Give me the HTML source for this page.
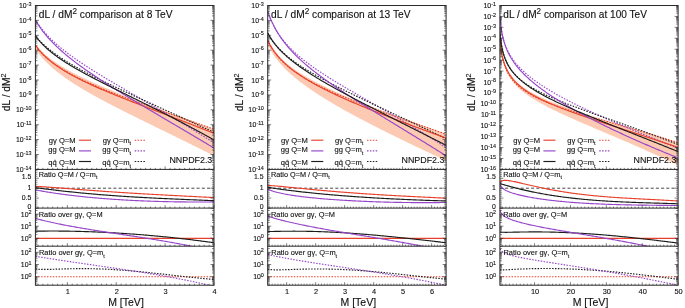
<!DOCTYPE html>
<html><head><meta charset="utf-8"><style>
html,body{margin:0;padding:0;background:#fff;}
svg{display:block;filter:blur(0.3px);}
text{font-family:"Liberation Sans", sans-serif;fill:#111;stroke:#111;stroke-width:0.12px;}
</style></head><body>
<svg width="685" height="308" viewBox="0 0 685 308">
<defs><clipPath id="c00"><rect x="35.4" y="5.5" width="178.6" height="163.9"/></clipPath><clipPath id="c01"><rect x="35.4" y="169.4" width="178.6" height="38.7"/></clipPath><clipPath id="c02"><rect x="35.4" y="208.1" width="178.6" height="38.1"/></clipPath><clipPath id="c03"><rect x="35.4" y="246.2" width="178.6" height="39"/></clipPath><clipPath id="c10"><rect x="267.7" y="5.5" width="178.4" height="163.9"/></clipPath><clipPath id="c11"><rect x="267.7" y="169.4" width="178.4" height="38.7"/></clipPath><clipPath id="c12"><rect x="267.7" y="208.1" width="178.4" height="38.1"/></clipPath><clipPath id="c13"><rect x="267.7" y="246.2" width="178.4" height="39"/></clipPath><clipPath id="c20"><rect x="499.9" y="5.5" width="178.2" height="163.9"/></clipPath><clipPath id="c21"><rect x="499.9" y="169.4" width="178.2" height="38.7"/></clipPath><clipPath id="c22"><rect x="499.9" y="208.1" width="178.2" height="38.1"/></clipPath><clipPath id="c23"><rect x="499.9" y="246.2" width="178.2" height="39"/></clipPath></defs>
<rect width="685" height="308" fill="#fff"/>
<g clip-path="url(#c00)" fill="none" stroke-width="1.15">
<path d="M35.4 43.63 L36.52 45.14 L37.65 46.55 L38.77 47.89 L39.89 49.16 L41.02 50.37 L42.14 51.52 L43.26 52.62 L44.39 53.68 L45.51 54.69 L46.63 55.67 L47.76 56.61 L48.88 57.52 L50 58.4 L51.13 59.25 L52.25 60.07 L53.37 60.88 L54.5 61.66 L55.62 62.41 L56.74 63.15 L57.87 63.87 L58.99 64.58 L60.11 65.27 L61.24 65.98 L62.36 66.69 L63.48 67.37 L64.61 68.05 L65.73 68.71 L66.85 69.36 L67.97 70 L69.1 70.63 L70.22 71.25 L71.34 71.86 L72.47 72.46 L73.59 73.06 L74.71 73.64 L75.84 74.22 L76.96 74.79 L78.08 75.35 L79.21 75.91 L80.33 76.46 L81.45 77 L82.58 77.54 L83.7 78.07 L84.82 78.6 L85.95 79.12 L87.07 79.64 L88.19 80.15 L89.32 80.66 L90.44 81.17 L91.56 81.69 L92.69 82.21 L93.81 82.72 L94.93 83.23 L96.06 83.73 L97.18 84.23 L98.3 84.73 L99.43 85.22 L100.55 85.72 L101.67 86.21 L102.8 86.69 L103.92 87.18 L105.04 87.66 L106.17 88.14 L107.29 88.61 L108.41 89.09 L109.54 89.56 L110.66 90.03 L111.78 90.5 L112.91 90.96 L114.03 91.43 L115.15 91.89 L116.28 92.35 L117.4 92.81 L118.52 93.27 L119.65 93.72 L120.77 94.18 L121.89 94.63 L123.02 95.08 L124.14 95.53 L125.26 95.98 L126.38 96.43 L127.51 96.88 L128.63 97.33 L129.75 97.77 L130.88 98.2 L132 98.63 L133.12 99.05 L134.25 99.47 L135.37 99.9 L136.49 100.32 L137.62 100.74 L138.74 101.16 L139.86 101.58 L140.99 102 L142.11 102.42 L143.23 102.84 L144.36 103.25 L145.48 103.67 L146.6 104.09 L147.73 104.51 L148.85 104.92 L149.97 105.34 L151.1 105.76 L152.22 106.17 L153.34 106.59 L154.47 107 L155.59 107.42 L156.71 107.83 L157.84 108.25 L158.96 108.66 L160.08 109.08 L161.21 109.49 L162.33 109.91 L163.45 110.32 L164.58 110.74 L165.7 111.15 L166.82 111.57 L167.95 111.98 L169.07 112.4 L170.19 112.82 L171.32 113.23 L172.44 113.65 L173.56 114.06 L174.69 114.48 L175.81 114.9 L176.93 115.31 L178.06 115.73 L179.18 116.15 L180.3 116.57 L181.43 116.98 L182.55 117.4 L183.67 117.82 L184.79 118.24 L185.92 118.66 L187.04 119.08 L188.16 119.5 L189.29 119.92 L190.41 120.34 L191.53 120.76 L192.66 121.18 L193.78 121.61 L194.9 122.03 L196.03 122.45 L197.15 122.88 L198.27 123.3 L199.4 123.73 L200.52 124.15 L201.64 124.58 L202.77 125 L203.89 125.43 L205.01 125.86 L206.14 126.29 L207.26 126.72 L208.38 127.15 L209.51 127.58 L210.63 128.01 L211.75 128.44 L212.88 128.87 L214 129.3 L214 155.8 L212.88 155.24 L211.75 154.67 L210.63 154.1 L209.51 153.54 L208.38 152.97 L207.26 152.41 L206.14 151.85 L205.01 151.29 L203.89 150.72 L202.77 150.16 L201.64 149.6 L200.52 149.04 L199.4 148.48 L198.27 147.92 L197.15 147.36 L196.03 146.8 L194.9 146.25 L193.78 145.69 L192.66 145.13 L191.53 144.58 L190.41 144.02 L189.29 143.46 L188.16 142.91 L187.04 142.35 L185.92 141.8 L184.79 141.25 L183.67 140.69 L182.55 140.14 L181.43 139.59 L180.3 139.03 L179.18 138.48 L178.06 137.93 L176.93 137.38 L175.81 136.83 L174.69 136.28 L173.56 135.72 L172.44 135.17 L171.32 134.62 L170.19 134.07 L169.07 133.52 L167.95 132.97 L166.82 132.42 L165.7 131.87 L164.58 131.32 L163.45 130.77 L162.33 130.22 L161.21 129.67 L160.08 129.13 L158.96 128.58 L157.84 128.03 L156.71 127.48 L155.59 126.93 L154.47 126.38 L153.34 125.83 L152.22 125.28 L151.1 124.73 L149.97 124.18 L148.85 123.62 L147.73 123.07 L146.6 122.52 L145.48 121.97 L144.36 121.42 L143.23 120.87 L142.11 120.31 L140.99 119.76 L139.86 119.21 L138.74 118.65 L137.62 118.1 L136.49 117.54 L135.37 116.98 L134.25 116.43 L133.12 115.87 L132 115.31 L130.88 114.75 L129.75 114.19 L128.63 113.63 L127.51 113.07 L126.38 112.51 L125.26 111.94 L124.14 111.38 L123.02 110.81 L121.89 110.24 L120.77 109.68 L119.65 109.11 L118.52 108.53 L117.4 107.96 L116.28 107.39 L115.15 106.81 L114.03 106.23 L112.91 105.65 L111.78 105.07 L110.66 104.49 L109.54 103.91 L108.41 103.32 L107.29 102.73 L106.17 102.14 L105.04 101.55 L103.92 100.95 L102.8 100.35 L101.67 99.75 L100.55 99.15 L99.43 98.54 L98.3 97.93 L97.18 97.32 L96.06 96.7 L94.93 96.09 L93.81 95.46 L92.69 94.84 L91.56 94.21 L90.44 93.57 L89.32 92.94 L88.19 92.29 L87.07 91.65 L85.95 91 L84.82 90.34 L83.7 89.68 L82.58 89.01 L81.45 88.34 L80.33 87.66 L79.21 86.98 L78.08 86.29 L76.96 85.59 L75.84 84.89 L74.71 84.18 L73.59 83.46 L72.47 82.74 L71.34 82 L70.22 81.26 L69.1 80.51 L67.97 79.75 L66.85 78.97 L65.73 78.19 L64.61 77.4 L63.48 76.59 L62.36 75.77 L61.24 74.94 L60.11 74.09 L58.99 73.23 L57.87 72.35 L56.74 71.46 L55.62 70.55 L54.5 69.62 L53.37 68.67 L52.25 67.69 L51.13 66.7 L50 65.67 L48.88 64.62 L47.76 63.55 L46.63 62.44 L45.51 61.29 L44.39 60.11 L43.26 58.88 L42.14 57.62 L41.02 56.3 L39.89 54.93 L38.77 53.49 L37.65 51.99 L36.52 50.42 L35.4 48.76Z" fill="#fcc9b2" stroke="none"/>
<path d="M35.4 45.86 L36.52 47.33 L37.65 48.72 L38.77 50.04 L39.89 51.3 L41.02 52.5 L42.14 53.65 L43.26 54.75 L44.39 55.82 L45.51 56.84 L46.63 57.83 L47.76 58.79 L48.88 59.71 L50 60.61 L51.13 61.49 L52.25 62.34 L53.37 63.17 L54.5 63.97 L55.62 64.76 L56.74 65.53 L57.87 66.29 L58.99 67.02 L60.11 67.75 L61.24 68.46 L62.36 69.15 L63.48 69.83 L64.61 70.5 L65.73 71.16 L66.85 71.81 L67.97 72.45 L69.1 73.07 L70.22 73.69 L71.34 74.3 L72.47 74.9 L73.59 75.5 L74.71 76.08 L75.84 76.66 L76.96 77.23 L78.08 77.79 L79.21 78.35 L80.33 78.9 L81.45 79.45 L82.58 79.99 L83.7 80.52 L84.82 81.05 L85.95 81.57 L87.07 82.09 L88.19 82.6 L89.32 83.11 L90.44 83.62 L91.56 84.12 L92.69 84.61 L93.81 85.11 L94.93 85.6 L96.06 86.08 L97.18 86.56 L98.3 87.04 L99.43 87.52 L100.55 87.99 L101.67 88.46 L102.8 88.93 L103.92 89.39 L105.04 89.85 L106.17 90.31 L107.29 90.76 L108.41 91.22 L109.54 91.67 L110.66 92.11 L111.78 92.56 L112.91 93 L114.03 93.45 L115.15 93.89 L116.28 94.32 L117.4 94.76 L118.52 95.19 L119.65 95.63 L120.77 96.06 L121.89 96.49 L123.02 96.91 L124.14 97.34 L125.26 97.76 L126.38 98.19 L127.51 98.61 L128.63 99.03 L129.75 99.45 L130.88 99.87 L132 100.28 L133.12 100.7 L134.25 101.11 L135.37 101.52 L136.49 101.94 L137.62 102.35 L138.74 102.76 L139.86 103.17 L140.99 103.57 L142.11 103.98 L143.23 104.39 L144.36 104.79 L145.48 105.2 L146.6 105.6 L147.73 106 L148.85 106.41 L149.97 106.81 L151.1 107.21 L152.22 107.61 L153.34 108.01 L154.47 108.41 L155.59 108.81 L156.71 109.2 L157.84 109.6 L158.96 110 L160.08 110.4 L161.21 110.79 L162.33 111.19 L163.45 111.58 L164.58 111.98 L165.7 112.37 L166.82 112.77 L167.95 113.16 L169.07 113.55 L170.19 113.95 L171.32 114.34 L172.44 114.73 L173.56 115.12 L174.69 115.52 L175.81 115.91 L176.93 116.3 L178.06 116.69 L179.18 117.08 L180.3 117.47 L181.43 117.86 L182.55 118.25 L183.67 118.65 L184.79 119.04 L185.92 119.43 L187.04 119.82 L188.16 120.21 L189.29 120.6 L190.41 120.99 L191.53 121.38 L192.66 121.77 L193.78 122.16 L194.9 122.55 L196.03 122.94 L197.15 123.33 L198.27 123.72 L199.4 124.11 L200.52 124.5 L201.64 124.89 L202.77 125.28 L203.89 125.67 L205.01 126.06 L206.14 126.45 L207.26 126.84 L208.38 127.23 L209.51 127.62 L210.63 128.01 L211.75 128.41 L212.88 128.8 L214 129.19" stroke="#e8402a" stroke-dasharray="1.5 1.4"/>
<path d="M35.4 19.74 L36.52 21.56 L37.65 23.27 L38.77 24.91 L39.89 26.46 L41.02 27.96 L42.14 29.39 L43.26 30.77 L44.39 32.1 L45.51 33.39 L46.63 34.63 L47.76 35.84 L48.88 37.02 L50 38.16 L51.13 39.27 L52.25 40.36 L53.37 41.42 L54.5 42.45 L55.62 43.47 L56.74 44.46 L57.87 45.44 L58.99 46.4 L60.11 47.34 L61.24 48.26 L62.36 49.17 L63.48 50.07 L64.61 50.95 L65.73 51.82 L66.85 52.68 L67.97 53.52 L69.1 54.36 L70.22 55.19 L71.34 56.01 L72.47 56.81 L73.59 57.61 L74.71 58.4 L75.84 59.19 L76.96 59.97 L78.08 60.73 L79.21 61.5 L80.33 62.26 L81.45 63.01 L82.58 63.75 L83.7 64.49 L84.82 65.23 L85.95 65.96 L87.07 66.68 L88.19 67.4 L89.32 68.12 L90.44 68.83 L91.56 69.54 L92.69 70.25 L93.81 70.95 L94.93 71.65 L96.06 72.34 L97.18 73.04 L98.3 73.73 L99.43 74.41 L100.55 75.1 L101.67 75.78 L102.8 76.46 L103.92 77.14 L105.04 77.81 L106.17 78.49 L107.29 79.16 L108.41 79.83 L109.54 80.5 L110.66 81.17 L111.78 81.83 L112.91 82.5 L114.03 83.16 L115.15 83.82 L116.28 84.48 L117.4 85.14 L118.52 85.8 L119.65 86.46 L120.77 87.12 L121.89 87.77 L123.02 88.43 L124.14 89.09 L125.26 89.74 L126.38 90.39 L127.51 91.05 L128.63 91.7 L129.75 92.36 L130.88 93.01 L132 93.66 L133.12 94.31 L134.25 94.97 L135.37 95.62 L136.49 96.27 L137.62 96.92 L138.74 97.58 L139.86 98.23 L140.99 98.88 L142.11 99.53 L143.23 100.19 L144.36 100.84 L145.48 101.49 L146.6 102.15 L147.73 102.8 L148.85 103.46 L149.97 104.11 L151.1 104.77 L152.22 105.42 L153.34 106.08 L154.47 106.74 L155.59 107.39 L156.71 108.05 L157.84 108.71 L158.96 109.37 L160.08 110.03 L161.21 110.69 L162.33 111.35 L163.45 112.01 L164.58 112.68 L165.7 113.34 L166.82 114.01 L167.95 114.67 L169.07 115.34 L170.19 116 L171.32 116.67 L172.44 117.34 L173.56 118.01 L174.69 118.68 L175.81 119.35 L176.93 120.03 L178.06 120.7 L179.18 121.38 L180.3 122.05 L181.43 122.73 L182.55 123.41 L183.67 124.09 L184.79 124.77 L185.92 125.45 L187.04 126.13 L188.16 126.82 L189.29 127.5 L190.41 128.19 L191.53 128.87 L192.66 129.56 L193.78 130.25 L194.9 130.94 L196.03 131.64 L197.15 132.33 L198.27 133.02 L199.4 133.72 L200.52 134.42 L201.64 135.12 L202.77 135.82 L203.89 136.52 L205.01 137.22 L206.14 137.93 L207.26 138.63 L208.38 139.34 L209.51 140.05 L210.63 140.76 L211.75 141.47 L212.88 142.18 L214 142.89" stroke="#9646c8" stroke-dasharray="1.5 1.4"/>
<path d="M35.4 35.65 L36.52 37.04 L37.65 38.36 L38.77 39.62 L39.89 40.83 L41.02 41.99 L42.14 43.11 L43.26 44.19 L44.39 45.23 L45.51 46.24 L46.63 47.23 L47.76 48.18 L48.88 49.11 L50 50.02 L51.13 50.9 L52.25 51.77 L53.37 52.61 L54.5 53.44 L55.62 54.26 L56.74 55.05 L57.87 55.84 L58.99 56.61 L60.11 57.37 L61.24 58.11 L62.36 58.85 L63.48 59.57 L64.61 60.28 L65.73 60.99 L66.85 61.69 L67.97 62.37 L69.1 63.05 L70.22 63.72 L71.34 64.39 L72.47 65.05 L73.59 65.7 L74.71 66.34 L75.84 66.98 L76.96 67.61 L78.08 68.24 L79.21 68.86 L80.33 69.48 L81.45 70.09 L82.58 70.7 L83.7 71.3 L84.82 71.9 L85.95 72.5 L87.07 73.09 L88.19 73.68 L89.32 74.26 L90.44 74.84 L91.56 75.42 L92.69 76 L93.81 76.57 L94.93 77.14 L96.06 77.7 L97.18 78.27 L98.3 78.83 L99.43 79.38 L100.55 79.94 L101.67 80.49 L102.8 81.05 L103.92 81.6 L105.04 82.14 L106.17 82.69 L107.29 83.23 L108.41 83.78 L109.54 84.32 L110.66 84.85 L111.78 85.39 L112.91 85.93 L114.03 86.46 L115.15 87 L116.28 87.53 L117.4 88.06 L118.52 88.59 L119.65 89.12 L120.77 89.64 L121.89 90.17 L123.02 90.69 L124.14 91.22 L125.26 91.74 L126.38 92.26 L127.51 92.78 L128.63 93.3 L129.75 93.82 L130.88 94.34 L132 94.86 L133.12 95.38 L134.25 95.9 L135.37 96.41 L136.49 96.93 L137.62 97.44 L138.74 97.96 L139.86 98.47 L140.99 98.99 L142.11 99.5 L143.23 100.01 L144.36 100.53 L145.48 101.04 L146.6 101.55 L147.73 102.06 L148.85 102.58 L149.97 103.09 L151.1 103.6 L152.22 104.11 L153.34 104.62 L154.47 105.13 L155.59 105.64 L156.71 106.15 L157.84 106.66 L158.96 107.17 L160.08 107.68 L161.21 108.19 L162.33 108.7 L163.45 109.22 L164.58 109.73 L165.7 110.24 L166.82 110.75 L167.95 111.26 L169.07 111.77 L170.19 112.28 L171.32 112.79 L172.44 113.3 L173.56 113.81 L174.69 114.32 L175.81 114.83 L176.93 115.34 L178.06 115.86 L179.18 116.37 L180.3 116.88 L181.43 117.39 L182.55 117.91 L183.67 118.42 L184.79 118.93 L185.92 119.44 L187.04 119.96 L188.16 120.47 L189.29 120.99 L190.41 121.5 L191.53 122.02 L192.66 122.53 L193.78 123.05 L194.9 123.56 L196.03 124.08 L197.15 124.6 L198.27 125.11 L199.4 125.63 L200.52 126.15 L201.64 126.67 L202.77 127.19 L203.89 127.7 L205.01 128.22 L206.14 128.74 L207.26 129.26 L208.38 129.79 L209.51 130.31 L210.63 130.83 L211.75 131.35 L212.88 131.87 L214 132.4" stroke="#1c1c1c" stroke-dasharray="1.5 1.4"/>
<path d="M35.4 45.15 L36.52 46.72 L37.65 48.19 L38.77 49.59 L39.89 50.91 L41.02 52.18 L42.14 53.39 L43.26 54.55 L44.39 55.66 L45.51 56.74 L46.63 57.77 L47.76 58.77 L48.88 59.74 L50 60.68 L51.13 61.59 L52.25 62.47 L53.37 63.33 L54.5 64.17 L55.62 64.99 L56.74 65.78 L57.87 66.56 L58.99 67.32 L60.11 68.07 L61.24 68.8 L62.36 69.52 L63.48 70.22 L64.61 70.91 L65.73 71.59 L66.85 72.25 L67.97 72.91 L69.1 73.55 L70.22 74.19 L71.34 74.81 L72.47 75.43 L73.59 76.04 L74.71 76.64 L75.84 77.23 L76.96 77.82 L78.08 78.39 L79.21 78.97 L80.33 79.53 L81.45 80.09 L82.58 80.64 L83.7 81.19 L84.82 81.73 L85.95 82.27 L87.07 82.8 L88.19 83.33 L89.32 83.85 L90.44 84.37 L91.56 84.88 L92.69 85.39 L93.81 85.9 L94.93 86.4 L96.06 86.9 L97.18 87.4 L98.3 87.89 L99.43 88.38 L100.55 88.86 L101.67 89.35 L102.8 89.83 L103.92 90.31 L105.04 90.78 L106.17 91.25 L107.29 91.72 L108.41 92.19 L109.54 92.66 L110.66 93.12 L111.78 93.59 L112.91 94.05 L114.03 94.51 L115.15 94.96 L116.28 95.42 L117.4 95.87 L118.52 96.32 L119.65 96.77 L120.77 97.22 L121.89 97.67 L123.02 98.12 L124.14 98.56 L125.26 99.01 L126.38 99.45 L127.51 99.89 L128.63 100.33 L129.75 100.77 L130.88 101.21 L132 101.65 L133.12 102.09 L134.25 102.52 L135.37 102.96 L136.49 103.4 L137.62 103.83 L138.74 104.26 L139.86 104.7 L140.99 105.13 L142.11 105.56 L143.23 105.99 L144.36 106.43 L145.48 106.86 L146.6 107.29 L147.73 107.72 L148.85 108.15 L149.97 108.58 L151.1 109.01 L152.22 109.44 L153.34 109.87 L154.47 110.29 L155.59 110.72 L156.71 111.15 L157.84 111.58 L158.96 112.01 L160.08 112.44 L161.21 112.87 L162.33 113.29 L163.45 113.72 L164.58 114.15 L165.7 114.58 L166.82 115.01 L167.95 115.44 L169.07 115.86 L170.19 116.29 L171.32 116.72 L172.44 117.15 L173.56 117.58 L174.69 118.01 L175.81 118.44 L176.93 118.87 L178.06 119.3 L179.18 119.73 L180.3 120.16 L181.43 120.6 L182.55 121.03 L183.67 121.46 L184.79 121.89 L185.92 122.32 L187.04 122.76 L188.16 123.19 L189.29 123.63 L190.41 124.06 L191.53 124.49 L192.66 124.93 L193.78 125.37 L194.9 125.8 L196.03 126.24 L197.15 126.68 L198.27 127.11 L199.4 127.55 L200.52 127.99 L201.64 128.43 L202.77 128.87 L203.89 129.31 L205.01 129.75 L206.14 130.19 L207.26 130.64 L208.38 131.08 L209.51 131.52 L210.63 131.97 L211.75 132.41 L212.88 132.86 L214 133.3" stroke="#e8402a"/>
<path d="M35.4 20.05 L36.52 21.97 L37.65 23.79 L38.77 25.53 L39.89 27.19 L41.02 28.78 L42.14 30.31 L43.26 31.79 L44.39 33.22 L45.51 34.6 L46.63 35.94 L47.76 37.25 L48.88 38.51 L50 39.75 L51.13 40.95 L52.25 42.12 L53.37 43.27 L54.5 44.4 L55.62 45.5 L56.74 46.58 L57.87 47.64 L58.99 48.68 L60.11 49.7 L61.24 50.71 L62.36 51.7 L63.48 52.67 L64.61 53.63 L65.73 54.58 L66.85 55.52 L67.97 56.44 L69.1 57.35 L70.22 58.25 L71.34 59.14 L72.47 60.02 L73.59 60.89 L74.71 61.75 L75.84 62.61 L76.96 63.45 L78.08 64.29 L79.21 65.12 L80.33 65.94 L81.45 66.76 L82.58 67.57 L83.7 68.37 L84.82 69.16 L85.95 69.96 L87.07 70.74 L88.19 71.52 L89.32 72.3 L90.44 73.07 L91.56 73.83 L92.69 74.59 L93.81 75.35 L94.93 76.1 L96.06 76.85 L97.18 77.6 L98.3 78.34 L99.43 79.07 L100.55 79.81 L101.67 80.54 L102.8 81.27 L103.92 81.99 L105.04 82.71 L106.17 83.43 L107.29 84.15 L108.41 84.86 L109.54 85.57 L110.66 86.28 L111.78 86.99 L112.91 87.69 L114.03 88.39 L115.15 89.09 L116.28 89.79 L117.4 90.49 L118.52 91.18 L119.65 91.87 L120.77 92.56 L121.89 93.25 L123.02 93.94 L124.14 94.63 L125.26 95.31 L126.38 95.99 L127.51 96.68 L128.63 97.36 L129.75 98.04 L130.88 98.72 L132 99.39 L133.12 100.07 L134.25 100.74 L135.37 101.42 L136.49 102.09 L137.62 102.76 L138.74 103.44 L139.86 104.11 L140.99 104.78 L142.11 105.45 L143.23 106.12 L144.36 106.78 L145.48 107.45 L146.6 108.12 L147.73 108.79 L148.85 109.45 L149.97 110.12 L151.1 110.78 L152.22 111.45 L153.34 112.11 L154.47 112.78 L155.59 113.44 L156.71 114.1 L157.84 114.77 L158.96 115.43 L160.08 116.09 L161.21 116.76 L162.33 117.42 L163.45 118.08 L164.58 118.74 L165.7 119.41 L166.82 120.07 L167.95 120.73 L169.07 121.39 L170.19 122.05 L171.32 122.72 L172.44 123.38 L173.56 124.04 L174.69 124.7 L175.81 125.37 L176.93 126.03 L178.06 126.69 L179.18 127.36 L180.3 128.02 L181.43 128.68 L182.55 129.35 L183.67 130.01 L184.79 130.67 L185.92 131.34 L187.04 132 L188.16 132.67 L189.29 133.33 L190.41 134 L191.53 134.66 L192.66 135.33 L193.78 136 L194.9 136.66 L196.03 137.33 L197.15 138 L198.27 138.67 L199.4 139.34 L200.52 140.01 L201.64 140.68 L202.77 141.35 L203.89 142.02 L205.01 142.69 L206.14 143.36 L207.26 144.03 L208.38 144.7 L209.51 145.38 L210.63 146.05 L211.75 146.72 L212.88 147.4 L214 148.07" stroke="#9646c8"/>
<path d="M35.4 35.84 L36.52 37.35 L37.65 38.78 L38.77 40.14 L39.89 41.44 L41.02 42.68 L42.14 43.87 L43.26 45.02 L44.39 46.12 L45.51 47.19 L46.63 48.22 L47.76 49.23 L48.88 50.2 L50 51.15 L51.13 52.07 L52.25 52.97 L53.37 53.84 L54.5 54.7 L55.62 55.54 L56.74 56.36 L57.87 57.17 L58.99 57.96 L60.11 58.74 L61.24 59.5 L62.36 60.26 L63.48 61 L64.61 61.73 L65.73 62.44 L66.85 63.15 L67.97 63.85 L69.1 64.55 L70.22 65.23 L71.34 65.91 L72.47 66.57 L73.59 67.24 L74.71 67.89 L75.84 68.54 L76.96 69.18 L78.08 69.82 L79.21 70.45 L80.33 71.08 L81.45 71.7 L82.58 72.32 L83.7 72.93 L84.82 73.54 L85.95 74.15 L87.07 74.75 L88.19 75.35 L89.32 75.95 L90.44 76.54 L91.56 77.13 L92.69 77.71 L93.81 78.3 L94.93 78.88 L96.06 79.46 L97.18 80.04 L98.3 80.61 L99.43 81.19 L100.55 81.76 L101.67 82.33 L102.8 82.89 L103.92 83.46 L105.04 84.03 L106.17 84.59 L107.29 85.15 L108.41 85.71 L109.54 86.27 L110.66 86.83 L111.78 87.39 L112.91 87.95 L114.03 88.51 L115.15 89.06 L116.28 89.62 L117.4 90.17 L118.52 90.73 L119.65 91.28 L120.77 91.84 L121.89 92.39 L123.02 92.94 L124.14 93.49 L125.26 94.05 L126.38 94.6 L127.51 95.15 L128.63 95.71 L129.75 96.26 L130.88 96.81 L132 97.36 L133.12 97.92 L134.25 98.47 L135.37 99.02 L136.49 99.58 L137.62 100.13 L138.74 100.69 L139.86 101.24 L140.99 101.8 L142.11 102.35 L143.23 102.91 L144.36 103.46 L145.48 104.02 L146.6 104.58 L147.73 105.14 L148.85 105.7 L149.97 106.26 L151.1 106.82 L152.22 107.38 L153.34 107.94 L154.47 108.5 L155.59 109.07 L156.71 109.63 L157.84 110.2 L158.96 110.76 L160.08 111.33 L161.21 111.9 L162.33 112.47 L163.45 113.04 L164.58 113.61 L165.7 114.18 L166.82 114.75 L167.95 115.32 L169.07 115.9 L170.19 116.47 L171.32 117.05 L172.44 117.63 L173.56 118.21 L174.69 118.79 L175.81 119.37 L176.93 119.95 L178.06 120.54 L179.18 121.12 L180.3 121.71 L181.43 122.29 L182.55 122.88 L183.67 123.47 L184.79 124.06 L185.92 124.66 L187.04 125.25 L188.16 125.84 L189.29 126.44 L190.41 127.04 L191.53 127.64 L192.66 128.24 L193.78 128.84 L194.9 129.44 L196.03 130.04 L197.15 130.65 L198.27 131.26 L199.4 131.87 L200.52 132.48 L201.64 133.09 L202.77 133.7 L203.89 134.31 L205.01 134.93 L206.14 135.55 L207.26 136.16 L208.38 136.79 L209.51 137.41 L210.63 138.03 L211.75 138.65 L212.88 139.28 L214 139.91" stroke="#1c1c1c"/>
</g>
<g clip-path="url(#c01)" fill="none" stroke-width="1.15">
<line x1="35.4" y1="188.2" x2="214" y2="188.2" stroke="#333" stroke-width="0.9" stroke-dasharray="3 2.2"/>
<path d="M35.4 186.44 L36.52 186.47 L37.65 186.52 L38.77 186.56 L39.89 186.62 L41.02 186.67 L42.14 186.74 L43.26 186.8 L44.39 186.87 L45.51 186.94 L46.63 187.01 L47.76 187.09 L48.88 187.16 L50 187.24 L51.13 187.32 L52.25 187.41 L53.37 187.49 L54.5 187.57 L55.62 187.66 L56.74 187.74 L57.87 187.83 L58.99 187.92 L60.11 188 L61.24 188.09 L62.36 188.18 L63.48 188.27 L64.61 188.36 L65.73 188.44 L66.85 188.53 L67.97 188.62 L69.1 188.71 L70.22 188.8 L71.34 188.89 L72.47 188.98 L73.59 189.07 L74.71 189.15 L75.84 189.24 L76.96 189.33 L78.08 189.42 L79.21 189.5 L80.33 189.59 L81.45 189.68 L82.58 189.77 L83.7 189.85 L84.82 189.94 L85.95 190.02 L87.07 190.11 L88.19 190.19 L89.32 190.28 L90.44 190.36 L91.56 190.44 L92.69 190.53 L93.81 190.61 L94.93 190.69 L96.06 190.78 L97.18 190.86 L98.3 190.94 L99.43 191.02 L100.55 191.1 L101.67 191.18 L102.8 191.26 L103.92 191.34 L105.04 191.42 L106.17 191.49 L107.29 191.57 L108.41 191.65 L109.54 191.73 L110.66 191.8 L111.78 191.88 L112.91 191.95 L114.03 192.03 L115.15 192.1 L116.28 192.18 L117.4 192.25 L118.52 192.32 L119.65 192.4 L120.77 192.47 L121.89 192.54 L123.02 192.61 L124.14 192.69 L125.26 192.76 L126.38 192.83 L127.51 192.9 L128.63 192.97 L129.75 193.04 L130.88 193.1 L132 193.17 L133.12 193.24 L134.25 193.31 L135.37 193.38 L136.49 193.44 L137.62 193.51 L138.74 193.58 L139.86 193.64 L140.99 193.71 L142.11 193.77 L143.23 193.84 L144.36 193.9 L145.48 193.97 L146.6 194.03 L147.73 194.1 L148.85 194.16 L149.97 194.22 L151.1 194.29 L152.22 194.35 L153.34 194.41 L154.47 194.47 L155.59 194.54 L156.71 194.6 L157.84 194.66 L158.96 194.72 L160.08 194.78 L161.21 194.84 L162.33 194.9 L163.45 194.96 L164.58 195.02 L165.7 195.08 L166.82 195.14 L167.95 195.2 L169.07 195.26 L170.19 195.32 L171.32 195.38 L172.44 195.44 L173.56 195.5 L174.69 195.56 L175.81 195.62 L176.93 195.67 L178.06 195.73 L179.18 195.79 L180.3 195.85 L181.43 195.91 L182.55 195.97 L183.67 196.02 L184.79 196.08 L185.92 196.14 L187.04 196.2 L188.16 196.25 L189.29 196.31 L190.41 196.37 L191.53 196.43 L192.66 196.48 L193.78 196.54 L194.9 196.6 L196.03 196.66 L197.15 196.71 L198.27 196.77 L199.4 196.83 L200.52 196.89 L201.64 196.95 L202.77 197 L203.89 197.06 L205.01 197.12 L206.14 197.18 L207.26 197.24 L208.38 197.29 L209.51 197.35 L210.63 197.41 L211.75 197.47 L212.88 197.53 L214 197.59" stroke="#e8402a"/>
<path d="M35.4 187.73 L36.52 187.87 L37.65 188 L38.77 188.14 L39.89 188.27 L41.02 188.41 L42.14 188.55 L43.26 188.68 L44.39 188.82 L45.51 188.96 L46.63 189.1 L47.76 189.23 L48.88 189.37 L50 189.51 L51.13 189.64 L52.25 189.78 L53.37 189.91 L54.5 190.04 L55.62 190.18 L56.74 190.31 L57.87 190.44 L58.99 190.57 L60.11 190.7 L61.24 190.82 L62.36 190.95 L63.48 191.08 L64.61 191.2 L65.73 191.33 L66.85 191.45 L67.97 191.57 L69.1 191.69 L70.22 191.81 L71.34 191.93 L72.47 192.05 L73.59 192.16 L74.71 192.28 L75.84 192.39 L76.96 192.51 L78.08 192.62 L79.21 192.73 L80.33 192.84 L81.45 192.95 L82.58 193.06 L83.7 193.17 L84.82 193.27 L85.95 193.38 L87.07 193.48 L88.19 193.58 L89.32 193.69 L90.44 193.79 L91.56 193.89 L92.69 193.99 L93.81 194.08 L94.93 194.18 L96.06 194.28 L97.18 194.37 L98.3 194.46 L99.43 194.56 L100.55 194.65 L101.67 194.74 L102.8 194.83 L103.92 194.92 L105.04 195.01 L106.17 195.09 L107.29 195.18 L108.41 195.26 L109.54 195.35 L110.66 195.43 L111.78 195.51 L112.91 195.6 L114.03 195.68 L115.15 195.76 L116.28 195.84 L117.4 195.91 L118.52 195.99 L119.65 196.07 L120.77 196.14 L121.89 196.22 L123.02 196.29 L124.14 196.37 L125.26 196.44 L126.38 196.51 L127.51 196.58 L128.63 196.65 L129.75 196.72 L130.88 196.79 L132 196.86 L133.12 196.93 L134.25 196.99 L135.37 197.06 L136.49 197.12 L137.62 197.19 L138.74 197.25 L139.86 197.32 L140.99 197.38 L142.11 197.44 L143.23 197.5 L144.36 197.57 L145.48 197.63 L146.6 197.69 L147.73 197.75 L148.85 197.8 L149.97 197.86 L151.1 197.92 L152.22 197.98 L153.34 198.04 L154.47 198.09 L155.59 198.15 L156.71 198.2 L157.84 198.26 L158.96 198.31 L160.08 198.37 L161.21 198.42 L162.33 198.47 L163.45 198.53 L164.58 198.58 L165.7 198.63 L166.82 198.68 L167.95 198.74 L169.07 198.79 L170.19 198.84 L171.32 198.89 L172.44 198.94 L173.56 198.99 L174.69 199.04 L175.81 199.09 L176.93 199.14 L178.06 199.18 L179.18 199.23 L180.3 199.28 L181.43 199.33 L182.55 199.38 L183.67 199.43 L184.79 199.47 L185.92 199.52 L187.04 199.57 L188.16 199.62 L189.29 199.66 L190.41 199.71 L191.53 199.76 L192.66 199.8 L193.78 199.85 L194.9 199.9 L196.03 199.94 L197.15 199.99 L198.27 200.04 L199.4 200.08 L200.52 200.13 L201.64 200.18 L202.77 200.22 L203.89 200.27 L205.01 200.32 L206.14 200.36 L207.26 200.41 L208.38 200.46 L209.51 200.5 L210.63 200.55 L211.75 200.6 L212.88 200.65 L214 200.69" stroke="#1c1c1c"/>
<path d="M35.4 189.83 L36.52 190.06 L37.65 190.28 L38.77 190.5 L39.89 190.71 L41.02 190.92 L42.14 191.12 L43.26 191.32 L44.39 191.52 L45.51 191.71 L46.63 191.9 L47.76 192.08 L48.88 192.26 L50 192.44 L51.13 192.62 L52.25 192.79 L53.37 192.96 L54.5 193.13 L55.62 193.3 L56.74 193.46 L57.87 193.62 L58.99 193.78 L60.11 193.93 L61.24 194.09 L62.36 194.24 L63.48 194.39 L64.61 194.53 L65.73 194.68 L66.85 194.82 L67.97 194.96 L69.1 195.1 L70.22 195.24 L71.34 195.37 L72.47 195.51 L73.59 195.64 L74.71 195.77 L75.84 195.9 L76.96 196.02 L78.08 196.15 L79.21 196.27 L80.33 196.39 L81.45 196.51 L82.58 196.63 L83.7 196.75 L84.82 196.86 L85.95 196.97 L87.07 197.09 L88.19 197.2 L89.32 197.3 L90.44 197.41 L91.56 197.52 L92.69 197.62 L93.81 197.72 L94.93 197.82 L96.06 197.92 L97.18 198.02 L98.3 198.12 L99.43 198.21 L100.55 198.31 L101.67 198.4 L102.8 198.49 L103.92 198.58 L105.04 198.67 L106.17 198.76 L107.29 198.84 L108.41 198.92 L109.54 199.01 L110.66 199.09 L111.78 199.17 L112.91 199.25 L114.03 199.33 L115.15 199.4 L116.28 199.48 L117.4 199.55 L118.52 199.62 L119.65 199.69 L120.77 199.76 L121.89 199.83 L123.02 199.9 L124.14 199.97 L125.26 200.03 L126.38 200.1 L127.51 200.16 L128.63 200.22 L129.75 200.28 L130.88 200.34 L132 200.4 L133.12 200.46 L134.25 200.51 L135.37 200.57 L136.49 200.62 L137.62 200.67 L138.74 200.72 L139.86 200.77 L140.99 200.82 L142.11 200.87 L143.23 200.92 L144.36 200.96 L145.48 201.01 L146.6 201.05 L147.73 201.09 L148.85 201.13 L149.97 201.17 L151.1 201.21 L152.22 201.25 L153.34 201.29 L154.47 201.33 L155.59 201.36 L156.71 201.39 L157.84 201.43 L158.96 201.46 L160.08 201.49 L161.21 201.52 L162.33 201.55 L163.45 201.58 L164.58 201.6 L165.7 201.63 L166.82 201.66 L167.95 201.68 L169.07 201.7 L170.19 201.73 L171.32 201.75 L172.44 201.77 L173.56 201.79 L174.69 201.81 L175.81 201.82 L176.93 201.84 L178.06 201.86 L179.18 201.87 L180.3 201.88 L181.43 201.9 L182.55 201.91 L183.67 201.92 L184.79 201.93 L185.92 201.94 L187.04 201.95 L188.16 201.96 L189.29 201.97 L190.41 201.97 L191.53 201.98 L192.66 201.98 L193.78 201.98 L194.9 201.99 L196.03 201.99 L197.15 201.99 L198.27 201.99 L199.4 201.99 L200.52 201.99 L201.64 201.99 L202.77 201.98 L203.89 201.98 L205.01 201.98 L206.14 201.97 L207.26 201.97 L208.38 201.96 L209.51 201.95 L210.63 201.94 L211.75 201.93 L212.88 201.93 L214 201.91" stroke="#9646c8"/>
</g>
<g clip-path="url(#c02)" fill="none" stroke-width="1.15">
<line x1="35.4" y1="238.3" x2="214" y2="238.3" stroke="#e8402a"/>
<path d="M35.4 231.24 L36.52 231.21 L37.65 231.19 L38.77 231.16 L39.89 231.14 L41.02 231.12 L42.14 231.1 L43.26 231.09 L44.39 231.08 L45.51 231.06 L46.63 231.05 L47.76 231.05 L48.88 231.04 L50 231.04 L51.13 231.03 L52.25 231.03 L53.37 231.03 L54.5 231.03 L55.62 231.04 L56.74 231.04 L57.87 231.05 L58.99 231.05 L60.11 231.06 L61.24 231.07 L62.36 231.08 L63.48 231.1 L64.61 231.11 L65.73 231.13 L66.85 231.14 L67.97 231.16 L69.1 231.18 L70.22 231.2 L71.34 231.22 L72.47 231.24 L73.59 231.27 L74.71 231.29 L75.84 231.32 L76.96 231.34 L78.08 231.37 L79.21 231.4 L80.33 231.43 L81.45 231.46 L82.58 231.5 L83.7 231.53 L84.82 231.57 L85.95 231.6 L87.07 231.64 L88.19 231.68 L89.32 231.72 L90.44 231.76 L91.56 231.8 L92.69 231.84 L93.81 231.89 L94.93 231.93 L96.06 231.98 L97.18 232.03 L98.3 232.07 L99.43 232.12 L100.55 232.18 L101.67 232.23 L102.8 232.28 L103.92 232.33 L105.04 232.39 L106.17 232.44 L107.29 232.5 L108.41 232.56 L109.54 232.62 L110.66 232.68 L111.78 232.74 L112.91 232.8 L114.03 232.87 L115.15 232.93 L116.28 233 L117.4 233.06 L118.52 233.13 L119.65 233.2 L120.77 233.27 L121.89 233.34 L123.02 233.41 L124.14 233.49 L125.26 233.56 L126.38 233.64 L127.51 233.71 L128.63 233.79 L129.75 233.87 L130.88 233.95 L132 234.03 L133.12 234.11 L134.25 234.19 L135.37 234.28 L136.49 234.36 L137.62 234.45 L138.74 234.53 L139.86 234.62 L140.99 234.71 L142.11 234.8 L143.23 234.89 L144.36 234.98 L145.48 235.08 L146.6 235.17 L147.73 235.27 L148.85 235.36 L149.97 235.46 L151.1 235.56 L152.22 235.66 L153.34 235.76 L154.47 235.86 L155.59 235.96 L156.71 236.07 L157.84 236.17 L158.96 236.28 L160.08 236.38 L161.21 236.49 L162.33 236.6 L163.45 236.71 L164.58 236.82 L165.7 236.93 L166.82 237.05 L167.95 237.16 L169.07 237.28 L170.19 237.39 L171.32 237.51 L172.44 237.63 L173.56 237.75 L174.69 237.87 L175.81 237.99 L176.93 238.11 L178.06 238.24 L179.18 238.36 L180.3 238.49 L181.43 238.61 L182.55 238.74 L183.67 238.87 L184.79 239 L185.92 239.13 L187.04 239.26 L188.16 239.4 L189.29 239.53 L190.41 239.67 L191.53 239.8 L192.66 239.94 L193.78 240.08 L194.9 240.22 L196.03 240.36 L197.15 240.5 L198.27 240.64 L199.4 240.79 L200.52 240.93 L201.64 241.08 L202.77 241.22 L203.89 241.37 L205.01 241.52 L206.14 241.67 L207.26 241.82 L208.38 241.97 L209.51 242.13 L210.63 242.28 L211.75 242.44 L212.88 242.59 L214 242.75" stroke="#1c1c1c"/>
<path d="M35.4 218.37 L36.52 218.69 L37.65 219 L38.77 219.3 L39.89 219.6 L41.02 219.89 L42.14 220.17 L43.26 220.45 L44.39 220.73 L45.51 221 L46.63 221.26 L47.76 221.52 L48.88 221.78 L50 222.04 L51.13 222.29 L52.25 222.53 L53.37 222.78 L54.5 223.02 L55.62 223.26 L56.74 223.49 L57.87 223.72 L58.99 223.95 L60.11 224.18 L61.24 224.4 L62.36 224.63 L63.48 224.85 L64.61 225.06 L65.73 225.28 L66.85 225.49 L67.97 225.7 L69.1 225.91 L70.22 226.12 L71.34 226.33 L72.47 226.53 L73.59 226.73 L74.71 226.93 L75.84 227.13 L76.96 227.33 L78.08 227.53 L79.21 227.72 L80.33 227.91 L81.45 228.11 L82.58 228.3 L83.7 228.49 L84.82 228.67 L85.95 228.86 L87.07 229.05 L88.19 229.23 L89.32 229.42 L90.44 229.6 L91.56 229.78 L92.69 229.96 L93.81 230.14 L94.93 230.32 L96.06 230.5 L97.18 230.68 L98.3 230.85 L99.43 231.03 L100.55 231.21 L101.67 231.38 L102.8 231.56 L103.92 231.73 L105.04 231.9 L106.17 232.08 L107.29 232.25 L108.41 232.42 L109.54 232.59 L110.66 232.76 L111.78 232.93 L112.91 233.11 L114.03 233.28 L115.15 233.45 L116.28 233.62 L117.4 233.79 L118.52 233.96 L119.65 234.13 L120.77 234.3 L121.89 234.47 L123.02 234.64 L124.14 234.81 L125.26 234.98 L126.38 235.15 L127.51 235.32 L128.63 235.49 L129.75 235.66 L130.88 235.83 L132 236 L133.12 236.17 L134.25 236.34 L135.37 236.51 L136.49 236.69 L137.62 236.86 L138.74 237.03 L139.86 237.21 L140.99 237.38 L142.11 237.56 L143.23 237.73 L144.36 237.91 L145.48 238.08 L146.6 238.26 L147.73 238.44 L148.85 238.62 L149.97 238.8 L151.1 238.98 L152.22 239.16 L153.34 239.34 L154.47 239.53 L155.59 239.71 L156.71 239.89 L157.84 240.08 L158.96 240.27 L160.08 240.46 L161.21 240.64 L162.33 240.83 L163.45 241.03 L164.58 241.22 L165.7 241.41 L166.82 241.61 L167.95 241.8 L169.07 242 L170.19 242.2 L171.32 242.4 L172.44 242.6 L173.56 242.8 L174.69 243 L175.81 243.21 L176.93 243.42 L178.06 243.63 L179.18 243.84 L180.3 244.05 L181.43 244.26 L182.55 244.47 L183.67 244.69 L184.79 244.91 L185.92 245.13 L187.04 245.35 L188.16 245.57 L189.29 245.8 L190.41 246.02 L191.53 246.25 L192.66 246.48 L193.78 246.72 L194.9 246.95 L196.03 247.19 L197.15 247.43 L198.27 247.67 L199.4 247.91 L200.52 248.15 L201.64 248.4 L202.77 248.65 L203.89 248.9 L205.01 249.15 L206.14 249.41 L207.26 249.66 L208.38 249.92 L209.51 250.19 L210.63 250.45 L211.75 250.72 L212.88 250.99 L214 251.26" stroke="#9646c8"/>
</g>
<g clip-path="url(#c03)" fill="none" stroke-width="1.15">
<line x1="35.4" y1="276.7" x2="214" y2="276.7" stroke="#e8402a" stroke-dasharray="1.5 1.4"/>
<path d="M35.4 268.98 L36.52 269.1 L37.65 269.19 L38.77 269.26 L39.89 269.31 L41.02 269.35 L42.14 269.37 L43.26 269.39 L44.39 269.4 L45.51 269.4 L46.63 269.39 L47.76 269.38 L48.88 269.36 L50 269.34 L51.13 269.31 L52.25 269.28 L53.37 269.25 L54.5 269.22 L55.62 269.19 L56.74 269.16 L57.87 269.12 L58.99 269.09 L60.11 269.05 L61.24 269.02 L62.36 268.98 L63.48 268.95 L64.61 268.92 L65.73 268.89 L66.85 268.86 L67.97 268.83 L69.1 268.8 L70.22 268.78 L71.34 268.76 L72.47 268.73 L73.59 268.71 L74.71 268.7 L75.84 268.68 L76.96 268.67 L78.08 268.66 L79.21 268.65 L80.33 268.64 L81.45 268.64 L82.58 268.64 L83.7 268.64 L84.82 268.64 L85.95 268.65 L87.07 268.66 L88.19 268.67 L89.32 268.68 L90.44 268.7 L91.56 268.72 L92.69 268.74 L93.81 268.76 L94.93 268.79 L96.06 268.82 L97.18 268.85 L98.3 268.88 L99.43 268.92 L100.55 268.96 L101.67 269 L102.8 269.04 L103.92 269.09 L105.04 269.14 L106.17 269.19 L107.29 269.24 L108.41 269.3 L109.54 269.36 L110.66 269.42 L111.78 269.48 L112.91 269.55 L114.03 269.61 L115.15 269.68 L116.28 269.75 L117.4 269.83 L118.52 269.9 L119.65 269.98 L120.77 270.06 L121.89 270.14 L123.02 270.22 L124.14 270.31 L125.26 270.4 L126.38 270.49 L127.51 270.58 L128.63 270.67 L129.75 270.76 L130.88 270.86 L132 270.96 L133.12 271.06 L134.25 271.16 L135.37 271.26 L136.49 271.37 L137.62 271.47 L138.74 271.58 L139.86 271.69 L140.99 271.8 L142.11 271.91 L143.23 272.02 L144.36 272.13 L145.48 272.25 L146.6 272.36 L147.73 272.48 L148.85 272.6 L149.97 272.71 L151.1 272.83 L152.22 272.95 L153.34 273.07 L154.47 273.2 L155.59 273.32 L156.71 273.44 L157.84 273.56 L158.96 273.69 L160.08 273.81 L161.21 273.94 L162.33 274.07 L163.45 274.19 L164.58 274.32 L165.7 274.44 L166.82 274.57 L167.95 274.7 L169.07 274.83 L170.19 274.95 L171.32 275.08 L172.44 275.21 L173.56 275.34 L174.69 275.46 L175.81 275.59 L176.93 275.72 L178.06 275.85 L179.18 275.97 L180.3 276.1 L181.43 276.22 L182.55 276.35 L183.67 276.47 L184.79 276.6 L185.92 276.72 L187.04 276.85 L188.16 276.97 L189.29 277.09 L190.41 277.21 L191.53 277.33 L192.66 277.45 L193.78 277.57 L194.9 277.68 L196.03 277.8 L197.15 277.92 L198.27 278.03 L199.4 278.14 L200.52 278.25 L201.64 278.36 L202.77 278.47 L203.89 278.58 L205.01 278.68 L206.14 278.79 L207.26 278.89 L208.38 278.99 L209.51 279.09 L210.63 279.19 L211.75 279.29 L212.88 279.38 L214 279.47" stroke="#1c1c1c" stroke-dasharray="1.5 1.4"/>
<path d="M35.4 256.3 L36.52 256.48 L37.65 256.66 L38.77 256.83 L39.89 257.01 L41.02 257.19 L42.14 257.37 L43.26 257.54 L44.39 257.72 L45.51 257.9 L46.63 258.07 L47.76 258.25 L48.88 258.43 L50 258.6 L51.13 258.78 L52.25 258.95 L53.37 259.13 L54.5 259.3 L55.62 259.48 L56.74 259.65 L57.87 259.82 L58.99 260 L60.11 260.17 L61.24 260.34 L62.36 260.51 L63.48 260.68 L64.61 260.85 L65.73 261.02 L66.85 261.19 L67.97 261.36 L69.1 261.53 L70.22 261.69 L71.34 261.86 L72.47 262.03 L73.59 262.2 L74.71 262.36 L75.84 262.53 L76.96 262.7 L78.08 262.86 L79.21 263.03 L80.33 263.19 L81.45 263.36 L82.58 263.52 L83.7 263.68 L84.82 263.85 L85.95 264.01 L87.07 264.18 L88.19 264.34 L89.32 264.5 L90.44 264.67 L91.56 264.83 L92.69 264.99 L93.81 265.15 L94.93 265.32 L96.06 265.48 L97.18 265.64 L98.3 265.81 L99.43 265.97 L100.55 266.13 L101.67 266.29 L102.8 266.46 L103.92 266.62 L105.04 266.78 L106.17 266.95 L107.29 267.11 L108.41 267.27 L109.54 267.44 L110.66 267.6 L111.78 267.76 L112.91 267.93 L114.03 268.09 L115.15 268.26 L116.28 268.42 L117.4 268.59 L118.52 268.76 L119.65 268.92 L120.77 269.09 L121.89 269.26 L123.02 269.42 L124.14 269.59 L125.26 269.76 L126.38 269.93 L127.51 270.1 L128.63 270.27 L129.75 270.44 L130.88 270.61 L132 270.78 L133.12 270.96 L134.25 271.13 L135.37 271.3 L136.49 271.48 L137.62 271.65 L138.74 271.83 L139.86 272 L140.99 272.18 L142.11 272.36 L143.23 272.54 L144.36 272.72 L145.48 272.9 L146.6 273.08 L147.73 273.26 L148.85 273.45 L149.97 273.63 L151.1 273.82 L152.22 274 L153.34 274.19 L154.47 274.38 L155.59 274.57 L156.71 274.76 L157.84 274.95 L158.96 275.14 L160.08 275.33 L161.21 275.53 L162.33 275.72 L163.45 275.92 L164.58 276.12 L165.7 276.32 L166.82 276.52 L167.95 276.72 L169.07 276.92 L170.19 277.13 L171.32 277.34 L172.44 277.54 L173.56 277.75 L174.69 277.96 L175.81 278.17 L176.93 278.39 L178.06 278.6 L179.18 278.82 L180.3 279.03 L181.43 279.25 L182.55 279.47 L183.67 279.69 L184.79 279.92 L185.92 280.14 L187.04 280.37 L188.16 280.6 L189.29 280.83 L190.41 281.06 L191.53 281.29 L192.66 281.53 L193.78 281.77 L194.9 282 L196.03 282.25 L197.15 282.49 L198.27 282.73 L199.4 282.98 L200.52 283.23 L201.64 283.48 L202.77 283.73 L203.89 283.98 L205.01 284.24 L206.14 284.5 L207.26 284.76 L208.38 285.02 L209.51 285.28 L210.63 285.55 L211.75 285.82 L212.88 286.09 L214 286.36" stroke="#9646c8" stroke-dasharray="1.5 1.4"/>
</g>
<text x="75.6" y="143" text-anchor="end" font-size="7.6">gγ Q=M</text>
<line x1="78.9" y1="140.2" x2="91" y2="140.2" stroke="#e8402a" stroke-width="1.15"/>
<text x="131" y="143" text-anchor="end" font-size="7.6">gγ Q=m<tspan dy="2.4" font-size="5.4">t</tspan></text>
<line x1="134.7" y1="140.2" x2="145" y2="140.2" stroke="#e8402a" stroke-width="1.15" stroke-dasharray="1.5 1.4"/>
<text x="75.6" y="152.2" text-anchor="end" font-size="7.6">gg Q=M</text>
<line x1="78.9" y1="150.9" x2="91" y2="150.9" stroke="#9646c8" stroke-width="1.15"/>
<text x="131" y="152.2" text-anchor="end" font-size="7.6">gg Q=m<tspan dy="2.4" font-size="5.4">t</tspan></text>
<line x1="134.7" y1="150.9" x2="145" y2="150.9" stroke="#9646c8" stroke-width="1.15" stroke-dasharray="1.5 1.4"/>
<text x="75.6" y="165.4" text-anchor="end" font-size="7.6">qq Q=M</text>
<line x1="78.9" y1="161.5" x2="91" y2="161.5" stroke="#1c1c1c" stroke-width="1.15"/>
<text x="131" y="165.4" text-anchor="end" font-size="7.6">qq Q=m<tspan dy="2.4" font-size="5.4">t</tspan></text>
<line x1="134.7" y1="161.5" x2="145" y2="161.5" stroke="#1c1c1c" stroke-width="1.15" stroke-dasharray="1.5 1.4"/>
<path d="M54.1 160.3h1.9M107.8 160.3h1.9" stroke="#333" stroke-width="0.7"/>
<rect x="35.4" y="5.5" width="178.6" height="279.7" fill="none" stroke="#2a2a2a" stroke-width="1"/>
<line x1="35.4" y1="169.4" x2="214" y2="169.4" stroke="#2a2a2a" stroke-width="1"/>
<line x1="35.4" y1="208.1" x2="214" y2="208.1" stroke="#2a2a2a" stroke-width="1"/>
<line x1="35.4" y1="246.2" x2="214" y2="246.2" stroke="#2a2a2a" stroke-width="1"/>
<path d="M35.4 169.4h3.5M214 169.4h-3.5M35.4 164.91h2M214 164.91h-2M35.4 162.29h2M214 162.29h-2M35.4 160.43h2M214 160.43h-2M35.4 158.99h2M214 158.99h-2M35.4 157.81h2M214 157.81h-2M35.4 156.81h2M214 156.81h-2M35.4 155.94h2M214 155.94h-2M35.4 155.18h2M214 155.18h-2M35.4 154.5h3.5M214 154.5h-3.5M35.4 150.01h2M214 150.01h-2M35.4 147.39h2M214 147.39h-2M35.4 145.53h2M214 145.53h-2M35.4 144.09h2M214 144.09h-2M35.4 142.91h2M214 142.91h-2M35.4 141.91h2M214 141.91h-2M35.4 141.04h2M214 141.04h-2M35.4 140.28h2M214 140.28h-2M35.4 139.6h3.5M214 139.6h-3.5M35.4 135.11h2M214 135.11h-2M35.4 132.49h2M214 132.49h-2M35.4 130.63h2M214 130.63h-2M35.4 129.19h2M214 129.19h-2M35.4 128.01h2M214 128.01h-2M35.4 127.01h2M214 127.01h-2M35.4 126.14h2M214 126.14h-2M35.4 125.38h2M214 125.38h-2M35.4 124.7h3.5M214 124.7h-3.5M35.4 120.21h2M214 120.21h-2M35.4 117.59h2M214 117.59h-2M35.4 115.73h2M214 115.73h-2M35.4 114.29h2M214 114.29h-2M35.4 113.11h2M214 113.11h-2M35.4 112.11h2M214 112.11h-2M35.4 111.24h2M214 111.24h-2M35.4 110.48h2M214 110.48h-2M35.4 109.8h3.5M214 109.8h-3.5M35.4 105.31h2M214 105.31h-2M35.4 102.69h2M214 102.69h-2M35.4 100.83h2M214 100.83h-2M35.4 99.39h2M214 99.39h-2M35.4 98.21h2M214 98.21h-2M35.4 97.21h2M214 97.21h-2M35.4 96.34h2M214 96.34h-2M35.4 95.58h2M214 95.58h-2M35.4 94.9h3.5M214 94.9h-3.5M35.4 90.41h2M214 90.41h-2M35.4 87.79h2M214 87.79h-2M35.4 85.93h2M214 85.93h-2M35.4 84.49h2M214 84.49h-2M35.4 83.31h2M214 83.31h-2M35.4 82.31h2M214 82.31h-2M35.4 81.44h2M214 81.44h-2M35.4 80.68h2M214 80.68h-2M35.4 80h3.5M214 80h-3.5M35.4 75.51h2M214 75.51h-2M35.4 72.89h2M214 72.89h-2M35.4 71.03h2M214 71.03h-2M35.4 69.59h2M214 69.59h-2M35.4 68.41h2M214 68.41h-2M35.4 67.41h2M214 67.41h-2M35.4 66.54h2M214 66.54h-2M35.4 65.78h2M214 65.78h-2M35.4 65.1h3.5M214 65.1h-3.5M35.4 60.61h2M214 60.61h-2M35.4 57.99h2M214 57.99h-2M35.4 56.13h2M214 56.13h-2M35.4 54.69h2M214 54.69h-2M35.4 53.51h2M214 53.51h-2M35.4 52.51h2M214 52.51h-2M35.4 51.64h2M214 51.64h-2M35.4 50.88h2M214 50.88h-2M35.4 50.2h3.5M214 50.2h-3.5M35.4 45.71h2M214 45.71h-2M35.4 43.09h2M214 43.09h-2M35.4 41.23h2M214 41.23h-2M35.4 39.79h2M214 39.79h-2M35.4 38.61h2M214 38.61h-2M35.4 37.61h2M214 37.61h-2M35.4 36.74h2M214 36.74h-2M35.4 35.98h2M214 35.98h-2M35.4 35.3h3.5M214 35.3h-3.5M35.4 30.81h2M214 30.81h-2M35.4 28.19h2M214 28.19h-2M35.4 26.33h2M214 26.33h-2M35.4 24.89h2M214 24.89h-2M35.4 23.71h2M214 23.71h-2M35.4 22.71h2M214 22.71h-2M35.4 21.84h2M214 21.84h-2M35.4 21.08h2M214 21.08h-2M35.4 20.4h3.5M214 20.4h-3.5M35.4 15.91h2M214 15.91h-2M35.4 13.29h2M214 13.29h-2M35.4 11.43h2M214 11.43h-2M35.4 9.99h2M214 9.99h-2M35.4 8.81h2M214 8.81h-2M35.4 7.81h2M214 7.81h-2M35.4 6.94h2M214 6.94h-2M35.4 6.18h2M214 6.18h-2M35.4 5.5h3.5M214 5.5h-3.5" stroke="#2a2a2a" stroke-width="0.6" fill="none"/>
<text x="31.5" y="171.95" text-anchor="end" font-size="6.9">10<tspan dy="-2.4" font-size="5.4">-14</tspan></text>
<text x="31.5" y="157.05" text-anchor="end" font-size="6.9">10<tspan dy="-2.4" font-size="5.4">-13</tspan></text>
<text x="31.5" y="142.15" text-anchor="end" font-size="6.9">10<tspan dy="-2.4" font-size="5.4">-12</tspan></text>
<text x="31.5" y="127.25" text-anchor="end" font-size="6.9">10<tspan dy="-2.4" font-size="5.4">-11</tspan></text>
<text x="31.5" y="112.35" text-anchor="end" font-size="6.9">10<tspan dy="-2.4" font-size="5.4">-10</tspan></text>
<text x="31.5" y="97.45" text-anchor="end" font-size="6.9">10<tspan dy="-2.4" font-size="5.4">-9</tspan></text>
<text x="31.5" y="82.55" text-anchor="end" font-size="6.9">10<tspan dy="-2.4" font-size="5.4">-8</tspan></text>
<text x="31.5" y="67.65" text-anchor="end" font-size="6.9">10<tspan dy="-2.4" font-size="5.4">-7</tspan></text>
<text x="31.5" y="52.75" text-anchor="end" font-size="6.9">10<tspan dy="-2.4" font-size="5.4">-6</tspan></text>
<text x="31.5" y="37.85" text-anchor="end" font-size="6.9">10<tspan dy="-2.4" font-size="5.4">-5</tspan></text>
<text x="31.5" y="22.95" text-anchor="end" font-size="6.9">10<tspan dy="-2.4" font-size="5.4">-4</tspan></text>
<text x="31.5" y="8.05" text-anchor="end" font-size="6.9">10<tspan dy="-2.4" font-size="5.4">-3</tspan></text>
<path d="M35.4 208.1h3.5M214 208.1h-3.5M35.4 206.11h2M214 206.11h-2M35.4 204.12h2M214 204.12h-2M35.4 202.13h2M214 202.13h-2M35.4 200.14h2M214 200.14h-2M35.4 198.15h3.5M214 198.15h-3.5M35.4 196.16h2M214 196.16h-2M35.4 194.17h2M214 194.17h-2M35.4 192.18h2M214 192.18h-2M35.4 190.19h2M214 190.19h-2M35.4 188.2h3.5M214 188.2h-3.5M35.4 186.21h2M214 186.21h-2M35.4 184.22h2M214 184.22h-2M35.4 182.23h2M214 182.23h-2M35.4 180.24h2M214 180.24h-2M35.4 178.25h3.5M214 178.25h-3.5M35.4 176.26h2M214 176.26h-2M35.4 174.27h2M214 174.27h-2M35.4 172.28h2M214 172.28h-2M35.4 170.29h2M214 170.29h-2" stroke="#2a2a2a" stroke-width="0.6" fill="none"/>
<text x="31.3" y="208.7" text-anchor="end" font-size="6.9">0</text>
<text x="31.3" y="199.9" text-anchor="end" font-size="6.9">0.5</text>
<text x="31.3" y="189.9" text-anchor="end" font-size="6.9">1</text>
<text x="31.3" y="179.2" text-anchor="end" font-size="6.9">1.5</text>
<path d="M35.4 244.63h2M214 244.63h-2M35.4 243.12h2M214 243.12h-2M35.4 241.94h2M214 241.94h-2M35.4 240.98h2M214 240.98h-2M35.4 240.17h2M214 240.17h-2M35.4 239.47h2M214 239.47h-2M35.4 238.85h2M214 238.85h-2M35.4 238.3h3.5M214 238.3h-3.5M35.4 234.66h2M214 234.66h-2M35.4 232.53h2M214 232.53h-2M35.4 231.02h2M214 231.02h-2M35.4 229.84h2M214 229.84h-2M35.4 228.88h2M214 228.88h-2M35.4 228.07h2M214 228.07h-2M35.4 227.37h2M214 227.37h-2M35.4 226.75h2M214 226.75h-2M35.4 226.2h3.5M214 226.2h-3.5M35.4 222.56h2M214 222.56h-2M35.4 220.43h2M214 220.43h-2M35.4 218.92h2M214 218.92h-2M35.4 217.74h2M214 217.74h-2M35.4 216.78h2M214 216.78h-2M35.4 215.97h2M214 215.97h-2M35.4 215.27h2M214 215.27h-2M35.4 214.65h2M214 214.65h-2M35.4 214.1h3.5M214 214.1h-3.5M35.4 210.46h2M214 210.46h-2M35.4 208.33h2M214 208.33h-2" stroke="#2a2a2a" stroke-width="0.6" fill="none"/>
<text x="31.5" y="240.85" text-anchor="end" font-size="6.9">10<tspan dy="-2.4" font-size="5.4">0</tspan></text>
<text x="31.5" y="228.75" text-anchor="end" font-size="6.9">10<tspan dy="-2.4" font-size="5.4">1</tspan></text>
<text x="31.5" y="216.65" text-anchor="end" font-size="6.9">10<tspan dy="-2.4" font-size="5.4">2</tspan></text>
<path d="M35.4 285.23h2M214 285.23h-2M35.4 283.08h2M214 283.08h-2M35.4 281.55h2M214 281.55h-2M35.4 280.37h2M214 280.37h-2M35.4 279.41h2M214 279.41h-2M35.4 278.59h2M214 278.59h-2M35.4 277.88h2M214 277.88h-2M35.4 277.26h2M214 277.26h-2M35.4 276.7h3.5M214 276.7h-3.5M35.4 273.03h2M214 273.03h-2M35.4 270.88h2M214 270.88h-2M35.4 269.35h2M214 269.35h-2M35.4 268.17h2M214 268.17h-2M35.4 267.21h2M214 267.21h-2M35.4 266.39h2M214 266.39h-2M35.4 265.68h2M214 265.68h-2M35.4 265.06h2M214 265.06h-2M35.4 264.5h3.5M214 264.5h-3.5M35.4 260.83h2M214 260.83h-2M35.4 258.68h2M214 258.68h-2M35.4 257.15h2M214 257.15h-2M35.4 255.97h2M214 255.97h-2M35.4 255.01h2M214 255.01h-2M35.4 254.19h2M214 254.19h-2M35.4 253.48h2M214 253.48h-2M35.4 252.86h2M214 252.86h-2M35.4 252.3h3.5M214 252.3h-3.5M35.4 248.63h2M214 248.63h-2M35.4 246.48h2M214 246.48h-2" stroke="#2a2a2a" stroke-width="0.6" fill="none"/>
<text x="31.5" y="279.25" text-anchor="end" font-size="6.9">10<tspan dy="-2.4" font-size="5.4">0</tspan></text>
<text x="31.5" y="267.05" text-anchor="end" font-size="6.9">10<tspan dy="-2.4" font-size="5.4">1</tspan></text>
<text x="31.5" y="254.85" text-anchor="end" font-size="6.9">10<tspan dy="-2.4" font-size="5.4">2</tspan></text>
<path d="M38.04 169.4v-1.5M38.04 208.1v-1.5M38.04 246.2v-1.5M38.04 285.2v-1.5M42.93 169.4v-1.5M42.93 208.1v-1.5M42.93 246.2v-1.5M42.93 285.2v-1.5M47.81 169.4v-1.5M47.81 208.1v-1.5M47.81 246.2v-1.5M47.81 285.2v-1.5M52.7 169.4v-1.5M52.7 208.1v-1.5M52.7 246.2v-1.5M52.7 285.2v-1.5M57.59 169.4v-1.5M57.59 208.1v-1.5M57.59 246.2v-1.5M57.59 285.2v-1.5M62.48 169.4v-1.5M62.48 208.1v-1.5M62.48 246.2v-1.5M62.48 285.2v-1.5M67.37 169.4v-3M67.37 208.1v-3M67.37 246.2v-3M67.37 285.2v-3M72.25 169.4v-1.5M72.25 208.1v-1.5M72.25 246.2v-1.5M72.25 285.2v-1.5M77.14 169.4v-1.5M77.14 208.1v-1.5M77.14 246.2v-1.5M77.14 285.2v-1.5M82.03 169.4v-1.5M82.03 208.1v-1.5M82.03 246.2v-1.5M82.03 285.2v-1.5M86.92 169.4v-1.5M86.92 208.1v-1.5M86.92 246.2v-1.5M86.92 285.2v-1.5M91.81 169.4v-1.5M91.81 208.1v-1.5M91.81 246.2v-1.5M91.81 285.2v-1.5M96.69 169.4v-1.5M96.69 208.1v-1.5M96.69 246.2v-1.5M96.69 285.2v-1.5M101.58 169.4v-1.5M101.58 208.1v-1.5M101.58 246.2v-1.5M101.58 285.2v-1.5M106.47 169.4v-1.5M106.47 208.1v-1.5M106.47 246.2v-1.5M106.47 285.2v-1.5M111.36 169.4v-1.5M111.36 208.1v-1.5M111.36 246.2v-1.5M111.36 285.2v-1.5M116.24 169.4v-3M116.24 208.1v-3M116.24 246.2v-3M116.24 285.2v-3M121.13 169.4v-1.5M121.13 208.1v-1.5M121.13 246.2v-1.5M121.13 285.2v-1.5M126.02 169.4v-1.5M126.02 208.1v-1.5M126.02 246.2v-1.5M126.02 285.2v-1.5M130.91 169.4v-1.5M130.91 208.1v-1.5M130.91 246.2v-1.5M130.91 285.2v-1.5M135.8 169.4v-1.5M135.8 208.1v-1.5M135.8 246.2v-1.5M135.8 285.2v-1.5M140.68 169.4v-1.5M140.68 208.1v-1.5M140.68 246.2v-1.5M140.68 285.2v-1.5M145.57 169.4v-1.5M145.57 208.1v-1.5M145.57 246.2v-1.5M145.57 285.2v-1.5M150.46 169.4v-1.5M150.46 208.1v-1.5M150.46 246.2v-1.5M150.46 285.2v-1.5M155.35 169.4v-1.5M155.35 208.1v-1.5M155.35 246.2v-1.5M155.35 285.2v-1.5M160.23 169.4v-1.5M160.23 208.1v-1.5M160.23 246.2v-1.5M160.23 285.2v-1.5M165.12 169.4v-3M165.12 208.1v-3M165.12 246.2v-3M165.12 285.2v-3M170.01 169.4v-1.5M170.01 208.1v-1.5M170.01 246.2v-1.5M170.01 285.2v-1.5M174.9 169.4v-1.5M174.9 208.1v-1.5M174.9 246.2v-1.5M174.9 285.2v-1.5M179.79 169.4v-1.5M179.79 208.1v-1.5M179.79 246.2v-1.5M179.79 285.2v-1.5M184.67 169.4v-1.5M184.67 208.1v-1.5M184.67 246.2v-1.5M184.67 285.2v-1.5M189.56 169.4v-1.5M189.56 208.1v-1.5M189.56 246.2v-1.5M189.56 285.2v-1.5M194.45 169.4v-1.5M194.45 208.1v-1.5M194.45 246.2v-1.5M194.45 285.2v-1.5M199.34 169.4v-1.5M199.34 208.1v-1.5M199.34 246.2v-1.5M199.34 285.2v-1.5M204.22 169.4v-1.5M204.22 208.1v-1.5M204.22 246.2v-1.5M204.22 285.2v-1.5M209.11 169.4v-1.5M209.11 208.1v-1.5M209.11 246.2v-1.5M209.11 285.2v-1.5M214 169.4v-3M214 208.1v-3M214 246.2v-3M214 285.2v-3" stroke="#2a2a2a" stroke-width="0.6" fill="none"/>
<text x="67.87" y="293.9" text-anchor="middle" font-size="7.4">1</text>
<text x="116.74" y="293.9" text-anchor="middle" font-size="7.4">2</text>
<text x="165.62" y="293.9" text-anchor="middle" font-size="7.4">3</text>
<text x="214.5" y="293.9" text-anchor="middle" font-size="7.4">4</text>
<text x="126" y="305.8" text-anchor="middle" font-size="10.5">M [TeV]</text>
<text x="38.8" y="17.9" font-size="10.2" textLength="133.8" lengthAdjust="spacingAndGlyphs">dL / dM<tspan dy="-4.4" font-size="8.2">2</tspan><tspan dy="4.4"> comparison at 8 TeV</tspan></text>
<text transform="translate(10.3,92.3) rotate(-90)" text-anchor="middle" font-size="10.2">dL / dM<tspan dy="-4" font-size="7.3">2</tspan></text>
<text x="38.7" y="176.6" font-size="7.3">Ratio Q=M / Q=m<tspan dy="2.3" font-size="5.2">t</tspan></text>
<text x="38.7" y="216.6" font-size="7.4">Ratio over gγ, Q=M</text>
<text x="39" y="255.3" font-size="7.45">Ratio over gγ, Q=m<tspan dy="2.3" font-size="5.3">t</tspan></text>
<text x="212.3" y="163.3" text-anchor="end" font-size="8.9">NNPDF2.3</text>
<g clip-path="url(#c10)" fill="none" stroke-width="1.15">
<path d="M267.7 39.04 L268.82 41.34 L269.94 43.43 L271.07 45.35 L272.19 47.14 L273.31 48.8 L274.43 50.36 L275.55 51.83 L276.68 53.23 L277.8 54.55 L278.92 55.81 L280.04 57.02 L281.16 58.17 L282.29 59.29 L283.41 60.36 L284.53 61.39 L285.65 62.39 L286.77 63.35 L287.9 64.29 L289.02 65.2 L290.14 66.08 L291.26 66.95 L292.38 67.79 L293.51 68.6 L294.63 69.4 L295.75 70.19 L296.87 70.95 L297.99 71.7 L299.12 72.43 L300.24 73.15 L301.36 73.86 L302.48 74.56 L303.6 75.24 L304.73 75.91 L305.85 76.57 L306.97 77.22 L308.09 77.86 L309.21 78.49 L310.34 79.11 L311.46 79.72 L312.58 80.32 L313.7 80.92 L314.82 81.51 L315.95 82.09 L317.07 82.67 L318.19 83.23 L319.31 83.79 L320.43 84.36 L321.56 84.93 L322.68 85.5 L323.8 86.06 L324.92 86.61 L326.04 87.16 L327.17 87.71 L328.29 88.25 L329.41 88.78 L330.53 89.32 L331.65 89.84 L332.78 90.37 L333.9 90.89 L335.02 91.4 L336.14 91.91 L337.26 92.42 L338.39 92.93 L339.51 93.43 L340.63 93.93 L341.75 94.42 L342.87 94.91 L344 95.4 L345.12 95.89 L346.24 96.37 L347.36 96.85 L348.48 97.33 L349.61 97.81 L350.73 98.28 L351.85 98.75 L352.97 99.22 L354.09 99.68 L355.22 100.15 L356.34 100.61 L357.46 101.07 L358.58 101.53 L359.71 101.98 L360.83 102.44 L361.95 102.89 L363.07 103.34 L364.19 103.79 L365.32 104.24 L366.44 104.68 L367.56 105.12 L368.68 105.57 L369.8 106.01 L370.93 106.45 L372.05 106.88 L373.17 107.32 L374.29 107.75 L375.41 108.19 L376.54 108.62 L377.66 109.05 L378.78 109.48 L379.9 109.91 L381.02 110.33 L382.15 110.76 L383.27 111.19 L384.39 111.61 L385.51 112.03 L386.63 112.45 L387.76 112.87 L388.88 113.29 L390 113.71 L391.12 114.13 L392.24 114.55 L393.37 114.96 L394.49 115.38 L395.61 115.79 L396.73 116.21 L397.85 116.62 L398.98 117.03 L400.1 117.44 L401.22 117.86 L402.34 118.27 L403.46 118.67 L404.59 119.08 L405.71 119.49 L406.83 119.9 L407.95 120.3 L409.07 120.71 L410.2 121.12 L411.32 121.52 L412.44 121.93 L413.56 122.33 L414.68 122.73 L415.81 123.14 L416.93 123.54 L418.05 123.94 L419.17 124.34 L420.29 124.74 L421.42 125.14 L422.54 125.54 L423.66 125.94 L424.78 126.34 L425.9 126.74 L427.03 127.14 L428.15 127.54 L429.27 127.94 L430.39 128.33 L431.51 128.73 L432.64 129.13 L433.76 129.52 L434.88 129.92 L436 130.32 L437.12 130.71 L438.25 131.11 L439.37 131.5 L440.49 131.9 L441.61 132.29 L442.73 132.69 L443.86 133.08 L444.98 133.48 L446.1 133.87 L446.1 160.72 L444.98 160.2 L443.86 159.68 L442.73 159.15 L441.61 158.63 L440.49 158.1 L439.37 157.58 L438.25 157.05 L437.12 156.53 L436 156 L434.88 155.47 L433.76 154.95 L432.64 154.42 L431.51 153.89 L430.39 153.36 L429.27 152.83 L428.15 152.3 L427.03 151.77 L425.9 151.24 L424.78 150.71 L423.66 150.18 L422.54 149.65 L421.42 149.11 L420.29 148.58 L419.17 148.05 L418.05 147.51 L416.93 146.98 L415.81 146.44 L414.68 145.9 L413.56 145.37 L412.44 144.83 L411.32 144.29 L410.2 143.75 L409.07 143.21 L407.95 142.67 L406.83 142.13 L405.71 141.59 L404.59 141.04 L403.46 140.5 L402.34 139.95 L401.22 139.41 L400.1 138.86 L398.98 138.31 L397.85 137.76 L396.73 137.22 L395.61 136.67 L394.49 136.11 L393.37 135.56 L392.24 135.01 L391.12 134.46 L390 133.9 L388.88 133.34 L387.76 132.79 L386.63 132.23 L385.51 131.67 L384.39 131.11 L383.27 130.55 L382.15 129.98 L381.02 129.42 L379.9 128.85 L378.78 128.29 L377.66 127.72 L376.54 127.15 L375.41 126.58 L374.29 126.01 L373.17 125.43 L372.05 124.86 L370.93 124.28 L369.8 123.7 L368.68 123.12 L367.56 122.54 L366.44 121.96 L365.32 121.37 L364.19 120.79 L363.07 120.2 L361.95 119.61 L360.83 119.02 L359.71 118.42 L358.58 117.83 L357.46 117.23 L356.34 116.63 L355.22 116.03 L354.09 115.42 L352.97 114.82 L351.85 114.21 L350.73 113.6 L349.61 112.99 L348.48 112.37 L347.36 111.75 L346.24 111.13 L345.12 110.51 L344 109.88 L342.87 109.25 L341.75 108.62 L340.63 107.98 L339.51 107.35 L338.39 106.7 L337.26 106.06 L336.14 105.41 L335.02 104.76 L333.9 104.1 L332.78 103.44 L331.65 102.78 L330.53 102.11 L329.41 101.44 L328.29 100.77 L327.17 100.09 L326.04 99.41 L324.92 98.72 L323.8 98.02 L322.68 97.32 L321.56 96.62 L320.43 95.91 L319.31 95.2 L318.19 94.48 L317.07 93.75 L315.95 93.02 L314.82 92.28 L313.7 91.53 L312.58 90.78 L311.46 90.01 L310.34 89.25 L309.21 88.47 L308.09 87.68 L306.97 86.89 L305.85 86.09 L304.73 85.27 L303.6 84.45 L302.48 83.61 L301.36 82.77 L300.24 81.91 L299.12 81.04 L297.99 80.16 L296.87 79.26 L295.75 78.35 L294.63 77.42 L293.51 76.48 L292.38 75.52 L291.26 74.53 L290.14 73.53 L289.02 72.51 L287.9 71.46 L286.77 70.39 L285.65 69.29 L284.53 68.16 L283.41 67 L282.29 65.81 L281.16 64.58 L280.04 63.3 L278.92 61.98 L277.8 60.61 L276.68 59.18 L275.55 57.68 L274.43 56.12 L273.31 54.47 L272.19 52.73 L271.07 50.87 L269.94 48.89 L268.82 46.76 L267.7 44.43Z" fill="#fcc9b2" stroke="none"/>
<path d="M267.7 40.35 L268.82 42.76 L269.94 44.94 L271.07 46.95 L272.19 48.81 L273.31 50.53 L274.43 52.15 L275.55 53.67 L276.68 55.11 L277.8 56.47 L278.92 57.77 L280.04 59 L281.16 60.19 L282.29 61.32 L283.41 62.41 L284.53 63.47 L285.65 64.48 L286.77 65.46 L287.9 66.41 L289.02 67.33 L290.14 68.23 L291.26 69.1 L292.38 69.95 L293.51 70.77 L294.63 71.58 L295.75 72.36 L296.87 73.13 L297.99 73.88 L299.12 74.62 L300.24 75.34 L301.36 76.05 L302.48 76.74 L303.6 77.42 L304.73 78.09 L305.85 78.75 L306.97 79.39 L308.09 80.03 L309.21 80.66 L310.34 81.28 L311.46 81.88 L312.58 82.48 L313.7 83.08 L314.82 83.66 L315.95 84.24 L317.07 84.81 L318.19 85.37 L319.31 85.93 L320.43 86.48 L321.56 87.02 L322.68 87.56 L323.8 88.1 L324.92 88.63 L326.04 89.15 L327.17 89.67 L328.29 90.18 L329.41 90.69 L330.53 91.2 L331.65 91.7 L332.78 92.19 L333.9 92.69 L335.02 93.17 L336.14 93.66 L337.26 94.14 L338.39 94.62 L339.51 95.1 L340.63 95.57 L341.75 96.04 L342.87 96.5 L344 96.97 L345.12 97.43 L346.24 97.89 L347.36 98.34 L348.48 98.79 L349.61 99.25 L350.73 99.69 L351.85 100.14 L352.97 100.58 L354.09 101.03 L355.22 101.47 L356.34 101.9 L357.46 102.34 L358.58 102.78 L359.71 103.21 L360.83 103.64 L361.95 104.07 L363.07 104.5 L364.19 104.92 L365.32 105.35 L366.44 105.77 L367.56 106.19 L368.68 106.62 L369.8 107.04 L370.93 107.45 L372.05 107.87 L373.17 108.29 L374.29 108.7 L375.41 109.12 L376.54 109.53 L377.66 109.94 L378.78 110.35 L379.9 110.76 L381.02 111.17 L382.15 111.58 L383.27 111.99 L384.39 112.39 L385.51 112.8 L386.63 113.2 L387.76 113.61 L388.88 114.01 L390 114.42 L391.12 114.82 L392.24 115.22 L393.37 115.62 L394.49 116.02 L395.61 116.42 L396.73 116.82 L397.85 117.22 L398.98 117.62 L400.1 118.02 L401.22 118.42 L402.34 118.81 L403.46 119.21 L404.59 119.61 L405.71 120.01 L406.83 120.4 L407.95 120.8 L409.07 121.19 L410.2 121.59 L411.32 121.98 L412.44 122.38 L413.56 122.77 L414.68 123.17 L415.81 123.56 L416.93 123.96 L418.05 124.35 L419.17 124.75 L420.29 125.14 L421.42 125.53 L422.54 125.93 L423.66 126.32 L424.78 126.71 L425.9 127.11 L427.03 127.5 L428.15 127.89 L429.27 128.29 L430.39 128.68 L431.51 129.08 L432.64 129.47 L433.76 129.86 L434.88 130.26 L436 130.65 L437.12 131.04 L438.25 131.44 L439.37 131.83 L440.49 132.23 L441.61 132.62 L442.73 133.01 L443.86 133.41 L444.98 133.8 L446.1 134.2" stroke="#e8402a" stroke-dasharray="1.5 1.4"/>
<path d="M267.7 11.9 L268.82 15.02 L269.94 17.86 L271.07 20.47 L272.19 22.87 L273.31 25.11 L274.43 27.2 L275.55 29.17 L276.68 31.03 L277.8 32.79 L278.92 34.46 L280.04 36.06 L281.16 37.59 L282.29 39.06 L283.41 40.47 L284.53 41.83 L285.65 43.14 L286.77 44.41 L287.9 45.64 L289.02 46.84 L290.14 48 L291.26 49.13 L292.38 50.23 L293.51 51.3 L294.63 52.35 L295.75 53.37 L296.87 54.37 L297.99 55.36 L299.12 56.32 L300.24 57.26 L301.36 58.19 L302.48 59.1 L303.6 60 L304.73 60.88 L305.85 61.75 L306.97 62.61 L308.09 63.45 L309.21 64.29 L310.34 65.11 L311.46 65.92 L312.58 66.72 L313.7 67.52 L314.82 68.3 L315.95 69.08 L317.07 69.85 L318.19 70.61 L319.31 71.37 L320.43 72.11 L321.56 72.86 L322.68 73.59 L323.8 74.32 L324.92 75.05 L326.04 75.77 L327.17 76.48 L328.29 77.19 L329.41 77.9 L330.53 78.6 L331.65 79.3 L332.78 80 L333.9 80.69 L335.02 81.37 L336.14 82.06 L337.26 82.74 L338.39 83.42 L339.51 84.09 L340.63 84.77 L341.75 85.44 L342.87 86.11 L344 86.77 L345.12 87.44 L346.24 88.1 L347.36 88.76 L348.48 89.42 L349.61 90.08 L350.73 90.74 L351.85 91.39 L352.97 92.05 L354.09 92.7 L355.22 93.35 L356.34 94 L357.46 94.65 L358.58 95.3 L359.71 95.95 L360.83 96.6 L361.95 97.24 L363.07 97.89 L364.19 98.54 L365.32 99.18 L366.44 99.83 L367.56 100.47 L368.68 101.12 L369.8 101.76 L370.93 102.41 L372.05 103.06 L373.17 103.7 L374.29 104.35 L375.41 104.99 L376.54 105.64 L377.66 106.29 L378.78 106.93 L379.9 107.58 L381.02 108.23 L382.15 108.87 L383.27 109.52 L384.39 110.17 L385.51 110.82 L386.63 111.47 L387.76 112.12 L388.88 112.77 L390 113.43 L391.12 114.08 L392.24 114.73 L393.37 115.39 L394.49 116.04 L395.61 116.7 L396.73 117.36 L397.85 118.02 L398.98 118.68 L400.1 119.34 L401.22 120 L402.34 120.66 L403.46 121.32 L404.59 121.99 L405.71 122.66 L406.83 123.32 L407.95 123.99 L409.07 124.66 L410.2 125.33 L411.32 126 L412.44 126.68 L413.56 127.35 L414.68 128.03 L415.81 128.71 L416.93 129.39 L418.05 130.07 L419.17 130.75 L420.29 131.43 L421.42 132.12 L422.54 132.8 L423.66 133.49 L424.78 134.18 L425.9 134.87 L427.03 135.56 L428.15 136.26 L429.27 136.95 L430.39 137.65 L431.51 138.35 L432.64 139.05 L433.76 139.75 L434.88 140.46 L436 141.16 L437.12 141.87 L438.25 142.58 L439.37 143.29 L440.49 144 L441.61 144.71 L442.73 145.43 L443.86 146.15 L444.98 146.87 L446.1 147.59" stroke="#9646c8" stroke-dasharray="1.5 1.4"/>
<path d="M267.7 33.18 L268.82 35.24 L269.94 37.13 L271.07 38.88 L272.19 40.51 L273.31 42.04 L274.43 43.48 L275.55 44.85 L276.68 46.16 L277.8 47.4 L278.92 48.59 L280.04 49.74 L281.16 50.84 L282.29 51.91 L283.41 52.94 L284.53 53.94 L285.65 54.92 L286.77 55.86 L287.9 56.78 L289.02 57.68 L290.14 58.56 L291.26 59.42 L292.38 60.27 L293.51 61.09 L294.63 61.9 L295.75 62.7 L296.87 63.48 L297.99 64.25 L299.12 65.01 L300.24 65.75 L301.36 66.49 L302.48 67.22 L303.6 67.93 L304.73 68.64 L305.85 69.34 L306.97 70.03 L308.09 70.71 L309.21 71.38 L310.34 72.05 L311.46 72.71 L312.58 73.37 L313.7 74.02 L314.82 74.66 L315.95 75.3 L317.07 75.94 L318.19 76.56 L319.31 77.19 L320.43 77.81 L321.56 78.42 L322.68 79.03 L323.8 79.64 L324.92 80.24 L326.04 80.84 L327.17 81.44 L328.29 82.03 L329.41 82.62 L330.53 83.21 L331.65 83.79 L332.78 84.37 L333.9 84.95 L335.02 85.53 L336.14 86.1 L337.26 86.67 L338.39 87.24 L339.51 87.81 L340.63 88.37 L341.75 88.94 L342.87 89.5 L344 90.06 L345.12 90.61 L346.24 91.17 L347.36 91.72 L348.48 92.28 L349.61 92.83 L350.73 93.38 L351.85 93.92 L352.97 94.47 L354.09 95.02 L355.22 95.56 L356.34 96.11 L357.46 96.65 L358.58 97.19 L359.71 97.73 L360.83 98.27 L361.95 98.81 L363.07 99.35 L364.19 99.89 L365.32 100.42 L366.44 100.96 L367.56 101.49 L368.68 102.03 L369.8 102.56 L370.93 103.09 L372.05 103.63 L373.17 104.16 L374.29 104.69 L375.41 105.22 L376.54 105.75 L377.66 106.29 L378.78 106.82 L379.9 107.35 L381.02 107.88 L382.15 108.41 L383.27 108.93 L384.39 109.46 L385.51 109.99 L386.63 110.52 L387.76 111.05 L388.88 111.58 L390 112.11 L391.12 112.63 L392.24 113.16 L393.37 113.69 L394.49 114.22 L395.61 114.75 L396.73 115.28 L397.85 115.8 L398.98 116.33 L400.1 116.86 L401.22 117.39 L402.34 117.92 L403.46 118.45 L404.59 118.98 L405.71 119.5 L406.83 120.03 L407.95 120.56 L409.07 121.09 L410.2 121.62 L411.32 122.15 L412.44 122.68 L413.56 123.21 L414.68 123.74 L415.81 124.27 L416.93 124.81 L418.05 125.34 L419.17 125.87 L420.29 126.4 L421.42 126.93 L422.54 127.47 L423.66 128 L424.78 128.53 L425.9 129.07 L427.03 129.6 L428.15 130.14 L429.27 130.67 L430.39 131.21 L431.51 131.74 L432.64 132.28 L433.76 132.82 L434.88 133.35 L436 133.89 L437.12 134.43 L438.25 134.97 L439.37 135.51 L440.49 136.05 L441.61 136.59 L442.73 137.13 L443.86 137.67 L444.98 138.21 L446.1 138.76" stroke="#1c1c1c" stroke-dasharray="1.5 1.4"/>
<path d="M267.7 40.24 L268.82 42.57 L269.94 44.7 L271.07 46.66 L272.19 48.47 L273.31 50.17 L274.43 51.77 L275.55 53.27 L276.68 54.7 L277.8 56.06 L278.92 57.35 L280.04 58.6 L281.16 59.79 L282.29 60.93 L283.41 62.04 L284.53 63.1 L285.65 64.14 L286.77 65.14 L287.9 66.11 L289.02 67.05 L290.14 67.97 L291.26 68.87 L292.38 69.74 L293.51 70.59 L294.63 71.43 L295.75 72.24 L296.87 73.04 L297.99 73.83 L299.12 74.6 L300.24 75.35 L301.36 76.09 L302.48 76.82 L303.6 77.54 L304.73 78.24 L305.85 78.93 L306.97 79.62 L308.09 80.29 L309.21 80.96 L310.34 81.61 L311.46 82.26 L312.58 82.9 L313.7 83.53 L314.82 84.15 L315.95 84.77 L317.07 85.38 L318.19 85.98 L319.31 86.57 L320.43 87.16 L321.56 87.75 L322.68 88.33 L323.8 88.9 L324.92 89.47 L326.04 90.03 L327.17 90.59 L328.29 91.14 L329.41 91.69 L330.53 92.23 L331.65 92.77 L332.78 93.31 L333.9 93.84 L335.02 94.37 L336.14 94.89 L337.26 95.41 L338.39 95.93 L339.51 96.44 L340.63 96.96 L341.75 97.46 L342.87 97.97 L344 98.47 L345.12 98.97 L346.24 99.46 L347.36 99.96 L348.48 100.45 L349.61 100.94 L350.73 101.42 L351.85 101.9 L352.97 102.39 L354.09 102.86 L355.22 103.34 L356.34 103.81 L357.46 104.29 L358.58 104.76 L359.71 105.23 L360.83 105.69 L361.95 106.16 L363.07 106.62 L364.19 107.08 L365.32 107.54 L366.44 108 L367.56 108.45 L368.68 108.91 L369.8 109.36 L370.93 109.81 L372.05 110.26 L373.17 110.71 L374.29 111.16 L375.41 111.6 L376.54 112.05 L377.66 112.49 L378.78 112.93 L379.9 113.37 L381.02 113.81 L382.15 114.25 L383.27 114.69 L384.39 115.12 L385.51 115.56 L386.63 115.99 L387.76 116.43 L388.88 116.86 L390 117.29 L391.12 117.72 L392.24 118.15 L393.37 118.58 L394.49 119.01 L395.61 119.43 L396.73 119.86 L397.85 120.29 L398.98 120.71 L400.1 121.13 L401.22 121.56 L402.34 121.98 L403.46 122.4 L404.59 122.82 L405.71 123.24 L406.83 123.66 L407.95 124.08 L409.07 124.5 L410.2 124.92 L411.32 125.34 L412.44 125.75 L413.56 126.17 L414.68 126.59 L415.81 127 L416.93 127.42 L418.05 127.83 L419.17 128.24 L420.29 128.66 L421.42 129.07 L422.54 129.48 L423.66 129.89 L424.78 130.31 L425.9 130.72 L427.03 131.13 L428.15 131.54 L429.27 131.95 L430.39 132.36 L431.51 132.77 L432.64 133.18 L433.76 133.59 L434.88 134 L436 134.41 L437.12 134.81 L438.25 135.22 L439.37 135.63 L440.49 136.04 L441.61 136.44 L442.73 136.85 L443.86 137.26 L444.98 137.66 L446.1 138.07" stroke="#e8402a"/>
<path d="M267.7 11.16 L268.82 14.38 L269.94 17.31 L271.07 20.02 L272.19 22.53 L273.31 24.87 L274.43 27.07 L275.55 29.14 L276.68 31.11 L277.8 32.98 L278.92 34.76 L280.04 36.47 L281.16 38.11 L282.29 39.69 L283.41 41.21 L284.53 42.67 L285.65 44.1 L286.77 45.47 L287.9 46.81 L289.02 48.11 L290.14 49.38 L291.26 50.62 L292.38 51.82 L293.51 53 L294.63 54.16 L295.75 55.28 L296.87 56.39 L297.99 57.48 L299.12 58.54 L300.24 59.59 L301.36 60.62 L302.48 61.63 L303.6 62.63 L304.73 63.61 L305.85 64.58 L306.97 65.53 L308.09 66.47 L309.21 67.4 L310.34 68.32 L311.46 69.23 L312.58 70.13 L313.7 71.01 L314.82 71.89 L315.95 72.76 L317.07 73.62 L318.19 74.47 L319.31 75.32 L320.43 76.15 L321.56 76.98 L322.68 77.81 L323.8 78.62 L324.92 79.43 L326.04 80.24 L327.17 81.04 L328.29 81.83 L329.41 82.62 L330.53 83.4 L331.65 84.18 L332.78 84.95 L333.9 85.72 L335.02 86.49 L336.14 87.25 L337.26 88.01 L338.39 88.76 L339.51 89.51 L340.63 90.26 L341.75 91 L342.87 91.74 L344 92.48 L345.12 93.21 L346.24 93.94 L347.36 94.67 L348.48 95.4 L349.61 96.12 L350.73 96.84 L351.85 97.56 L352.97 98.28 L354.09 98.99 L355.22 99.71 L356.34 100.42 L357.46 101.13 L358.58 101.84 L359.71 102.54 L360.83 103.25 L361.95 103.95 L363.07 104.65 L364.19 105.35 L365.32 106.05 L366.44 106.75 L367.56 107.45 L368.68 108.15 L369.8 108.84 L370.93 109.54 L372.05 110.23 L373.17 110.92 L374.29 111.61 L375.41 112.3 L376.54 112.99 L377.66 113.68 L378.78 114.37 L379.9 115.06 L381.02 115.75 L382.15 116.44 L383.27 117.12 L384.39 117.81 L385.51 118.5 L386.63 119.18 L387.76 119.87 L388.88 120.55 L390 121.24 L391.12 121.93 L392.24 122.61 L393.37 123.3 L394.49 123.98 L395.61 124.67 L396.73 125.35 L397.85 126.04 L398.98 126.72 L400.1 127.41 L401.22 128.09 L402.34 128.78 L403.46 129.46 L404.59 130.15 L405.71 130.83 L406.83 131.52 L407.95 132.21 L409.07 132.89 L410.2 133.58 L411.32 134.27 L412.44 134.96 L413.56 135.65 L414.68 136.33 L415.81 137.02 L416.93 137.71 L418.05 138.4 L419.17 139.09 L420.29 139.79 L421.42 140.48 L422.54 141.17 L423.66 141.86 L424.78 142.56 L425.9 143.25 L427.03 143.94 L428.15 144.64 L429.27 145.34 L430.39 146.03 L431.51 146.73 L432.64 147.43 L433.76 148.13 L434.88 148.83 L436 149.53 L437.12 150.23 L438.25 150.93 L439.37 151.63 L440.49 152.33 L441.61 153.04 L442.73 153.74 L443.86 154.45 L444.98 155.16 L446.1 155.86" stroke="#9646c8"/>
<path d="M267.7 32.75 L268.82 34.88 L269.94 36.84 L271.07 38.65 L272.19 40.34 L273.31 41.93 L274.43 43.44 L275.55 44.87 L276.68 46.23 L277.8 47.53 L278.92 48.78 L280.04 49.99 L281.16 51.15 L282.29 52.27 L283.41 53.36 L284.53 54.42 L285.65 55.45 L286.77 56.45 L287.9 57.43 L289.02 58.39 L290.14 59.32 L291.26 60.24 L292.38 61.14 L293.51 62.02 L294.63 62.88 L295.75 63.73 L296.87 64.57 L297.99 65.39 L299.12 66.2 L300.24 67 L301.36 67.79 L302.48 68.56 L303.6 69.33 L304.73 70.09 L305.85 70.84 L306.97 71.58 L308.09 72.32 L309.21 73.04 L310.34 73.76 L311.46 74.48 L312.58 75.18 L313.7 75.88 L314.82 76.58 L315.95 77.26 L317.07 77.95 L318.19 78.62 L319.31 79.3 L320.43 79.97 L321.56 80.63 L322.68 81.29 L323.8 81.95 L324.92 82.6 L326.04 83.24 L327.17 83.89 L328.29 84.53 L329.41 85.17 L330.53 85.8 L331.65 86.43 L332.78 87.06 L333.9 87.69 L335.02 88.31 L336.14 88.93 L337.26 89.55 L338.39 90.16 L339.51 90.77 L340.63 91.38 L341.75 91.99 L342.87 92.6 L344 93.2 L345.12 93.81 L346.24 94.41 L347.36 95.01 L348.48 95.6 L349.61 96.2 L350.73 96.79 L351.85 97.38 L352.97 97.98 L354.09 98.57 L355.22 99.15 L356.34 99.74 L357.46 100.33 L358.58 100.91 L359.71 101.49 L360.83 102.08 L361.95 102.66 L363.07 103.24 L364.19 103.82 L365.32 104.4 L366.44 104.97 L367.56 105.55 L368.68 106.13 L369.8 106.7 L370.93 107.28 L372.05 107.85 L373.17 108.42 L374.29 109 L375.41 109.57 L376.54 110.14 L377.66 110.71 L378.78 111.28 L379.9 111.85 L381.02 112.42 L382.15 112.99 L383.27 113.56 L384.39 114.13 L385.51 114.69 L386.63 115.26 L387.76 115.83 L388.88 116.39 L390 116.96 L391.12 117.53 L392.24 118.09 L393.37 118.66 L394.49 119.23 L395.61 119.79 L396.73 120.36 L397.85 120.92 L398.98 121.49 L400.1 122.05 L401.22 122.62 L402.34 123.18 L403.46 123.75 L404.59 124.31 L405.71 124.88 L406.83 125.44 L407.95 126.01 L409.07 126.57 L410.2 127.14 L411.32 127.7 L412.44 128.27 L413.56 128.83 L414.68 129.4 L415.81 129.96 L416.93 130.53 L418.05 131.09 L419.17 131.66 L420.29 132.23 L421.42 132.79 L422.54 133.36 L423.66 133.93 L424.78 134.49 L425.9 135.06 L427.03 135.63 L428.15 136.19 L429.27 136.76 L430.39 137.33 L431.51 137.9 L432.64 138.47 L433.76 139.03 L434.88 139.6 L436 140.17 L437.12 140.74 L438.25 141.31 L439.37 141.88 L440.49 142.45 L441.61 143.02 L442.73 143.6 L443.86 144.17 L444.98 144.74 L446.1 145.31" stroke="#1c1c1c"/>
</g>
<g clip-path="url(#c11)" fill="none" stroke-width="1.15">
<line x1="267.7" y1="188.2" x2="446.1" y2="188.2" stroke="#333" stroke-width="0.9" stroke-dasharray="3 2.2"/>
<path d="M267.7 185.53 L268.82 185.56 L269.94 185.61 L271.07 185.66 L272.19 185.73 L273.31 185.8 L274.43 185.88 L275.55 185.96 L276.68 186.05 L277.8 186.14 L278.92 186.24 L280.04 186.34 L281.16 186.44 L282.29 186.54 L283.41 186.65 L284.53 186.76 L285.65 186.87 L286.77 186.98 L287.9 187.09 L289.02 187.2 L290.14 187.31 L291.26 187.42 L292.38 187.53 L293.51 187.64 L294.63 187.76 L295.75 187.87 L296.87 187.98 L297.99 188.1 L299.12 188.21 L300.24 188.32 L301.36 188.43 L302.48 188.54 L303.6 188.65 L304.73 188.77 L305.85 188.88 L306.97 188.99 L308.09 189.1 L309.21 189.2 L310.34 189.31 L311.46 189.42 L312.58 189.53 L313.7 189.63 L314.82 189.74 L315.95 189.85 L317.07 189.95 L318.19 190.06 L319.31 190.16 L320.43 190.26 L321.56 190.36 L322.68 190.47 L323.8 190.57 L324.92 190.67 L326.04 190.77 L327.17 190.86 L328.29 190.96 L329.41 191.06 L330.53 191.16 L331.65 191.25 L332.78 191.35 L333.9 191.44 L335.02 191.54 L336.14 191.63 L337.26 191.72 L338.39 191.81 L339.51 191.9 L340.63 191.99 L341.75 192.08 L342.87 192.17 L344 192.26 L345.12 192.35 L346.24 192.43 L347.36 192.52 L348.48 192.61 L349.61 192.69 L350.73 192.77 L351.85 192.86 L352.97 192.94 L354.09 193.02 L355.22 193.1 L356.34 193.18 L357.46 193.27 L358.58 193.34 L359.71 193.42 L360.83 193.5 L361.95 193.58 L363.07 193.66 L364.19 193.73 L365.32 193.81 L366.44 193.88 L367.56 193.96 L368.68 194.03 L369.8 194.1 L370.93 194.18 L372.05 194.25 L373.17 194.32 L374.29 194.39 L375.41 194.46 L376.54 194.53 L377.66 194.6 L378.78 194.67 L379.9 194.74 L381.02 194.81 L382.15 194.88 L383.27 194.94 L384.39 195.01 L385.51 195.08 L386.63 195.14 L387.76 195.21 L388.88 195.27 L390 195.34 L391.12 195.4 L392.24 195.46 L393.37 195.53 L394.49 195.59 L395.61 195.65 L396.73 195.71 L397.85 195.77 L398.98 195.84 L400.1 195.9 L401.22 195.96 L402.34 196.02 L403.46 196.08 L404.59 196.14 L405.71 196.19 L406.83 196.25 L407.95 196.31 L409.07 196.37 L410.2 196.43 L411.32 196.49 L412.44 196.54 L413.56 196.6 L414.68 196.66 L415.81 196.71 L416.93 196.77 L418.05 196.83 L419.17 196.88 L420.29 196.94 L421.42 196.99 L422.54 197.05 L423.66 197.11 L424.78 197.16 L425.9 197.22 L427.03 197.27 L428.15 197.33 L429.27 197.38 L430.39 197.43 L431.51 197.49 L432.64 197.54 L433.76 197.6 L434.88 197.65 L436 197.71 L437.12 197.76 L438.25 197.81 L439.37 197.87 L440.49 197.92 L441.61 197.97 L442.73 198.03 L443.86 198.08 L444.98 198.14 L446.1 198.19" stroke="#e8402a"/>
<path d="M267.7 187.31 L268.82 187.5 L269.94 187.68 L271.07 187.86 L272.19 188.03 L273.31 188.2 L274.43 188.37 L275.55 188.54 L276.68 188.7 L277.8 188.86 L278.92 189.02 L280.04 189.18 L281.16 189.33 L282.29 189.48 L283.41 189.63 L284.53 189.78 L285.65 189.93 L286.77 190.07 L287.9 190.21 L289.02 190.36 L290.14 190.5 L291.26 190.63 L292.38 190.77 L293.51 190.91 L294.63 191.04 L295.75 191.17 L296.87 191.31 L297.99 191.44 L299.12 191.57 L300.24 191.69 L301.36 191.82 L302.48 191.95 L303.6 192.07 L304.73 192.19 L305.85 192.31 L306.97 192.43 L308.09 192.55 L309.21 192.67 L310.34 192.79 L311.46 192.9 L312.58 193.02 L313.7 193.13 L314.82 193.25 L315.95 193.36 L317.07 193.47 L318.19 193.58 L319.31 193.69 L320.43 193.79 L321.56 193.9 L322.68 194 L323.8 194.11 L324.92 194.21 L326.04 194.31 L327.17 194.42 L328.29 194.52 L329.41 194.62 L330.53 194.71 L331.65 194.81 L332.78 194.91 L333.9 195 L335.02 195.1 L336.14 195.19 L337.26 195.29 L338.39 195.38 L339.51 195.47 L340.63 195.56 L341.75 195.65 L342.87 195.74 L344 195.82 L345.12 195.91 L346.24 196 L347.36 196.08 L348.48 196.17 L349.61 196.25 L350.73 196.33 L351.85 196.41 L352.97 196.49 L354.09 196.57 L355.22 196.65 L356.34 196.73 L357.46 196.81 L358.58 196.89 L359.71 196.96 L360.83 197.04 L361.95 197.11 L363.07 197.19 L364.19 197.26 L365.32 197.33 L366.44 197.41 L367.56 197.48 L368.68 197.55 L369.8 197.62 L370.93 197.69 L372.05 197.75 L373.17 197.82 L374.29 197.89 L375.41 197.95 L376.54 198.02 L377.66 198.08 L378.78 198.15 L379.9 198.21 L381.02 198.27 L382.15 198.34 L383.27 198.4 L384.39 198.46 L385.51 198.52 L386.63 198.58 L387.76 198.64 L388.88 198.69 L390 198.75 L391.12 198.81 L392.24 198.87 L393.37 198.92 L394.49 198.98 L395.61 199.03 L396.73 199.09 L397.85 199.14 L398.98 199.19 L400.1 199.24 L401.22 199.3 L402.34 199.35 L403.46 199.4 L404.59 199.45 L405.71 199.5 L406.83 199.55 L407.95 199.6 L409.07 199.64 L410.2 199.69 L411.32 199.74 L412.44 199.78 L413.56 199.83 L414.68 199.88 L415.81 199.92 L416.93 199.97 L418.05 200.01 L419.17 200.05 L420.29 200.1 L421.42 200.14 L422.54 200.18 L423.66 200.22 L424.78 200.27 L425.9 200.31 L427.03 200.35 L428.15 200.39 L429.27 200.43 L430.39 200.47 L431.51 200.5 L432.64 200.54 L433.76 200.58 L434.88 200.62 L436 200.66 L437.12 200.69 L438.25 200.73 L439.37 200.77 L440.49 200.8 L441.61 200.84 L442.73 200.87 L443.86 200.91 L444.98 200.94 L446.1 200.98" stroke="#1c1c1c"/>
<path d="M267.7 189.11 L268.82 189.62 L269.94 190.08 L271.07 190.5 L272.19 190.9 L273.31 191.26 L274.43 191.61 L275.55 191.93 L276.68 192.23 L277.8 192.52 L278.92 192.8 L280.04 193.06 L281.16 193.31 L282.29 193.55 L283.41 193.78 L284.53 194 L285.65 194.21 L286.77 194.41 L287.9 194.61 L289.02 194.8 L290.14 194.99 L291.26 195.17 L292.38 195.34 L293.51 195.51 L294.63 195.68 L295.75 195.84 L296.87 195.99 L297.99 196.15 L299.12 196.29 L300.24 196.44 L301.36 196.58 L302.48 196.72 L303.6 196.85 L304.73 196.99 L305.85 197.11 L306.97 197.24 L308.09 197.36 L309.21 197.49 L310.34 197.6 L311.46 197.72 L312.58 197.83 L313.7 197.94 L314.82 198.05 L315.95 198.16 L317.07 198.27 L318.19 198.37 L319.31 198.47 L320.43 198.57 L321.56 198.67 L322.68 198.76 L323.8 198.86 L324.92 198.95 L326.04 199.04 L327.17 199.13 L328.29 199.22 L329.41 199.31 L330.53 199.39 L331.65 199.47 L332.78 199.55 L333.9 199.63 L335.02 199.71 L336.14 199.79 L337.26 199.87 L338.39 199.94 L339.51 200.02 L340.63 200.09 L341.75 200.16 L342.87 200.23 L344 200.3 L345.12 200.37 L346.24 200.43 L347.36 200.5 L348.48 200.56 L349.61 200.62 L350.73 200.69 L351.85 200.75 L352.97 200.81 L354.09 200.86 L355.22 200.92 L356.34 200.98 L357.46 201.03 L358.58 201.09 L359.71 201.14 L360.83 201.19 L361.95 201.24 L363.07 201.29 L364.19 201.34 L365.32 201.39 L366.44 201.44 L367.56 201.48 L368.68 201.53 L369.8 201.57 L370.93 201.61 L372.05 201.66 L373.17 201.7 L374.29 201.74 L375.41 201.78 L376.54 201.82 L377.66 201.85 L378.78 201.89 L379.9 201.93 L381.02 201.96 L382.15 201.99 L383.27 202.03 L384.39 202.06 L385.51 202.09 L386.63 202.12 L387.76 202.15 L388.88 202.18 L390 202.21 L391.12 202.23 L392.24 202.26 L393.37 202.28 L394.49 202.31 L395.61 202.33 L396.73 202.35 L397.85 202.37 L398.98 202.39 L400.1 202.41 L401.22 202.43 L402.34 202.45 L403.46 202.47 L404.59 202.48 L405.71 202.5 L406.83 202.51 L407.95 202.53 L409.07 202.54 L410.2 202.55 L411.32 202.56 L412.44 202.57 L413.56 202.58 L414.68 202.59 L415.81 202.6 L416.93 202.61 L418.05 202.61 L419.17 202.62 L420.29 202.62 L421.42 202.62 L422.54 202.63 L423.66 202.63 L424.78 202.63 L425.9 202.63 L427.03 202.63 L428.15 202.62 L429.27 202.62 L430.39 202.62 L431.51 202.61 L432.64 202.61 L433.76 202.6 L434.88 202.6 L436 202.59 L437.12 202.58 L438.25 202.57 L439.37 202.56 L440.49 202.55 L441.61 202.53 L442.73 202.52 L443.86 202.51 L444.98 202.49 L446.1 202.48" stroke="#9646c8"/>
</g>
<g clip-path="url(#c12)" fill="none" stroke-width="1.15">
<line x1="267.7" y1="238.3" x2="446.1" y2="238.3" stroke="#e8402a"/>
<path d="M267.7 231.59 L268.82 231.57 L269.94 231.54 L271.07 231.51 L272.19 231.49 L273.31 231.46 L274.43 231.44 L275.55 231.41 L276.68 231.39 L277.8 231.36 L278.92 231.34 L280.04 231.32 L281.16 231.3 L282.29 231.29 L283.41 231.27 L284.53 231.25 L285.65 231.24 L286.77 231.23 L287.9 231.22 L289.02 231.21 L290.14 231.2 L291.26 231.2 L292.38 231.2 L293.51 231.19 L294.63 231.19 L295.75 231.2 L296.87 231.2 L297.99 231.2 L299.12 231.21 L300.24 231.22 L301.36 231.23 L302.48 231.24 L303.6 231.26 L304.73 231.27 L305.85 231.29 L306.97 231.31 L308.09 231.33 L309.21 231.35 L310.34 231.37 L311.46 231.4 L312.58 231.42 L313.7 231.45 L314.82 231.48 L315.95 231.51 L317.07 231.55 L318.19 231.58 L319.31 231.62 L320.43 231.66 L321.56 231.7 L322.68 231.74 L323.8 231.78 L324.92 231.83 L326.04 231.87 L327.17 231.92 L328.29 231.97 L329.41 232.02 L330.53 232.07 L331.65 232.12 L332.78 232.18 L333.9 232.23 L335.02 232.29 L336.14 232.35 L337.26 232.41 L338.39 232.47 L339.51 232.53 L340.63 232.6 L341.75 232.66 L342.87 232.73 L344 232.8 L345.12 232.87 L346.24 232.94 L347.36 233.01 L348.48 233.08 L349.61 233.16 L350.73 233.24 L351.85 233.31 L352.97 233.39 L354.09 233.47 L355.22 233.55 L356.34 233.63 L357.46 233.72 L358.58 233.8 L359.71 233.88 L360.83 233.97 L361.95 234.06 L363.07 234.15 L364.19 234.24 L365.32 234.33 L366.44 234.42 L367.56 234.51 L368.68 234.61 L369.8 234.7 L370.93 234.8 L372.05 234.89 L373.17 234.99 L374.29 235.09 L375.41 235.19 L376.54 235.29 L377.66 235.39 L378.78 235.49 L379.9 235.6 L381.02 235.7 L382.15 235.81 L383.27 235.91 L384.39 236.02 L385.51 236.13 L386.63 236.23 L387.76 236.34 L388.88 236.45 L390 236.56 L391.12 236.67 L392.24 236.79 L393.37 236.9 L394.49 237.01 L395.61 237.13 L396.73 237.24 L397.85 237.36 L398.98 237.47 L400.1 237.59 L401.22 237.7 L402.34 237.82 L403.46 237.94 L404.59 238.06 L405.71 238.18 L406.83 238.3 L407.95 238.42 L409.07 238.54 L410.2 238.66 L411.32 238.78 L412.44 238.91 L413.56 239.03 L414.68 239.15 L415.81 239.28 L416.93 239.4 L418.05 239.52 L419.17 239.65 L420.29 239.77 L421.42 239.9 L422.54 240.03 L423.66 240.15 L424.78 240.28 L425.9 240.41 L427.03 240.53 L428.15 240.66 L429.27 240.79 L430.39 240.92 L431.51 241.04 L432.64 241.17 L433.76 241.3 L434.88 241.43 L436 241.56 L437.12 241.69 L438.25 241.82 L439.37 241.94 L440.49 242.07 L441.61 242.2 L442.73 242.33 L443.86 242.46 L444.98 242.59 L446.1 242.72" stroke="#1c1c1c"/>
<path d="M267.7 216.08 L268.82 216.47 L269.94 216.85 L271.07 217.21 L272.19 217.56 L273.31 217.9 L274.43 218.23 L275.55 218.55 L276.68 218.87 L277.8 219.18 L278.92 219.48 L280.04 219.78 L281.16 220.07 L282.29 220.36 L283.41 220.64 L284.53 220.92 L285.65 221.19 L286.77 221.46 L287.9 221.73 L289.02 221.99 L290.14 222.26 L291.26 222.51 L292.38 222.77 L293.51 223.02 L294.63 223.27 L295.75 223.52 L296.87 223.76 L297.99 224 L299.12 224.24 L300.24 224.48 L301.36 224.71 L302.48 224.95 L303.6 225.18 L304.73 225.41 L305.85 225.63 L306.97 225.86 L308.09 226.08 L309.21 226.3 L310.34 226.52 L311.46 226.74 L312.58 226.96 L313.7 227.17 L314.82 227.39 L315.95 227.6 L317.07 227.81 L318.19 228.02 L319.31 228.23 L320.43 228.44 L321.56 228.64 L322.68 228.85 L323.8 229.05 L324.92 229.26 L326.04 229.46 L327.17 229.66 L328.29 229.86 L329.41 230.06 L330.53 230.25 L331.65 230.45 L332.78 230.65 L333.9 230.84 L335.02 231.04 L336.14 231.23 L337.26 231.43 L338.39 231.62 L339.51 231.81 L340.63 232 L341.75 232.19 L342.87 232.38 L344 232.57 L345.12 232.76 L346.24 232.95 L347.36 233.14 L348.48 233.33 L349.61 233.51 L350.73 233.7 L351.85 233.89 L352.97 234.07 L354.09 234.26 L355.22 234.45 L356.34 234.63 L357.46 234.82 L358.58 235 L359.71 235.19 L360.83 235.37 L361.95 235.56 L363.07 235.74 L364.19 235.93 L365.32 236.12 L366.44 236.3 L367.56 236.49 L368.68 236.67 L369.8 236.86 L370.93 237.04 L372.05 237.23 L373.17 237.42 L374.29 237.6 L375.41 237.79 L376.54 237.98 L377.66 238.16 L378.78 238.35 L379.9 238.54 L381.02 238.73 L382.15 238.92 L383.27 239.11 L384.39 239.3 L385.51 239.49 L386.63 239.68 L387.76 239.87 L388.88 240.06 L390 240.25 L391.12 240.45 L392.24 240.64 L393.37 240.84 L394.49 241.03 L395.61 241.23 L396.73 241.43 L397.85 241.62 L398.98 241.82 L400.1 242.02 L401.22 242.22 L402.34 242.42 L403.46 242.62 L404.59 242.83 L405.71 243.03 L406.83 243.24 L407.95 243.44 L409.07 243.65 L410.2 243.86 L411.32 244.07 L412.44 244.28 L413.56 244.49 L414.68 244.7 L415.81 244.91 L416.93 245.13 L418.05 245.34 L419.17 245.56 L420.29 245.78 L421.42 246 L422.54 246.22 L423.66 246.45 L424.78 246.67 L425.9 246.89 L427.03 247.12 L428.15 247.35 L429.27 247.58 L430.39 247.81 L431.51 248.04 L432.64 248.28 L433.76 248.52 L434.88 248.75 L436 248.99 L437.12 249.23 L438.25 249.48 L439.37 249.72 L440.49 249.97 L441.61 250.21 L442.73 250.46 L443.86 250.72 L444.98 250.97 L446.1 251.22" stroke="#9646c8"/>
</g>
<g clip-path="url(#c13)" fill="none" stroke-width="1.15">
<line x1="267.7" y1="276.7" x2="446.1" y2="276.7" stroke="#e8402a" stroke-dasharray="1.5 1.4"/>
<path d="M267.7 269.25 L268.82 269.42 L269.94 269.55 L271.07 269.64 L272.19 269.72 L273.31 269.77 L274.43 269.81 L275.55 269.83 L276.68 269.84 L277.8 269.84 L278.92 269.83 L280.04 269.82 L281.16 269.8 L282.29 269.78 L283.41 269.75 L284.53 269.72 L285.65 269.68 L286.77 269.65 L287.9 269.61 L289.02 269.57 L290.14 269.54 L291.26 269.5 L292.38 269.46 L293.51 269.42 L294.63 269.38 L295.75 269.35 L296.87 269.31 L297.99 269.27 L299.12 269.24 L300.24 269.21 L301.36 269.18 L302.48 269.15 L303.6 269.12 L304.73 269.09 L305.85 269.07 L306.97 269.05 L308.09 269.03 L309.21 269.01 L310.34 268.99 L311.46 268.98 L312.58 268.97 L313.7 268.96 L314.82 268.95 L315.95 268.95 L317.07 268.95 L318.19 268.95 L319.31 268.95 L320.43 268.95 L321.56 268.96 L322.68 268.97 L323.8 268.98 L324.92 268.99 L326.04 269.01 L327.17 269.03 L328.29 269.05 L329.41 269.07 L330.53 269.1 L331.65 269.12 L332.78 269.15 L333.9 269.19 L335.02 269.22 L336.14 269.26 L337.26 269.3 L338.39 269.34 L339.51 269.38 L340.63 269.43 L341.75 269.48 L342.87 269.53 L344 269.58 L345.12 269.63 L346.24 269.69 L347.36 269.75 L348.48 269.81 L349.61 269.87 L350.73 269.94 L351.85 270 L352.97 270.07 L354.09 270.14 L355.22 270.21 L356.34 270.29 L357.46 270.36 L358.58 270.44 L359.71 270.52 L360.83 270.6 L361.95 270.68 L363.07 270.77 L364.19 270.85 L365.32 270.94 L366.44 271.03 L367.56 271.12 L368.68 271.21 L369.8 271.31 L370.93 271.4 L372.05 271.5 L373.17 271.6 L374.29 271.7 L375.41 271.8 L376.54 271.9 L377.66 272 L378.78 272.11 L379.9 272.21 L381.02 272.32 L382.15 272.43 L383.27 272.54 L384.39 272.65 L385.51 272.76 L386.63 272.87 L387.76 272.98 L388.88 273.09 L390 273.21 L391.12 273.32 L392.24 273.44 L393.37 273.55 L394.49 273.67 L395.61 273.79 L396.73 273.91 L397.85 274.03 L398.98 274.15 L400.1 274.27 L401.22 274.39 L402.34 274.51 L403.46 274.63 L404.59 274.75 L405.71 274.87 L406.83 275 L407.95 275.12 L409.07 275.24 L410.2 275.36 L411.32 275.49 L412.44 275.61 L413.56 275.73 L414.68 275.86 L415.81 275.98 L416.93 276.1 L418.05 276.22 L419.17 276.35 L420.29 276.47 L421.42 276.59 L422.54 276.71 L423.66 276.83 L424.78 276.96 L425.9 277.08 L427.03 277.2 L428.15 277.32 L429.27 277.44 L430.39 277.56 L431.51 277.67 L432.64 277.79 L433.76 277.91 L434.88 278.02 L436 278.14 L437.12 278.25 L438.25 278.37 L439.37 278.48 L440.49 278.59 L441.61 278.7 L442.73 278.81 L443.86 278.92 L444.98 279.03 L446.1 279.14" stroke="#1c1c1c" stroke-dasharray="1.5 1.4"/>
<path d="M267.7 254.46 L268.82 254.74 L269.94 255 L271.07 255.26 L272.19 255.51 L273.31 255.76 L274.43 256 L275.55 256.23 L276.68 256.46 L277.8 256.69 L278.92 256.91 L280.04 257.13 L281.16 257.34 L282.29 257.56 L283.41 257.77 L284.53 257.97 L285.65 258.18 L286.77 258.38 L287.9 258.58 L289.02 258.78 L290.14 258.98 L291.26 259.18 L292.38 259.37 L293.51 259.56 L294.63 259.75 L295.75 259.94 L296.87 260.13 L297.99 260.32 L299.12 260.51 L300.24 260.69 L301.36 260.88 L302.48 261.06 L303.6 261.24 L304.73 261.42 L305.85 261.6 L306.97 261.78 L308.09 261.96 L309.21 262.14 L310.34 262.32 L311.46 262.5 L312.58 262.67 L313.7 262.85 L314.82 263.02 L315.95 263.2 L317.07 263.37 L318.19 263.55 L319.31 263.72 L320.43 263.89 L321.56 264.07 L322.68 264.24 L323.8 264.41 L324.92 264.58 L326.04 264.75 L327.17 264.92 L328.29 265.09 L329.41 265.26 L330.53 265.43 L331.65 265.6 L332.78 265.77 L333.9 265.94 L335.02 266.11 L336.14 266.28 L337.26 266.45 L338.39 266.62 L339.51 266.79 L340.63 266.96 L341.75 267.13 L342.87 267.3 L344 267.47 L345.12 267.64 L346.24 267.8 L347.36 267.97 L348.48 268.14 L349.61 268.31 L350.73 268.48 L351.85 268.65 L352.97 268.82 L354.09 268.99 L355.22 269.17 L356.34 269.34 L357.46 269.51 L358.58 269.68 L359.71 269.85 L360.83 270.02 L361.95 270.2 L363.07 270.37 L364.19 270.54 L365.32 270.72 L366.44 270.89 L367.56 271.06 L368.68 271.24 L369.8 271.41 L370.93 271.59 L372.05 271.77 L373.17 271.94 L374.29 272.12 L375.41 272.3 L376.54 272.48 L377.66 272.66 L378.78 272.84 L379.9 273.02 L381.02 273.2 L382.15 273.38 L383.27 273.56 L384.39 273.75 L385.51 273.93 L386.63 274.11 L387.76 274.3 L388.88 274.48 L390 274.67 L391.12 274.86 L392.24 275.05 L393.37 275.24 L394.49 275.43 L395.61 275.62 L396.73 275.81 L397.85 276 L398.98 276.19 L400.1 276.39 L401.22 276.58 L402.34 276.78 L403.46 276.98 L404.59 277.17 L405.71 277.37 L406.83 277.57 L407.95 277.78 L409.07 277.98 L410.2 278.18 L411.32 278.38 L412.44 278.59 L413.56 278.8 L414.68 279 L415.81 279.21 L416.93 279.42 L418.05 279.63 L419.17 279.85 L420.29 280.06 L421.42 280.27 L422.54 280.49 L423.66 280.71 L424.78 280.93 L425.9 281.15 L427.03 281.37 L428.15 281.59 L429.27 281.81 L430.39 282.04 L431.51 282.26 L432.64 282.49 L433.76 282.72 L434.88 282.95 L436 283.18 L437.12 283.42 L438.25 283.65 L439.37 283.89 L440.49 284.12 L441.61 284.36 L442.73 284.6 L443.86 284.85 L444.98 285.09 L446.1 285.34" stroke="#9646c8" stroke-dasharray="1.5 1.4"/>
</g>
<text x="307.9" y="143" text-anchor="end" font-size="7.6">gγ Q=M</text>
<line x1="311.2" y1="140.2" x2="323.3" y2="140.2" stroke="#e8402a" stroke-width="1.15"/>
<text x="363.3" y="143" text-anchor="end" font-size="7.6">gγ Q=m<tspan dy="2.4" font-size="5.4">t</tspan></text>
<line x1="367" y1="140.2" x2="377.3" y2="140.2" stroke="#e8402a" stroke-width="1.15" stroke-dasharray="1.5 1.4"/>
<text x="307.9" y="152.2" text-anchor="end" font-size="7.6">gg Q=M</text>
<line x1="311.2" y1="150.9" x2="323.3" y2="150.9" stroke="#9646c8" stroke-width="1.15"/>
<text x="363.3" y="152.2" text-anchor="end" font-size="7.6">gg Q=m<tspan dy="2.4" font-size="5.4">t</tspan></text>
<line x1="367" y1="150.9" x2="377.3" y2="150.9" stroke="#9646c8" stroke-width="1.15" stroke-dasharray="1.5 1.4"/>
<text x="307.9" y="165.4" text-anchor="end" font-size="7.6">qq Q=M</text>
<line x1="311.2" y1="161.5" x2="323.3" y2="161.5" stroke="#1c1c1c" stroke-width="1.15"/>
<text x="363.3" y="165.4" text-anchor="end" font-size="7.6">qq Q=m<tspan dy="2.4" font-size="5.4">t</tspan></text>
<line x1="367" y1="161.5" x2="377.3" y2="161.5" stroke="#1c1c1c" stroke-width="1.15" stroke-dasharray="1.5 1.4"/>
<path d="M286.4 160.3h1.9M340.1 160.3h1.9" stroke="#333" stroke-width="0.7"/>
<rect x="267.7" y="5.5" width="178.4" height="279.7" fill="none" stroke="#2a2a2a" stroke-width="1"/>
<line x1="267.7" y1="169.4" x2="446.1" y2="169.4" stroke="#2a2a2a" stroke-width="1"/>
<line x1="267.7" y1="208.1" x2="446.1" y2="208.1" stroke="#2a2a2a" stroke-width="1"/>
<line x1="267.7" y1="246.2" x2="446.1" y2="246.2" stroke="#2a2a2a" stroke-width="1"/>
<path d="M267.7 169.4h3.5M446.1 169.4h-3.5M267.7 164.91h2M446.1 164.91h-2M267.7 162.29h2M446.1 162.29h-2M267.7 160.43h2M446.1 160.43h-2M267.7 158.99h2M446.1 158.99h-2M267.7 157.81h2M446.1 157.81h-2M267.7 156.81h2M446.1 156.81h-2M267.7 155.94h2M446.1 155.94h-2M267.7 155.18h2M446.1 155.18h-2M267.7 154.5h3.5M446.1 154.5h-3.5M267.7 150.01h2M446.1 150.01h-2M267.7 147.39h2M446.1 147.39h-2M267.7 145.53h2M446.1 145.53h-2M267.7 144.09h2M446.1 144.09h-2M267.7 142.91h2M446.1 142.91h-2M267.7 141.91h2M446.1 141.91h-2M267.7 141.04h2M446.1 141.04h-2M267.7 140.28h2M446.1 140.28h-2M267.7 139.6h3.5M446.1 139.6h-3.5M267.7 135.11h2M446.1 135.11h-2M267.7 132.49h2M446.1 132.49h-2M267.7 130.63h2M446.1 130.63h-2M267.7 129.19h2M446.1 129.19h-2M267.7 128.01h2M446.1 128.01h-2M267.7 127.01h2M446.1 127.01h-2M267.7 126.14h2M446.1 126.14h-2M267.7 125.38h2M446.1 125.38h-2M267.7 124.7h3.5M446.1 124.7h-3.5M267.7 120.21h2M446.1 120.21h-2M267.7 117.59h2M446.1 117.59h-2M267.7 115.73h2M446.1 115.73h-2M267.7 114.29h2M446.1 114.29h-2M267.7 113.11h2M446.1 113.11h-2M267.7 112.11h2M446.1 112.11h-2M267.7 111.24h2M446.1 111.24h-2M267.7 110.48h2M446.1 110.48h-2M267.7 109.8h3.5M446.1 109.8h-3.5M267.7 105.31h2M446.1 105.31h-2M267.7 102.69h2M446.1 102.69h-2M267.7 100.83h2M446.1 100.83h-2M267.7 99.39h2M446.1 99.39h-2M267.7 98.21h2M446.1 98.21h-2M267.7 97.21h2M446.1 97.21h-2M267.7 96.34h2M446.1 96.34h-2M267.7 95.58h2M446.1 95.58h-2M267.7 94.9h3.5M446.1 94.9h-3.5M267.7 90.41h2M446.1 90.41h-2M267.7 87.79h2M446.1 87.79h-2M267.7 85.93h2M446.1 85.93h-2M267.7 84.49h2M446.1 84.49h-2M267.7 83.31h2M446.1 83.31h-2M267.7 82.31h2M446.1 82.31h-2M267.7 81.44h2M446.1 81.44h-2M267.7 80.68h2M446.1 80.68h-2M267.7 80h3.5M446.1 80h-3.5M267.7 75.51h2M446.1 75.51h-2M267.7 72.89h2M446.1 72.89h-2M267.7 71.03h2M446.1 71.03h-2M267.7 69.59h2M446.1 69.59h-2M267.7 68.41h2M446.1 68.41h-2M267.7 67.41h2M446.1 67.41h-2M267.7 66.54h2M446.1 66.54h-2M267.7 65.78h2M446.1 65.78h-2M267.7 65.1h3.5M446.1 65.1h-3.5M267.7 60.61h2M446.1 60.61h-2M267.7 57.99h2M446.1 57.99h-2M267.7 56.13h2M446.1 56.13h-2M267.7 54.69h2M446.1 54.69h-2M267.7 53.51h2M446.1 53.51h-2M267.7 52.51h2M446.1 52.51h-2M267.7 51.64h2M446.1 51.64h-2M267.7 50.88h2M446.1 50.88h-2M267.7 50.2h3.5M446.1 50.2h-3.5M267.7 45.71h2M446.1 45.71h-2M267.7 43.09h2M446.1 43.09h-2M267.7 41.23h2M446.1 41.23h-2M267.7 39.79h2M446.1 39.79h-2M267.7 38.61h2M446.1 38.61h-2M267.7 37.61h2M446.1 37.61h-2M267.7 36.74h2M446.1 36.74h-2M267.7 35.98h2M446.1 35.98h-2M267.7 35.3h3.5M446.1 35.3h-3.5M267.7 30.81h2M446.1 30.81h-2M267.7 28.19h2M446.1 28.19h-2M267.7 26.33h2M446.1 26.33h-2M267.7 24.89h2M446.1 24.89h-2M267.7 23.71h2M446.1 23.71h-2M267.7 22.71h2M446.1 22.71h-2M267.7 21.84h2M446.1 21.84h-2M267.7 21.08h2M446.1 21.08h-2M267.7 20.4h3.5M446.1 20.4h-3.5M267.7 15.91h2M446.1 15.91h-2M267.7 13.29h2M446.1 13.29h-2M267.7 11.43h2M446.1 11.43h-2M267.7 9.99h2M446.1 9.99h-2M267.7 8.81h2M446.1 8.81h-2M267.7 7.81h2M446.1 7.81h-2M267.7 6.94h2M446.1 6.94h-2M267.7 6.18h2M446.1 6.18h-2M267.7 5.5h3.5M446.1 5.5h-3.5" stroke="#2a2a2a" stroke-width="0.6" fill="none"/>
<text x="263.8" y="171.95" text-anchor="end" font-size="6.9">10<tspan dy="-2.4" font-size="5.4">-14</tspan></text>
<text x="263.8" y="157.05" text-anchor="end" font-size="6.9">10<tspan dy="-2.4" font-size="5.4">-13</tspan></text>
<text x="263.8" y="142.15" text-anchor="end" font-size="6.9">10<tspan dy="-2.4" font-size="5.4">-12</tspan></text>
<text x="263.8" y="127.25" text-anchor="end" font-size="6.9">10<tspan dy="-2.4" font-size="5.4">-11</tspan></text>
<text x="263.8" y="112.35" text-anchor="end" font-size="6.9">10<tspan dy="-2.4" font-size="5.4">-10</tspan></text>
<text x="263.8" y="97.45" text-anchor="end" font-size="6.9">10<tspan dy="-2.4" font-size="5.4">-9</tspan></text>
<text x="263.8" y="82.55" text-anchor="end" font-size="6.9">10<tspan dy="-2.4" font-size="5.4">-8</tspan></text>
<text x="263.8" y="67.65" text-anchor="end" font-size="6.9">10<tspan dy="-2.4" font-size="5.4">-7</tspan></text>
<text x="263.8" y="52.75" text-anchor="end" font-size="6.9">10<tspan dy="-2.4" font-size="5.4">-6</tspan></text>
<text x="263.8" y="37.85" text-anchor="end" font-size="6.9">10<tspan dy="-2.4" font-size="5.4">-5</tspan></text>
<text x="263.8" y="22.95" text-anchor="end" font-size="6.9">10<tspan dy="-2.4" font-size="5.4">-4</tspan></text>
<text x="263.8" y="8.05" text-anchor="end" font-size="6.9">10<tspan dy="-2.4" font-size="5.4">-3</tspan></text>
<path d="M267.7 208.1h3.5M446.1 208.1h-3.5M267.7 206.11h2M446.1 206.11h-2M267.7 204.12h2M446.1 204.12h-2M267.7 202.13h2M446.1 202.13h-2M267.7 200.14h2M446.1 200.14h-2M267.7 198.15h3.5M446.1 198.15h-3.5M267.7 196.16h2M446.1 196.16h-2M267.7 194.17h2M446.1 194.17h-2M267.7 192.18h2M446.1 192.18h-2M267.7 190.19h2M446.1 190.19h-2M267.7 188.2h3.5M446.1 188.2h-3.5M267.7 186.21h2M446.1 186.21h-2M267.7 184.22h2M446.1 184.22h-2M267.7 182.23h2M446.1 182.23h-2M267.7 180.24h2M446.1 180.24h-2M267.7 178.25h3.5M446.1 178.25h-3.5M267.7 176.26h2M446.1 176.26h-2M267.7 174.27h2M446.1 174.27h-2M267.7 172.28h2M446.1 172.28h-2M267.7 170.29h2M446.1 170.29h-2" stroke="#2a2a2a" stroke-width="0.6" fill="none"/>
<text x="263.6" y="208.7" text-anchor="end" font-size="6.9">0</text>
<text x="263.6" y="199.9" text-anchor="end" font-size="6.9">0.5</text>
<text x="263.6" y="189.9" text-anchor="end" font-size="6.9">1</text>
<text x="263.6" y="179.2" text-anchor="end" font-size="6.9">1.5</text>
<path d="M267.7 244.63h2M446.1 244.63h-2M267.7 243.12h2M446.1 243.12h-2M267.7 241.94h2M446.1 241.94h-2M267.7 240.98h2M446.1 240.98h-2M267.7 240.17h2M446.1 240.17h-2M267.7 239.47h2M446.1 239.47h-2M267.7 238.85h2M446.1 238.85h-2M267.7 238.3h3.5M446.1 238.3h-3.5M267.7 234.66h2M446.1 234.66h-2M267.7 232.53h2M446.1 232.53h-2M267.7 231.02h2M446.1 231.02h-2M267.7 229.84h2M446.1 229.84h-2M267.7 228.88h2M446.1 228.88h-2M267.7 228.07h2M446.1 228.07h-2M267.7 227.37h2M446.1 227.37h-2M267.7 226.75h2M446.1 226.75h-2M267.7 226.2h3.5M446.1 226.2h-3.5M267.7 222.56h2M446.1 222.56h-2M267.7 220.43h2M446.1 220.43h-2M267.7 218.92h2M446.1 218.92h-2M267.7 217.74h2M446.1 217.74h-2M267.7 216.78h2M446.1 216.78h-2M267.7 215.97h2M446.1 215.97h-2M267.7 215.27h2M446.1 215.27h-2M267.7 214.65h2M446.1 214.65h-2M267.7 214.1h3.5M446.1 214.1h-3.5M267.7 210.46h2M446.1 210.46h-2M267.7 208.33h2M446.1 208.33h-2" stroke="#2a2a2a" stroke-width="0.6" fill="none"/>
<text x="263.8" y="240.85" text-anchor="end" font-size="6.9">10<tspan dy="-2.4" font-size="5.4">0</tspan></text>
<text x="263.8" y="228.75" text-anchor="end" font-size="6.9">10<tspan dy="-2.4" font-size="5.4">1</tspan></text>
<text x="263.8" y="216.65" text-anchor="end" font-size="6.9">10<tspan dy="-2.4" font-size="5.4">2</tspan></text>
<path d="M267.7 285.23h2M446.1 285.23h-2M267.7 283.08h2M446.1 283.08h-2M267.7 281.55h2M446.1 281.55h-2M267.7 280.37h2M446.1 280.37h-2M267.7 279.41h2M446.1 279.41h-2M267.7 278.59h2M446.1 278.59h-2M267.7 277.88h2M446.1 277.88h-2M267.7 277.26h2M446.1 277.26h-2M267.7 276.7h3.5M446.1 276.7h-3.5M267.7 273.03h2M446.1 273.03h-2M267.7 270.88h2M446.1 270.88h-2M267.7 269.35h2M446.1 269.35h-2M267.7 268.17h2M446.1 268.17h-2M267.7 267.21h2M446.1 267.21h-2M267.7 266.39h2M446.1 266.39h-2M267.7 265.68h2M446.1 265.68h-2M267.7 265.06h2M446.1 265.06h-2M267.7 264.5h3.5M446.1 264.5h-3.5M267.7 260.83h2M446.1 260.83h-2M267.7 258.68h2M446.1 258.68h-2M267.7 257.15h2M446.1 257.15h-2M267.7 255.97h2M446.1 255.97h-2M267.7 255.01h2M446.1 255.01h-2M267.7 254.19h2M446.1 254.19h-2M267.7 253.48h2M446.1 253.48h-2M267.7 252.86h2M446.1 252.86h-2M267.7 252.3h3.5M446.1 252.3h-3.5M267.7 248.63h2M446.1 248.63h-2M267.7 246.48h2M446.1 246.48h-2" stroke="#2a2a2a" stroke-width="0.6" fill="none"/>
<text x="263.8" y="279.25" text-anchor="end" font-size="6.9">10<tspan dy="-2.4" font-size="5.4">0</tspan></text>
<text x="263.8" y="267.05" text-anchor="end" font-size="6.9">10<tspan dy="-2.4" font-size="5.4">1</tspan></text>
<text x="263.8" y="254.85" text-anchor="end" font-size="6.9">10<tspan dy="-2.4" font-size="5.4">2</tspan></text>
<path d="M269.27 169.4v-1.5M269.27 208.1v-1.5M269.27 246.2v-1.5M269.27 285.2v-1.5M272.16 169.4v-1.5M272.16 208.1v-1.5M272.16 246.2v-1.5M272.16 285.2v-1.5M275.06 169.4v-1.5M275.06 208.1v-1.5M275.06 246.2v-1.5M275.06 285.2v-1.5M277.96 169.4v-1.5M277.96 208.1v-1.5M277.96 246.2v-1.5M277.96 285.2v-1.5M280.86 169.4v-1.5M280.86 208.1v-1.5M280.86 246.2v-1.5M280.86 285.2v-1.5M283.76 169.4v-1.5M283.76 208.1v-1.5M283.76 246.2v-1.5M283.76 285.2v-1.5M286.66 169.4v-3M286.66 208.1v-3M286.66 246.2v-3M286.66 285.2v-3M289.56 169.4v-1.5M289.56 208.1v-1.5M289.56 246.2v-1.5M289.56 285.2v-1.5M292.46 169.4v-1.5M292.46 208.1v-1.5M292.46 246.2v-1.5M292.46 285.2v-1.5M295.36 169.4v-1.5M295.36 208.1v-1.5M295.36 246.2v-1.5M295.36 285.2v-1.5M298.25 169.4v-1.5M298.25 208.1v-1.5M298.25 246.2v-1.5M298.25 285.2v-1.5M301.15 169.4v-1.5M301.15 208.1v-1.5M301.15 246.2v-1.5M301.15 285.2v-1.5M304.05 169.4v-1.5M304.05 208.1v-1.5M304.05 246.2v-1.5M304.05 285.2v-1.5M306.95 169.4v-1.5M306.95 208.1v-1.5M306.95 246.2v-1.5M306.95 285.2v-1.5M309.85 169.4v-1.5M309.85 208.1v-1.5M309.85 246.2v-1.5M309.85 285.2v-1.5M312.75 169.4v-1.5M312.75 208.1v-1.5M312.75 246.2v-1.5M312.75 285.2v-1.5M315.65 169.4v-3M315.65 208.1v-3M315.65 246.2v-3M315.65 285.2v-3M318.55 169.4v-1.5M318.55 208.1v-1.5M318.55 246.2v-1.5M318.55 285.2v-1.5M321.45 169.4v-1.5M321.45 208.1v-1.5M321.45 246.2v-1.5M321.45 285.2v-1.5M324.35 169.4v-1.5M324.35 208.1v-1.5M324.35 246.2v-1.5M324.35 285.2v-1.5M327.24 169.4v-1.5M327.24 208.1v-1.5M327.24 246.2v-1.5M327.24 285.2v-1.5M330.14 169.4v-1.5M330.14 208.1v-1.5M330.14 246.2v-1.5M330.14 285.2v-1.5M333.04 169.4v-1.5M333.04 208.1v-1.5M333.04 246.2v-1.5M333.04 285.2v-1.5M335.94 169.4v-1.5M335.94 208.1v-1.5M335.94 246.2v-1.5M335.94 285.2v-1.5M338.84 169.4v-1.5M338.84 208.1v-1.5M338.84 246.2v-1.5M338.84 285.2v-1.5M341.74 169.4v-1.5M341.74 208.1v-1.5M341.74 246.2v-1.5M341.74 285.2v-1.5M344.64 169.4v-3M344.64 208.1v-3M344.64 246.2v-3M344.64 285.2v-3M347.54 169.4v-1.5M347.54 208.1v-1.5M347.54 246.2v-1.5M347.54 285.2v-1.5M350.44 169.4v-1.5M350.44 208.1v-1.5M350.44 246.2v-1.5M350.44 285.2v-1.5M353.33 169.4v-1.5M353.33 208.1v-1.5M353.33 246.2v-1.5M353.33 285.2v-1.5M356.23 169.4v-1.5M356.23 208.1v-1.5M356.23 246.2v-1.5M356.23 285.2v-1.5M359.13 169.4v-1.5M359.13 208.1v-1.5M359.13 246.2v-1.5M359.13 285.2v-1.5M362.03 169.4v-1.5M362.03 208.1v-1.5M362.03 246.2v-1.5M362.03 285.2v-1.5M364.93 169.4v-1.5M364.93 208.1v-1.5M364.93 246.2v-1.5M364.93 285.2v-1.5M367.83 169.4v-1.5M367.83 208.1v-1.5M367.83 246.2v-1.5M367.83 285.2v-1.5M370.73 169.4v-1.5M370.73 208.1v-1.5M370.73 246.2v-1.5M370.73 285.2v-1.5M373.63 169.4v-3M373.63 208.1v-3M373.63 246.2v-3M373.63 285.2v-3M376.53 169.4v-1.5M376.53 208.1v-1.5M376.53 246.2v-1.5M376.53 285.2v-1.5M379.42 169.4v-1.5M379.42 208.1v-1.5M379.42 246.2v-1.5M379.42 285.2v-1.5M382.32 169.4v-1.5M382.32 208.1v-1.5M382.32 246.2v-1.5M382.32 285.2v-1.5M385.22 169.4v-1.5M385.22 208.1v-1.5M385.22 246.2v-1.5M385.22 285.2v-1.5M388.12 169.4v-1.5M388.12 208.1v-1.5M388.12 246.2v-1.5M388.12 285.2v-1.5M391.02 169.4v-1.5M391.02 208.1v-1.5M391.02 246.2v-1.5M391.02 285.2v-1.5M393.92 169.4v-1.5M393.92 208.1v-1.5M393.92 246.2v-1.5M393.92 285.2v-1.5M396.82 169.4v-1.5M396.82 208.1v-1.5M396.82 246.2v-1.5M396.82 285.2v-1.5M399.72 169.4v-1.5M399.72 208.1v-1.5M399.72 246.2v-1.5M399.72 285.2v-1.5M402.62 169.4v-3M402.62 208.1v-3M402.62 246.2v-3M402.62 285.2v-3M405.52 169.4v-1.5M405.52 208.1v-1.5M405.52 246.2v-1.5M405.52 285.2v-1.5M408.41 169.4v-1.5M408.41 208.1v-1.5M408.41 246.2v-1.5M408.41 285.2v-1.5M411.31 169.4v-1.5M411.31 208.1v-1.5M411.31 246.2v-1.5M411.31 285.2v-1.5M414.21 169.4v-1.5M414.21 208.1v-1.5M414.21 246.2v-1.5M414.21 285.2v-1.5M417.11 169.4v-1.5M417.11 208.1v-1.5M417.11 246.2v-1.5M417.11 285.2v-1.5M420.01 169.4v-1.5M420.01 208.1v-1.5M420.01 246.2v-1.5M420.01 285.2v-1.5M422.91 169.4v-1.5M422.91 208.1v-1.5M422.91 246.2v-1.5M422.91 285.2v-1.5M425.81 169.4v-1.5M425.81 208.1v-1.5M425.81 246.2v-1.5M425.81 285.2v-1.5M428.71 169.4v-1.5M428.71 208.1v-1.5M428.71 246.2v-1.5M428.71 285.2v-1.5M431.61 169.4v-3M431.61 208.1v-3M431.61 246.2v-3M431.61 285.2v-3M434.5 169.4v-1.5M434.5 208.1v-1.5M434.5 246.2v-1.5M434.5 285.2v-1.5M437.4 169.4v-1.5M437.4 208.1v-1.5M437.4 246.2v-1.5M437.4 285.2v-1.5M440.3 169.4v-1.5M440.3 208.1v-1.5M440.3 246.2v-1.5M440.3 285.2v-1.5M443.2 169.4v-1.5M443.2 208.1v-1.5M443.2 246.2v-1.5M443.2 285.2v-1.5M446.1 169.4v-1.5M446.1 208.1v-1.5M446.1 246.2v-1.5M446.1 285.2v-1.5" stroke="#2a2a2a" stroke-width="0.6" fill="none"/>
<text x="287.16" y="293.9" text-anchor="middle" font-size="7.4">1</text>
<text x="316.15" y="293.9" text-anchor="middle" font-size="7.4">2</text>
<text x="345.14" y="293.9" text-anchor="middle" font-size="7.4">3</text>
<text x="374.13" y="293.9" text-anchor="middle" font-size="7.4">4</text>
<text x="403.12" y="293.9" text-anchor="middle" font-size="7.4">5</text>
<text x="432.11" y="293.9" text-anchor="middle" font-size="7.4">6</text>
<text x="358.3" y="305.8" text-anchor="middle" font-size="10.5">M [TeV]</text>
<text x="271.1" y="17.9" font-size="10.2" textLength="139.4" lengthAdjust="spacingAndGlyphs">dL / dM<tspan dy="-4.4" font-size="8.2">2</tspan><tspan dy="4.4"> comparison at 13 TeV</tspan></text>
<text transform="translate(242.6,92.3) rotate(-90)" text-anchor="middle" font-size="10.2">dL / dM<tspan dy="-4" font-size="7.3">2</tspan></text>
<text x="271" y="176.6" font-size="7.3">Ratio Q=M / Q=m<tspan dy="2.3" font-size="5.2">t</tspan></text>
<text x="271" y="216.6" font-size="7.4">Ratio over gγ, Q=M</text>
<text x="271.3" y="255.3" font-size="7.45">Ratio over gγ, Q=m<tspan dy="2.3" font-size="5.3">t</tspan></text>
<text x="444.4" y="163.3" text-anchor="end" font-size="8.9">NNPDF2.3</text>
<g clip-path="url(#c20)" fill="none" stroke-width="1.15">
<path d="M499.9 37.57 L501.02 48.03 L502.14 54.36 L503.26 58.93 L504.38 62.51 L505.5 65.46 L506.62 67.97 L507.75 70.15 L508.87 72.09 L509.99 73.83 L511.11 75.42 L512.23 76.88 L513.35 78.22 L514.47 79.48 L515.59 80.65 L516.71 81.75 L517.83 82.79 L518.95 83.78 L520.07 84.72 L521.19 85.62 L522.32 86.47 L523.44 87.3 L524.56 88.09 L525.68 88.85 L526.8 89.58 L527.92 90.29 L529.04 90.98 L530.16 91.65 L531.28 92.3 L532.4 92.93 L533.52 93.54 L534.64 94.14 L535.76 94.72 L536.88 95.29 L538.01 95.85 L539.13 96.4 L540.25 96.93 L541.37 97.46 L542.49 97.97 L543.61 98.48 L544.73 98.97 L545.85 99.46 L546.97 99.94 L548.09 100.41 L549.21 100.88 L550.33 101.34 L551.45 101.79 L552.58 102.24 L553.7 102.68 L554.82 103.12 L555.94 103.55 L557.06 103.97 L558.18 104.39 L559.3 104.81 L560.42 105.23 L561.54 105.65 L562.66 106.06 L563.78 106.47 L564.9 106.88 L566.02 107.28 L567.15 107.69 L568.27 108.08 L569.39 108.48 L570.51 108.87 L571.63 109.26 L572.75 109.65 L573.87 110.03 L574.99 110.42 L576.11 110.8 L577.23 111.17 L578.35 111.55 L579.47 111.92 L580.59 112.3 L581.72 112.67 L582.84 113.04 L583.96 113.41 L585.08 113.77 L586.2 114.14 L587.32 114.5 L588.44 114.86 L589.56 115.22 L590.68 115.58 L591.8 115.94 L592.92 116.3 L594.04 116.66 L595.16 117.01 L596.28 117.37 L597.41 117.72 L598.53 118.07 L599.65 118.43 L600.77 118.78 L601.89 119.13 L603.01 119.48 L604.13 119.83 L605.25 120.18 L606.37 120.53 L607.49 120.88 L608.61 121.23 L609.73 121.57 L610.85 121.92 L611.98 122.27 L613.1 122.62 L614.22 122.96 L615.34 123.31 L616.46 123.66 L617.58 124 L618.7 124.35 L619.82 124.69 L620.94 125.04 L622.06 125.39 L623.18 125.73 L624.3 126.08 L625.42 126.42 L626.55 126.77 L627.67 127.12 L628.79 127.46 L629.91 127.81 L631.03 128.15 L632.15 128.5 L633.27 128.85 L634.39 129.19 L635.51 129.54 L636.63 129.89 L637.75 130.24 L638.87 130.58 L639.99 130.93 L641.12 131.28 L642.24 131.63 L643.36 131.98 L644.48 132.33 L645.6 132.68 L646.72 133.03 L647.84 133.38 L648.96 133.73 L650.08 134.08 L651.2 134.43 L652.32 134.78 L653.44 135.13 L654.56 135.49 L655.68 135.84 L656.81 136.19 L657.93 136.55 L659.05 136.9 L660.17 137.26 L661.29 137.62 L662.41 137.97 L663.53 138.33 L664.65 138.69 L665.77 139.04 L666.89 139.4 L668.01 139.76 L669.13 140.12 L670.25 140.48 L671.38 140.84 L672.5 141.21 L673.62 141.57 L674.74 141.93 L675.86 142.3 L676.98 142.66 L678.1 143.03 L678.1 165.15 L676.98 164.62 L675.86 164.09 L674.74 163.56 L673.62 163.03 L672.5 162.51 L671.38 161.98 L670.25 161.46 L669.13 160.94 L668.01 160.41 L666.89 159.89 L665.77 159.38 L664.65 158.86 L663.53 158.34 L662.41 157.83 L661.29 157.31 L660.17 156.8 L659.05 156.29 L657.93 155.78 L656.81 155.27 L655.68 154.76 L654.56 154.25 L653.44 153.75 L652.32 153.24 L651.2 152.74 L650.08 152.23 L648.96 151.73 L647.84 151.23 L646.72 150.73 L645.6 150.23 L644.48 149.73 L643.36 149.23 L642.24 148.74 L641.12 148.24 L639.99 147.74 L638.87 147.25 L637.75 146.76 L636.63 146.26 L635.51 145.77 L634.39 145.28 L633.27 144.79 L632.15 144.3 L631.03 143.82 L629.91 143.33 L628.79 142.84 L627.67 142.35 L626.55 141.87 L625.42 141.38 L624.3 140.9 L623.18 140.42 L622.06 139.93 L620.94 139.45 L619.82 138.97 L618.7 138.49 L617.58 138.01 L616.46 137.53 L615.34 137.05 L614.22 136.57 L613.1 136.09 L611.98 135.61 L610.85 135.13 L609.73 134.65 L608.61 134.18 L607.49 133.7 L606.37 133.22 L605.25 132.74 L604.13 132.27 L603.01 131.79 L601.89 131.31 L600.77 130.83 L599.65 130.36 L598.53 129.88 L597.41 129.4 L596.28 128.93 L595.16 128.45 L594.04 127.97 L592.92 127.49 L591.8 127.02 L590.68 126.54 L589.56 126.06 L588.44 125.58 L587.32 125.1 L586.2 124.62 L585.08 124.13 L583.96 123.65 L582.84 123.17 L581.72 122.69 L580.59 122.2 L579.47 121.71 L578.35 121.23 L577.23 120.74 L576.11 120.25 L574.99 119.76 L573.87 119.26 L572.75 118.77 L571.63 118.27 L570.51 117.78 L569.39 117.28 L568.27 116.78 L567.15 116.27 L566.02 115.77 L564.9 115.26 L563.78 114.75 L562.66 114.23 L561.54 113.71 L560.42 113.19 L559.3 112.67 L558.18 112.14 L557.06 111.61 L555.94 111.08 L554.82 110.54 L553.7 110 L552.58 109.45 L551.45 108.9 L550.33 108.34 L549.21 107.78 L548.09 107.21 L546.97 106.64 L545.85 106.06 L544.73 105.47 L543.61 104.87 L542.49 104.27 L541.37 103.66 L540.25 103.04 L539.13 102.41 L538.01 101.77 L536.88 101.12 L535.76 100.45 L534.64 99.78 L533.52 99.09 L532.4 98.39 L531.28 97.67 L530.16 96.94 L529.04 96.19 L527.92 95.42 L526.8 94.62 L525.68 93.81 L524.56 92.97 L523.44 92.1 L522.32 91.21 L521.19 90.28 L520.07 89.31 L518.95 88.3 L517.83 87.25 L516.71 86.15 L515.59 84.99 L514.47 83.76 L513.35 82.45 L512.23 81.06 L511.11 79.56 L509.99 77.94 L508.87 76.16 L507.75 74.2 L506.62 72.01 L505.5 69.5 L504.38 66.58 L503.26 63.04 L502.14 58.57 L501.02 52.39 L499.9 42.26Z" fill="#fcc9b2" stroke="none"/>
<path d="M499.9 38.75 L501.02 49.71 L502.14 56.33 L503.26 61.09 L504.38 64.8 L505.5 67.85 L506.62 70.44 L507.75 72.69 L508.87 74.67 L509.99 76.46 L511.11 78.07 L512.23 79.55 L513.35 80.92 L514.47 82.18 L515.59 83.37 L516.71 84.47 L517.83 85.52 L518.95 86.51 L520.07 87.44 L521.19 88.34 L522.32 89.19 L523.44 90 L524.56 90.78 L525.68 91.53 L526.8 92.26 L527.92 92.95 L529.04 93.63 L530.16 94.28 L531.28 94.91 L532.4 95.53 L533.52 96.12 L534.64 96.7 L535.76 97.27 L536.88 97.82 L538.01 98.36 L539.13 98.89 L540.25 99.4 L541.37 99.9 L542.49 100.4 L543.61 100.88 L544.73 101.36 L545.85 101.82 L546.97 102.28 L548.09 102.73 L549.21 103.18 L550.33 103.62 L551.45 104.05 L552.58 104.47 L553.7 104.89 L554.82 105.3 L555.94 105.71 L557.06 106.11 L558.18 106.51 L559.3 106.91 L560.42 107.3 L561.54 107.68 L562.66 108.07 L563.78 108.44 L564.9 108.82 L566.02 109.19 L567.15 109.56 L568.27 109.92 L569.39 110.29 L570.51 110.65 L571.63 111 L572.75 111.36 L573.87 111.71 L574.99 112.06 L576.11 112.41 L577.23 112.76 L578.35 113.1 L579.47 113.45 L580.59 113.79 L581.72 114.13 L582.84 114.47 L583.96 114.8 L585.08 115.14 L586.2 115.47 L587.32 115.8 L588.44 116.14 L589.56 116.47 L590.68 116.8 L591.8 117.13 L592.92 117.45 L594.04 117.78 L595.16 118.11 L596.28 118.43 L597.41 118.76 L598.53 119.08 L599.65 119.41 L600.77 119.73 L601.89 120.05 L603.01 120.37 L604.13 120.7 L605.25 121.02 L606.37 121.34 L607.49 121.66 L608.61 121.98 L609.73 122.3 L610.85 122.62 L611.98 122.94 L613.1 123.26 L614.22 123.59 L615.34 123.91 L616.46 124.23 L617.58 124.55 L618.7 124.87 L619.82 125.19 L620.94 125.51 L622.06 125.83 L623.18 126.15 L624.3 126.47 L625.42 126.79 L626.55 127.12 L627.67 127.44 L628.79 127.76 L629.91 128.08 L631.03 128.41 L632.15 128.73 L633.27 129.06 L634.39 129.38 L635.51 129.71 L636.63 130.03 L637.75 130.36 L638.87 130.68 L639.99 131.01 L641.12 131.34 L642.24 131.66 L643.36 131.99 L644.48 132.32 L645.6 132.65 L646.72 132.98 L647.84 133.31 L648.96 133.64 L650.08 133.98 L651.2 134.31 L652.32 134.64 L653.44 134.98 L654.56 135.31 L655.68 135.65 L656.81 135.98 L657.93 136.32 L659.05 136.66 L660.17 137 L661.29 137.34 L662.41 137.68 L663.53 138.02 L664.65 138.36 L665.77 138.7 L666.89 139.05 L668.01 139.39 L669.13 139.74 L670.25 140.08 L671.38 140.43 L672.5 140.78 L673.62 141.12 L674.74 141.47 L675.86 141.82 L676.98 142.18 L678.1 142.53" stroke="#e8402a" stroke-dasharray="1.5 1.4"/>
<path d="M499.9 16.54 L501.02 27.22 L502.14 33.78 L503.26 38.59 L504.38 42.41 L505.5 45.6 L506.62 48.35 L507.75 50.79 L508.87 52.97 L509.99 54.96 L511.11 56.79 L512.23 58.49 L513.35 60.08 L514.47 61.58 L515.59 63 L516.71 64.34 L517.83 65.62 L518.95 66.85 L520.07 68.03 L521.19 69.17 L522.32 70.26 L523.44 71.32 L524.56 72.35 L525.68 73.35 L526.8 74.31 L527.92 75.26 L529.04 76.18 L530.16 77.08 L531.28 77.96 L532.4 78.81 L533.52 79.66 L534.64 80.48 L535.76 81.29 L536.88 82.09 L538.01 82.87 L539.13 83.64 L540.25 84.39 L541.37 85.14 L542.49 85.87 L543.61 86.6 L544.73 87.31 L545.85 88.01 L546.97 88.71 L548.09 89.4 L549.21 90.08 L550.33 90.75 L551.45 91.41 L552.58 92.07 L553.7 92.72 L554.82 93.36 L555.94 94 L557.06 94.63 L558.18 95.26 L559.3 95.88 L560.42 96.49 L561.54 97.1 L562.66 97.7 L563.78 98.3 L564.9 98.9 L566.02 99.49 L567.15 100.08 L568.27 100.66 L569.39 101.24 L570.51 101.81 L571.63 102.38 L572.75 102.95 L573.87 103.51 L574.99 104.07 L576.11 104.63 L577.23 105.18 L578.35 105.74 L579.47 106.28 L580.59 106.83 L581.72 107.37 L582.84 107.91 L583.96 108.44 L585.08 108.98 L586.2 109.51 L587.32 110.04 L588.44 110.57 L589.56 111.09 L590.68 111.61 L591.8 112.13 L592.92 112.65 L594.04 113.16 L595.16 113.68 L596.28 114.19 L597.41 114.7 L598.53 115.2 L599.65 115.71 L600.77 116.21 L601.89 116.72 L603.01 117.22 L604.13 117.71 L605.25 118.21 L606.37 118.71 L607.49 119.2 L608.61 119.69 L609.73 120.18 L610.85 120.67 L611.98 121.16 L613.1 121.65 L614.22 122.13 L615.34 122.62 L616.46 123.1 L617.58 123.58 L618.7 124.06 L619.82 124.54 L620.94 125.02 L622.06 125.49 L623.18 125.97 L624.3 126.44 L625.42 126.91 L626.55 127.39 L627.67 127.86 L628.79 128.33 L629.91 128.8 L631.03 129.26 L632.15 129.73 L633.27 130.2 L634.39 130.66 L635.51 131.12 L636.63 131.59 L637.75 132.05 L638.87 132.51 L639.99 132.97 L641.12 133.43 L642.24 133.89 L643.36 134.35 L644.48 134.8 L645.6 135.26 L646.72 135.72 L647.84 136.17 L648.96 136.63 L650.08 137.08 L651.2 137.53 L652.32 137.98 L653.44 138.43 L654.56 138.89 L655.68 139.34 L656.81 139.78 L657.93 140.23 L659.05 140.68 L660.17 141.13 L661.29 141.58 L662.41 142.02 L663.53 142.47 L664.65 142.91 L665.77 143.36 L666.89 143.8 L668.01 144.25 L669.13 144.69 L670.25 145.13 L671.38 145.57 L672.5 146.01 L673.62 146.46 L674.74 146.9 L675.86 147.34 L676.98 147.78 L678.1 148.21" stroke="#9646c8" stroke-dasharray="1.5 1.4"/>
<path d="M499.9 31.23 L501.02 41.84 L502.14 48.26 L503.26 52.9 L504.38 56.54 L505.5 59.54 L506.62 62.1 L507.75 64.33 L508.87 66.32 L509.99 68.1 L511.11 69.73 L512.23 71.23 L513.35 72.61 L514.47 73.9 L515.59 75.11 L516.71 76.25 L517.83 77.33 L518.95 78.35 L520.07 79.33 L521.19 80.26 L522.32 81.15 L523.44 82.01 L524.56 82.84 L525.68 83.63 L526.8 84.41 L527.92 85.15 L529.04 85.88 L530.16 86.58 L531.28 87.26 L532.4 87.93 L533.52 88.58 L534.64 89.22 L535.76 89.84 L536.88 90.44 L538.01 91.04 L539.13 91.62 L540.25 92.2 L541.37 92.76 L542.49 93.31 L543.61 93.86 L544.73 94.39 L545.85 94.92 L546.97 95.44 L548.09 95.95 L549.21 96.46 L550.33 96.96 L551.45 97.45 L552.58 97.94 L553.7 98.42 L554.82 98.9 L555.94 99.37 L557.06 99.84 L558.18 100.3 L559.3 100.76 L560.42 101.22 L561.54 101.67 L562.66 102.12 L563.78 102.56 L564.9 103.01 L566.02 103.45 L567.15 103.88 L568.27 104.31 L569.39 104.75 L570.51 105.17 L571.63 105.6 L572.75 106.02 L573.87 106.45 L574.99 106.87 L576.11 107.28 L577.23 107.7 L578.35 108.12 L579.47 108.53 L580.59 108.94 L581.72 109.35 L582.84 109.76 L583.96 110.17 L585.08 110.57 L586.2 110.98 L587.32 111.39 L588.44 111.79 L589.56 112.19 L590.68 112.59 L591.8 113 L592.92 113.4 L594.04 113.8 L595.16 114.2 L596.28 114.59 L597.41 114.99 L598.53 115.39 L599.65 115.79 L600.77 116.19 L601.89 116.58 L603.01 116.98 L604.13 117.38 L605.25 117.77 L606.37 118.17 L607.49 118.57 L608.61 118.96 L609.73 119.36 L610.85 119.75 L611.98 120.15 L613.1 120.55 L614.22 120.94 L615.34 121.34 L616.46 121.74 L617.58 122.13 L618.7 122.53 L619.82 122.93 L620.94 123.33 L622.06 123.73 L623.18 124.12 L624.3 124.52 L625.42 124.92 L626.55 125.32 L627.67 125.72 L628.79 126.12 L629.91 126.52 L631.03 126.93 L632.15 127.33 L633.27 127.73 L634.39 128.13 L635.51 128.54 L636.63 128.94 L637.75 129.35 L638.87 129.75 L639.99 130.16 L641.12 130.56 L642.24 130.97 L643.36 131.38 L644.48 131.79 L645.6 132.2 L646.72 132.61 L647.84 133.02 L648.96 133.43 L650.08 133.85 L651.2 134.26 L652.32 134.67 L653.44 135.09 L654.56 135.5 L655.68 135.92 L656.81 136.34 L657.93 136.76 L659.05 137.18 L660.17 137.6 L661.29 138.02 L662.41 138.44 L663.53 138.86 L664.65 139.29 L665.77 139.71 L666.89 140.14 L668.01 140.56 L669.13 140.99 L670.25 141.42 L671.38 141.85 L672.5 142.28 L673.62 142.71 L674.74 143.15 L675.86 143.58 L676.98 144.02 L678.1 144.45" stroke="#1c1c1c" stroke-dasharray="1.5 1.4"/>
<path d="M499.9 38.57 L501.02 49.06 L502.14 55.42 L503.26 60.01 L504.38 63.62 L505.5 66.6 L506.62 69.13 L507.75 71.35 L508.87 73.31 L509.99 75.09 L511.11 76.7 L512.23 78.18 L513.35 79.56 L514.47 80.84 L515.59 82.04 L516.71 83.17 L517.83 84.24 L518.95 85.26 L520.07 86.22 L521.19 87.15 L522.32 88.03 L523.44 88.88 L524.56 89.7 L525.68 90.49 L526.8 91.25 L527.92 91.99 L529.04 92.71 L530.16 93.4 L531.28 94.08 L532.4 94.74 L533.52 95.38 L534.64 96.01 L535.76 96.62 L536.88 97.22 L538.01 97.8 L539.13 98.38 L540.25 98.94 L541.37 99.49 L542.49 100.03 L543.61 100.57 L544.73 101.09 L545.85 101.61 L546.97 102.12 L548.09 102.62 L549.21 103.11 L550.33 103.6 L551.45 104.08 L552.58 104.55 L553.7 105.02 L554.82 105.49 L555.94 105.95 L557.06 106.4 L558.18 106.85 L559.3 107.29 L560.42 107.73 L561.54 108.17 L562.66 108.6 L563.78 109.03 L564.9 109.46 L566.02 109.88 L567.15 110.3 L568.27 110.72 L569.39 111.13 L570.51 111.54 L571.63 111.95 L572.75 112.35 L573.87 112.76 L574.99 113.16 L576.11 113.56 L577.23 113.95 L578.35 114.35 L579.47 114.74 L580.59 115.13 L581.72 115.52 L582.84 115.91 L583.96 116.29 L585.08 116.68 L586.2 117.06 L587.32 117.44 L588.44 117.82 L589.56 118.2 L590.68 118.58 L591.8 118.95 L592.92 119.33 L594.04 119.7 L595.16 120.08 L596.28 120.45 L597.41 120.82 L598.53 121.19 L599.65 121.57 L600.77 121.94 L601.89 122.3 L603.01 122.67 L604.13 123.04 L605.25 123.41 L606.37 123.78 L607.49 124.14 L608.61 124.51 L609.73 124.88 L610.85 125.24 L611.98 125.61 L613.1 125.97 L614.22 126.34 L615.34 126.7 L616.46 127.07 L617.58 127.43 L618.7 127.79 L619.82 128.16 L620.94 128.52 L622.06 128.89 L623.18 129.25 L624.3 129.61 L625.42 129.98 L626.55 130.34 L627.67 130.7 L628.79 131.07 L629.91 131.43 L631.03 131.8 L632.15 132.16 L633.27 132.53 L634.39 132.89 L635.51 133.26 L636.63 133.62 L637.75 133.99 L638.87 134.35 L639.99 134.72 L641.12 135.09 L642.24 135.45 L643.36 135.82 L644.48 136.19 L645.6 136.55 L646.72 136.92 L647.84 137.29 L648.96 137.66 L650.08 138.03 L651.2 138.4 L652.32 138.77 L653.44 139.14 L654.56 139.51 L655.68 139.88 L656.81 140.25 L657.93 140.63 L659.05 141 L660.17 141.37 L661.29 141.75 L662.41 142.12 L663.53 142.5 L664.65 142.87 L665.77 143.25 L666.89 143.62 L668.01 144 L669.13 144.38 L670.25 144.76 L671.38 145.14 L672.5 145.52 L673.62 145.9 L674.74 146.28 L675.86 146.66 L676.98 147.04 L678.1 147.43" stroke="#e8402a"/>
<path d="M499.9 16.62 L501.02 27.41 L502.14 34.1 L503.26 39.01 L504.38 42.95 L505.5 46.25 L506.62 49.11 L507.75 51.65 L508.87 53.94 L509.99 56.04 L511.11 57.98 L512.23 59.78 L513.35 61.48 L514.47 63.08 L515.59 64.6 L516.71 66.04 L517.83 67.43 L518.95 68.76 L520.07 70.04 L521.19 71.27 L522.32 72.46 L523.44 73.62 L524.56 74.74 L525.68 75.84 L526.8 76.9 L527.92 77.94 L529.04 78.95 L530.16 79.95 L531.28 80.92 L532.4 81.87 L533.52 82.8 L534.64 83.72 L535.76 84.62 L536.88 85.51 L538.01 86.38 L539.13 87.23 L540.25 88.08 L541.37 88.91 L542.49 89.73 L543.61 90.54 L544.73 91.34 L545.85 92.13 L546.97 92.91 L548.09 93.68 L549.21 94.44 L550.33 95.19 L551.45 95.94 L552.58 96.68 L553.7 97.41 L554.82 98.13 L555.94 98.85 L557.06 99.56 L558.18 100.26 L559.3 100.96 L560.42 101.65 L561.54 102.33 L562.66 103.01 L563.78 103.69 L564.9 104.36 L566.02 105.02 L567.15 105.68 L568.27 106.33 L569.39 106.98 L570.51 107.63 L571.63 108.27 L572.75 108.91 L573.87 109.54 L574.99 110.17 L576.11 110.79 L577.23 111.41 L578.35 112.03 L579.47 112.64 L580.59 113.25 L581.72 113.86 L582.84 114.46 L583.96 115.06 L585.08 115.66 L586.2 116.25 L587.32 116.84 L588.44 117.43 L589.56 118.01 L590.68 118.6 L591.8 119.17 L592.92 119.75 L594.04 120.32 L595.16 120.89 L596.28 121.46 L597.41 122.03 L598.53 122.59 L599.65 123.15 L600.77 123.71 L601.89 124.26 L603.01 124.81 L604.13 125.37 L605.25 125.91 L606.37 126.46 L607.49 127 L608.61 127.55 L609.73 128.09 L610.85 128.62 L611.98 129.16 L613.1 129.69 L614.22 130.22 L615.34 130.75 L616.46 131.28 L617.58 131.81 L618.7 132.33 L619.82 132.85 L620.94 133.37 L622.06 133.89 L623.18 134.41 L624.3 134.92 L625.42 135.43 L626.55 135.95 L627.67 136.46 L628.79 136.96 L629.91 137.47 L631.03 137.97 L632.15 138.48 L633.27 138.98 L634.39 139.48 L635.51 139.98 L636.63 140.47 L637.75 140.97 L638.87 141.46 L639.99 141.96 L641.12 142.45 L642.24 142.94 L643.36 143.43 L644.48 143.91 L645.6 144.4 L646.72 144.88 L647.84 145.36 L648.96 145.84 L650.08 146.32 L651.2 146.8 L652.32 147.28 L653.44 147.76 L654.56 148.23 L655.68 148.7 L656.81 149.18 L657.93 149.65 L659.05 150.12 L660.17 150.58 L661.29 151.05 L662.41 151.52 L663.53 151.98 L664.65 152.45 L665.77 152.91 L666.89 153.37 L668.01 153.83 L669.13 154.29 L670.25 154.75 L671.38 155.2 L672.5 155.66 L673.62 156.11 L674.74 156.57 L675.86 157.02 L676.98 157.47 L678.1 157.92" stroke="#9646c8"/>
<path d="M499.9 32.76 L501.02 42.77 L502.14 48.88 L503.26 53.32 L504.38 56.84 L505.5 59.75 L506.62 62.25 L507.75 64.45 L508.87 66.41 L509.99 68.19 L511.11 69.83 L512.23 71.33 L513.35 72.74 L514.47 74.05 L515.59 75.3 L516.71 76.47 L517.83 77.59 L518.95 78.65 L520.07 79.67 L521.19 80.65 L522.32 81.6 L523.44 82.5 L524.56 83.38 L525.68 84.24 L526.8 85.06 L527.92 85.87 L529.04 86.65 L530.16 87.41 L531.28 88.16 L532.4 88.88 L533.52 89.6 L534.64 90.29 L535.76 90.98 L536.88 91.65 L538.01 92.31 L539.13 92.95 L540.25 93.59 L541.37 94.22 L542.49 94.83 L543.61 95.44 L544.73 96.04 L545.85 96.63 L546.97 97.22 L548.09 97.8 L549.21 98.37 L550.33 98.93 L551.45 99.49 L552.58 100.04 L553.7 100.59 L554.82 101.13 L555.94 101.67 L557.06 102.2 L558.18 102.73 L559.3 103.26 L560.42 103.78 L561.54 104.29 L562.66 104.8 L563.78 105.31 L564.9 105.82 L566.02 106.32 L567.15 106.82 L568.27 107.31 L569.39 107.81 L570.51 108.3 L571.63 108.79 L572.75 109.27 L573.87 109.75 L574.99 110.23 L576.11 110.71 L577.23 111.19 L578.35 111.66 L579.47 112.14 L580.59 112.61 L581.72 113.08 L582.84 113.54 L583.96 114.01 L585.08 114.47 L586.2 114.94 L587.32 115.4 L588.44 115.86 L589.56 116.32 L590.68 116.78 L591.8 117.23 L592.92 117.69 L594.04 118.14 L595.16 118.6 L596.28 119.05 L597.41 119.5 L598.53 119.95 L599.65 120.4 L600.77 120.85 L601.89 121.3 L603.01 121.75 L604.13 122.19 L605.25 122.64 L606.37 123.09 L607.49 123.53 L608.61 123.98 L609.73 124.42 L610.85 124.87 L611.98 125.31 L613.1 125.76 L614.22 126.2 L615.34 126.64 L616.46 127.09 L617.58 127.53 L618.7 127.97 L619.82 128.41 L620.94 128.85 L622.06 129.3 L623.18 129.74 L624.3 130.18 L625.42 130.62 L626.55 131.06 L627.67 131.5 L628.79 131.94 L629.91 132.39 L631.03 132.83 L632.15 133.27 L633.27 133.71 L634.39 134.15 L635.51 134.59 L636.63 135.04 L637.75 135.48 L638.87 135.92 L639.99 136.36 L641.12 136.8 L642.24 137.25 L643.36 137.69 L644.48 138.13 L645.6 138.58 L646.72 139.02 L647.84 139.46 L648.96 139.91 L650.08 140.35 L651.2 140.8 L652.32 141.24 L653.44 141.69 L654.56 142.13 L655.68 142.58 L656.81 143.02 L657.93 143.47 L659.05 143.92 L660.17 144.36 L661.29 144.81 L662.41 145.26 L663.53 145.71 L664.65 146.16 L665.77 146.61 L666.89 147.06 L668.01 147.51 L669.13 147.96 L670.25 148.41 L671.38 148.86 L672.5 149.31 L673.62 149.77 L674.74 150.22 L675.86 150.67 L676.98 151.13 L678.1 151.58" stroke="#1c1c1c"/>
</g>
<g clip-path="url(#c21)" fill="none" stroke-width="1.15">
<line x1="499.9" y1="188.2" x2="678.1" y2="188.2" stroke="#333" stroke-width="0.9" stroke-dasharray="3 2.2"/>
<path d="M499.9 182.82 L501.02 181.48 L502.14 180.86 L503.26 180.55 L504.38 180.42 L505.5 180.39 L506.62 180.44 L507.75 180.54 L508.87 180.67 L509.99 180.84 L511.11 181.02 L512.23 181.23 L513.35 181.45 L514.47 181.68 L515.59 181.91 L516.71 182.16 L517.83 182.41 L518.95 182.66 L520.07 182.92 L521.19 183.18 L522.32 183.44 L523.44 183.71 L524.56 183.97 L525.68 184.23 L526.8 184.49 L527.92 184.76 L529.04 185.02 L530.16 185.28 L531.28 185.54 L532.4 185.79 L533.52 186.05 L534.64 186.3 L535.76 186.55 L536.88 186.8 L538.01 187.04 L539.13 187.28 L540.25 187.52 L541.37 187.76 L542.49 188 L543.61 188.23 L544.73 188.46 L545.85 188.68 L546.97 188.91 L548.09 189.13 L549.21 189.35 L550.33 189.56 L551.45 189.77 L552.58 189.98 L553.7 190.19 L554.82 190.39 L555.94 190.59 L557.06 190.79 L558.18 190.98 L559.3 191.17 L560.42 191.36 L561.54 191.54 L562.66 191.72 L563.78 191.9 L564.9 192.08 L566.02 192.25 L567.15 192.42 L568.27 192.59 L569.39 192.75 L570.51 192.92 L571.63 193.07 L572.75 193.23 L573.87 193.38 L574.99 193.53 L576.11 193.68 L577.23 193.83 L578.35 193.97 L579.47 194.11 L580.59 194.25 L581.72 194.38 L582.84 194.52 L583.96 194.65 L585.08 194.78 L586.2 194.9 L587.32 195.02 L588.44 195.15 L589.56 195.26 L590.68 195.38 L591.8 195.49 L592.92 195.61 L594.04 195.72 L595.16 195.82 L596.28 195.93 L597.41 196.03 L598.53 196.14 L599.65 196.24 L600.77 196.33 L601.89 196.43 L603.01 196.52 L604.13 196.62 L605.25 196.71 L606.37 196.8 L607.49 196.89 L608.61 196.97 L609.73 197.06 L610.85 197.14 L611.98 197.22 L613.1 197.3 L614.22 197.38 L615.34 197.46 L616.46 197.53 L617.58 197.61 L618.7 197.68 L619.82 197.75 L620.94 197.83 L622.06 197.9 L623.18 197.96 L624.3 198.03 L625.42 198.1 L626.55 198.17 L627.67 198.23 L628.79 198.3 L629.91 198.36 L631.03 198.42 L632.15 198.49 L633.27 198.55 L634.39 198.61 L635.51 198.67 L636.63 198.73 L637.75 198.79 L638.87 198.85 L639.99 198.91 L641.12 198.97 L642.24 199.03 L643.36 199.08 L644.48 199.14 L645.6 199.2 L646.72 199.26 L647.84 199.32 L648.96 199.37 L650.08 199.43 L651.2 199.49 L652.32 199.55 L653.44 199.61 L654.56 199.66 L655.68 199.72 L656.81 199.78 L657.93 199.84 L659.05 199.9 L660.17 199.96 L661.29 200.02 L662.41 200.08 L663.53 200.14 L664.65 200.21 L665.77 200.27 L666.89 200.33 L668.01 200.4 L669.13 200.46 L670.25 200.53 L671.38 200.6 L672.5 200.66 L673.62 200.73 L674.74 200.8 L675.86 200.88 L676.98 200.95 L678.1 201.02" stroke="#e8402a"/>
<path d="M499.9 183.59 L501.02 183.91 L502.14 184.24 L503.26 184.57 L504.38 184.9 L505.5 185.22 L506.62 185.54 L507.75 185.85 L508.87 186.17 L509.99 186.47 L511.11 186.78 L512.23 187.08 L513.35 187.38 L514.47 187.67 L515.59 187.96 L516.71 188.24 L517.83 188.52 L518.95 188.8 L520.07 189.08 L521.19 189.35 L522.32 189.61 L523.44 189.88 L524.56 190.13 L525.68 190.39 L526.8 190.64 L527.92 190.89 L529.04 191.13 L530.16 191.37 L531.28 191.61 L532.4 191.85 L533.52 192.08 L534.64 192.3 L535.76 192.53 L536.88 192.75 L538.01 192.97 L539.13 193.18 L540.25 193.39 L541.37 193.6 L542.49 193.8 L543.61 194 L544.73 194.2 L545.85 194.39 L546.97 194.58 L548.09 194.77 L549.21 194.96 L550.33 195.14 L551.45 195.32 L552.58 195.5 L553.7 195.67 L554.82 195.84 L555.94 196.01 L557.06 196.17 L558.18 196.33 L559.3 196.49 L560.42 196.65 L561.54 196.8 L562.66 196.95 L563.78 197.1 L564.9 197.25 L566.02 197.39 L567.15 197.53 L568.27 197.67 L569.39 197.8 L570.51 197.94 L571.63 198.07 L572.75 198.19 L573.87 198.32 L574.99 198.44 L576.11 198.56 L577.23 198.68 L578.35 198.8 L579.47 198.91 L580.59 199.03 L581.72 199.14 L582.84 199.24 L583.96 199.35 L585.08 199.45 L586.2 199.55 L587.32 199.65 L588.44 199.75 L589.56 199.85 L590.68 199.94 L591.8 200.03 L592.92 200.12 L594.04 200.21 L595.16 200.29 L596.28 200.38 L597.41 200.46 L598.53 200.54 L599.65 200.62 L600.77 200.7 L601.89 200.77 L603.01 200.85 L604.13 200.92 L605.25 200.99 L606.37 201.06 L607.49 201.13 L608.61 201.2 L609.73 201.26 L610.85 201.33 L611.98 201.39 L613.1 201.45 L614.22 201.51 L615.34 201.57 L616.46 201.63 L617.58 201.68 L618.7 201.74 L619.82 201.79 L620.94 201.84 L622.06 201.9 L623.18 201.95 L624.3 202 L625.42 202.04 L626.55 202.09 L627.67 202.14 L628.79 202.18 L629.91 202.23 L631.03 202.27 L632.15 202.32 L633.27 202.36 L634.39 202.4 L635.51 202.44 L636.63 202.48 L637.75 202.52 L638.87 202.56 L639.99 202.6 L641.12 202.64 L642.24 202.67 L643.36 202.71 L644.48 202.75 L645.6 202.78 L646.72 202.82 L647.84 202.85 L648.96 202.89 L650.08 202.92 L651.2 202.96 L652.32 202.99 L653.44 203.03 L654.56 203.06 L655.68 203.09 L656.81 203.13 L657.93 203.16 L659.05 203.19 L660.17 203.22 L661.29 203.26 L662.41 203.29 L663.53 203.32 L664.65 203.36 L665.77 203.39 L666.89 203.42 L668.01 203.46 L669.13 203.49 L670.25 203.52 L671.38 203.56 L672.5 203.59 L673.62 203.63 L674.74 203.66 L675.86 203.7 L676.98 203.73 L678.1 203.77" stroke="#1c1c1c"/>
<path d="M499.9 184.68 L501.02 186.62 L502.14 187.85 L503.26 188.78 L504.38 189.54 L505.5 190.19 L506.62 190.76 L507.75 191.27 L508.87 191.74 L509.99 192.17 L511.11 192.58 L512.23 192.96 L513.35 193.31 L514.47 193.65 L515.59 193.98 L516.71 194.29 L517.83 194.58 L518.95 194.87 L520.07 195.14 L521.19 195.41 L522.32 195.66 L523.44 195.91 L524.56 196.15 L525.68 196.38 L526.8 196.61 L527.92 196.83 L529.04 197.04 L530.16 197.25 L531.28 197.45 L532.4 197.65 L533.52 197.84 L534.64 198.03 L535.76 198.21 L536.88 198.39 L538.01 198.56 L539.13 198.73 L540.25 198.9 L541.37 199.06 L542.49 199.22 L543.61 199.37 L544.73 199.53 L545.85 199.67 L546.97 199.82 L548.09 199.96 L549.21 200.1 L550.33 200.23 L551.45 200.37 L552.58 200.5 L553.7 200.62 L554.82 200.75 L555.94 200.87 L557.06 200.99 L558.18 201.1 L559.3 201.22 L560.42 201.33 L561.54 201.44 L562.66 201.54 L563.78 201.65 L564.9 201.75 L566.02 201.85 L567.15 201.95 L568.27 202.04 L569.39 202.14 L570.51 202.23 L571.63 202.32 L572.75 202.4 L573.87 202.49 L574.99 202.57 L576.11 202.65 L577.23 202.73 L578.35 202.81 L579.47 202.89 L580.59 202.96 L581.72 203.03 L582.84 203.11 L583.96 203.17 L585.08 203.24 L586.2 203.31 L587.32 203.37 L588.44 203.44 L589.56 203.5 L590.68 203.56 L591.8 203.62 L592.92 203.67 L594.04 203.73 L595.16 203.78 L596.28 203.84 L597.41 203.89 L598.53 203.94 L599.65 203.99 L600.77 204.03 L601.89 204.08 L603.01 204.13 L604.13 204.17 L605.25 204.21 L606.37 204.26 L607.49 204.3 L608.61 204.34 L609.73 204.37 L610.85 204.41 L611.98 204.45 L613.1 204.48 L614.22 204.52 L615.34 204.55 L616.46 204.58 L617.58 204.62 L618.7 204.65 L619.82 204.68 L620.94 204.71 L622.06 204.73 L623.18 204.76 L624.3 204.79 L625.42 204.81 L626.55 204.84 L627.67 204.86 L628.79 204.89 L629.91 204.91 L631.03 204.93 L632.15 204.96 L633.27 204.98 L634.39 205 L635.51 205.02 L636.63 205.04 L637.75 205.06 L638.87 205.07 L639.99 205.09 L641.12 205.11 L642.24 205.13 L643.36 205.14 L644.48 205.16 L645.6 205.18 L646.72 205.19 L647.84 205.21 L648.96 205.22 L650.08 205.23 L651.2 205.25 L652.32 205.26 L653.44 205.28 L654.56 205.29 L655.68 205.3 L656.81 205.31 L657.93 205.33 L659.05 205.34 L660.17 205.35 L661.29 205.36 L662.41 205.38 L663.53 205.39 L664.65 205.4 L665.77 205.41 L666.89 205.42 L668.01 205.43 L669.13 205.44 L670.25 205.46 L671.38 205.47 L672.5 205.48 L673.62 205.49 L674.74 205.5 L675.86 205.52 L676.98 205.53 L678.1 205.54" stroke="#9646c8"/>
</g>
<g clip-path="url(#c22)" fill="none" stroke-width="1.15">
<line x1="499.9" y1="238.3" x2="678.1" y2="238.3" stroke="#e8402a"/>
<path d="M499.9 231.97 L501.02 232.16 L502.14 232.24 L503.26 232.28 L504.38 232.3 L505.5 232.3 L506.62 232.3 L507.75 232.28 L508.87 232.27 L509.99 232.25 L511.11 232.23 L512.23 232.21 L513.35 232.18 L514.47 232.16 L515.59 232.14 L516.71 232.12 L517.83 232.09 L518.95 232.07 L520.07 232.05 L521.19 232.03 L522.32 232.02 L523.44 232 L524.56 231.99 L525.68 231.97 L526.8 231.96 L527.92 231.95 L529.04 231.94 L530.16 231.93 L531.28 231.93 L532.4 231.92 L533.52 231.92 L534.64 231.92 L535.76 231.92 L536.88 231.92 L538.01 231.92 L539.13 231.93 L540.25 231.94 L541.37 231.94 L542.49 231.96 L543.61 231.97 L544.73 231.98 L545.85 232 L546.97 232.01 L548.09 232.03 L549.21 232.05 L550.33 232.07 L551.45 232.1 L552.58 232.12 L553.7 232.15 L554.82 232.18 L555.94 232.21 L557.06 232.24 L558.18 232.28 L559.3 232.31 L560.42 232.35 L561.54 232.39 L562.66 232.43 L563.78 232.47 L564.9 232.51 L566.02 232.56 L567.15 232.6 L568.27 232.65 L569.39 232.7 L570.51 232.75 L571.63 232.81 L572.75 232.86 L573.87 232.92 L574.99 232.97 L576.11 233.03 L577.23 233.09 L578.35 233.15 L579.47 233.22 L580.59 233.28 L581.72 233.35 L582.84 233.41 L583.96 233.48 L585.08 233.55 L586.2 233.62 L587.32 233.7 L588.44 233.77 L589.56 233.85 L590.68 233.93 L591.8 234 L592.92 234.08 L594.04 234.16 L595.16 234.25 L596.28 234.33 L597.41 234.42 L598.53 234.5 L599.65 234.59 L600.77 234.68 L601.89 234.77 L603.01 234.86 L604.13 234.95 L605.25 235.05 L606.37 235.14 L607.49 235.24 L608.61 235.33 L609.73 235.43 L610.85 235.53 L611.98 235.63 L613.1 235.73 L614.22 235.84 L615.34 235.94 L616.46 236.04 L617.58 236.15 L618.7 236.26 L619.82 236.37 L620.94 236.47 L622.06 236.58 L623.18 236.7 L624.3 236.81 L625.42 236.92 L626.55 237.03 L627.67 237.15 L628.79 237.27 L629.91 237.38 L631.03 237.5 L632.15 237.62 L633.27 237.74 L634.39 237.86 L635.51 237.98 L636.63 238.1 L637.75 238.23 L638.87 238.35 L639.99 238.47 L641.12 238.6 L642.24 238.73 L643.36 238.85 L644.48 238.98 L645.6 239.11 L646.72 239.24 L647.84 239.37 L648.96 239.5 L650.08 239.63 L651.2 239.76 L652.32 239.9 L653.44 240.03 L654.56 240.16 L655.68 240.3 L656.81 240.43 L657.93 240.57 L659.05 240.71 L660.17 240.84 L661.29 240.98 L662.41 241.12 L663.53 241.26 L664.65 241.4 L665.77 241.54 L666.89 241.68 L668.01 241.82 L669.13 241.96 L670.25 242.1 L671.38 242.24 L672.5 242.39 L673.62 242.53 L674.74 242.67 L675.86 242.82 L676.98 242.96 L678.1 243.11" stroke="#1c1c1c"/>
<path d="M499.9 210.67 L501.02 212.89 L502.14 214.29 L503.26 215.33 L504.38 216.18 L505.5 216.9 L506.62 217.53 L507.75 218.09 L508.87 218.61 L509.99 219.08 L511.11 219.53 L512.23 219.94 L513.35 220.34 L514.47 220.71 L515.59 221.07 L516.71 221.41 L517.83 221.74 L518.95 222.06 L520.07 222.37 L521.19 222.67 L522.32 222.96 L523.44 223.25 L524.56 223.52 L525.68 223.79 L526.8 224.06 L527.92 224.32 L529.04 224.57 L530.16 224.82 L531.28 225.07 L532.4 225.31 L533.52 225.55 L534.64 225.79 L535.76 226.02 L536.88 226.25 L538.01 226.47 L539.13 226.7 L540.25 226.92 L541.37 227.14 L542.49 227.35 L543.61 227.57 L544.73 227.78 L545.85 227.99 L546.97 228.2 L548.09 228.4 L549.21 228.61 L550.33 228.81 L551.45 229.02 L552.58 229.22 L553.7 229.42 L554.82 229.62 L555.94 229.82 L557.06 230.01 L558.18 230.21 L559.3 230.4 L560.42 230.6 L561.54 230.79 L562.66 230.99 L563.78 231.18 L564.9 231.37 L566.02 231.56 L567.15 231.75 L568.27 231.94 L569.39 232.13 L570.51 232.32 L571.63 232.51 L572.75 232.7 L573.87 232.89 L574.99 233.08 L576.11 233.27 L577.23 233.46 L578.35 233.64 L579.47 233.83 L580.59 234.02 L581.72 234.21 L582.84 234.4 L583.96 234.58 L585.08 234.77 L586.2 234.96 L587.32 235.15 L588.44 235.34 L589.56 235.53 L590.68 235.72 L591.8 235.91 L592.92 236.1 L594.04 236.29 L595.16 236.48 L596.28 236.67 L597.41 236.86 L598.53 237.05 L599.65 237.25 L600.77 237.44 L601.89 237.63 L603.01 237.83 L604.13 238.02 L605.25 238.22 L606.37 238.41 L607.49 238.61 L608.61 238.81 L609.73 239 L610.85 239.2 L611.98 239.4 L613.1 239.6 L614.22 239.8 L615.34 240 L616.46 240.21 L617.58 240.41 L618.7 240.61 L619.82 240.82 L620.94 241.03 L622.06 241.23 L623.18 241.44 L624.3 241.65 L625.42 241.86 L626.55 242.07 L627.67 242.28 L628.79 242.5 L629.91 242.71 L631.03 242.93 L632.15 243.14 L633.27 243.36 L634.39 243.58 L635.51 243.8 L636.63 244.02 L637.75 244.25 L638.87 244.47 L639.99 244.7 L641.12 244.92 L642.24 245.15 L643.36 245.38 L644.48 245.61 L645.6 245.84 L646.72 246.08 L647.84 246.31 L648.96 246.55 L650.08 246.78 L651.2 247.02 L652.32 247.26 L653.44 247.51 L654.56 247.75 L655.68 248 L656.81 248.24 L657.93 248.49 L659.05 248.74 L660.17 248.99 L661.29 249.25 L662.41 249.5 L663.53 249.76 L664.65 250.02 L665.77 250.28 L666.89 250.54 L668.01 250.8 L669.13 251.07 L670.25 251.34 L671.38 251.61 L672.5 251.88 L673.62 252.15 L674.74 252.42 L675.86 252.7 L676.98 252.98 L678.1 253.26" stroke="#9646c8"/>
</g>
<g clip-path="url(#c23)" fill="none" stroke-width="1.15">
<line x1="499.9" y1="276.7" x2="678.1" y2="276.7" stroke="#e8402a" stroke-dasharray="1.5 1.4"/>
<path d="M499.9 269.94 L501.02 269.99 L502.14 269.98 L503.26 269.94 L504.38 269.89 L505.5 269.84 L506.62 269.78 L507.75 269.72 L508.87 269.66 L509.99 269.6 L511.11 269.54 L512.23 269.48 L513.35 269.42 L514.47 269.36 L515.59 269.3 L516.71 269.24 L517.83 269.19 L518.95 269.14 L520.07 269.09 L521.19 269.04 L522.32 269 L523.44 268.95 L524.56 268.91 L525.68 268.87 L526.8 268.83 L527.92 268.8 L529.04 268.76 L530.16 268.73 L531.28 268.7 L532.4 268.67 L533.52 268.65 L534.64 268.63 L535.76 268.61 L536.88 268.59 L538.01 268.57 L539.13 268.56 L540.25 268.55 L541.37 268.54 L542.49 268.53 L543.61 268.52 L544.73 268.52 L545.85 268.52 L546.97 268.52 L548.09 268.52 L549.21 268.53 L550.33 268.53 L551.45 268.54 L552.58 268.55 L553.7 268.56 L554.82 268.58 L555.94 268.6 L557.06 268.62 L558.18 268.64 L559.3 268.66 L560.42 268.69 L561.54 268.71 L562.66 268.74 L563.78 268.77 L564.9 268.8 L566.02 268.84 L567.15 268.88 L568.27 268.91 L569.39 268.95 L570.51 269 L571.63 269.04 L572.75 269.09 L573.87 269.13 L574.99 269.18 L576.11 269.23 L577.23 269.29 L578.35 269.34 L579.47 269.4 L580.59 269.46 L581.72 269.51 L582.84 269.58 L583.96 269.64 L585.08 269.7 L586.2 269.77 L587.32 269.84 L588.44 269.91 L589.56 269.98 L590.68 270.05 L591.8 270.13 L592.92 270.2 L594.04 270.28 L595.16 270.36 L596.28 270.44 L597.41 270.52 L598.53 270.6 L599.65 270.69 L600.77 270.77 L601.89 270.86 L603.01 270.95 L604.13 271.04 L605.25 271.13 L606.37 271.23 L607.49 271.32 L608.61 271.42 L609.73 271.51 L610.85 271.61 L611.98 271.71 L613.1 271.81 L614.22 271.92 L615.34 272.02 L616.46 272.12 L617.58 272.23 L618.7 272.34 L619.82 272.45 L620.94 272.56 L622.06 272.67 L623.18 272.78 L624.3 272.89 L625.42 273 L626.55 273.12 L627.67 273.24 L628.79 273.35 L629.91 273.47 L631.03 273.59 L632.15 273.71 L633.27 273.83 L634.39 273.96 L635.51 274.08 L636.63 274.2 L637.75 274.33 L638.87 274.45 L639.99 274.58 L641.12 274.71 L642.24 274.84 L643.36 274.97 L644.48 275.1 L645.6 275.23 L646.72 275.36 L647.84 275.49 L648.96 275.63 L650.08 275.76 L651.2 275.9 L652.32 276.03 L653.44 276.17 L654.56 276.31 L655.68 276.44 L656.81 276.58 L657.93 276.72 L659.05 276.86 L660.17 277 L661.29 277.14 L662.41 277.29 L663.53 277.43 L664.65 277.57 L665.77 277.71 L666.89 277.86 L668.01 278 L669.13 278.15 L670.25 278.29 L671.38 278.44 L672.5 278.59 L673.62 278.73 L674.74 278.88 L675.86 279.03 L676.98 279.17 L678.1 279.32" stroke="#1c1c1c" stroke-dasharray="1.5 1.4"/>
<path d="M499.9 248.8 L501.02 250.45 L502.14 251.48 L503.26 252.25 L504.38 252.87 L505.5 253.4 L506.62 253.86 L507.75 254.27 L508.87 254.65 L509.99 255 L511.11 255.32 L512.23 255.63 L513.35 255.92 L514.47 256.19 L515.59 256.46 L516.71 256.71 L517.83 256.96 L518.95 257.2 L520.07 257.43 L521.19 257.65 L522.32 257.88 L523.44 258.09 L524.56 258.3 L525.68 258.51 L526.8 258.71 L527.92 258.92 L529.04 259.11 L530.16 259.31 L531.28 259.5 L532.4 259.7 L533.52 259.88 L534.64 260.07 L535.76 260.26 L536.88 260.44 L538.01 260.63 L539.13 260.81 L540.25 260.99 L541.37 261.17 L542.49 261.35 L543.61 261.53 L544.73 261.71 L545.85 261.88 L546.97 262.06 L548.09 262.24 L549.21 262.41 L550.33 262.59 L551.45 262.76 L552.58 262.94 L553.7 263.11 L554.82 263.28 L555.94 263.46 L557.06 263.63 L558.18 263.81 L559.3 263.98 L560.42 264.15 L561.54 264.33 L562.66 264.5 L563.78 264.68 L564.9 264.85 L566.02 265.02 L567.15 265.2 L568.27 265.37 L569.39 265.55 L570.51 265.72 L571.63 265.9 L572.75 266.07 L573.87 266.25 L574.99 266.43 L576.11 266.6 L577.23 266.78 L578.35 266.96 L579.47 267.13 L580.59 267.31 L581.72 267.49 L582.84 267.67 L583.96 267.85 L585.08 268.03 L586.2 268.21 L587.32 268.39 L588.44 268.57 L589.56 268.75 L590.68 268.93 L591.8 269.12 L592.92 269.3 L594.04 269.48 L595.16 269.67 L596.28 269.85 L597.41 270.04 L598.53 270.22 L599.65 270.41 L600.77 270.6 L601.89 270.78 L603.01 270.97 L604.13 271.16 L605.25 271.35 L606.37 271.54 L607.49 271.73 L608.61 271.92 L609.73 272.12 L610.85 272.31 L611.98 272.5 L613.1 272.7 L614.22 272.89 L615.34 273.09 L616.46 273.28 L617.58 273.48 L618.7 273.68 L619.82 273.88 L620.94 274.08 L622.06 274.28 L623.18 274.48 L624.3 274.68 L625.42 274.88 L626.55 275.08 L627.67 275.29 L628.79 275.49 L629.91 275.7 L631.03 275.9 L632.15 276.11 L633.27 276.32 L634.39 276.53 L635.51 276.74 L636.63 276.95 L637.75 277.16 L638.87 277.37 L639.99 277.58 L641.12 277.79 L642.24 278.01 L643.36 278.22 L644.48 278.44 L645.6 278.66 L646.72 278.87 L647.84 279.09 L648.96 279.31 L650.08 279.53 L651.2 279.75 L652.32 279.97 L653.44 280.2 L654.56 280.42 L655.68 280.64 L656.81 280.87 L657.93 281.1 L659.05 281.32 L660.17 281.55 L661.29 281.78 L662.41 282.01 L663.53 282.24 L664.65 282.47 L665.77 282.7 L666.89 282.94 L668.01 283.17 L669.13 283.41 L670.25 283.64 L671.38 283.88 L672.5 284.12 L673.62 284.36 L674.74 284.6 L675.86 284.84 L676.98 285.08 L678.1 285.32" stroke="#9646c8" stroke-dasharray="1.5 1.4"/>
</g>
<text x="540.1" y="143" text-anchor="end" font-size="7.6">gγ Q=M</text>
<line x1="543.4" y1="140.2" x2="555.5" y2="140.2" stroke="#e8402a" stroke-width="1.15"/>
<text x="595.5" y="143" text-anchor="end" font-size="7.6">gγ Q=m<tspan dy="2.4" font-size="5.4">t</tspan></text>
<line x1="599.2" y1="140.2" x2="609.5" y2="140.2" stroke="#e8402a" stroke-width="1.15" stroke-dasharray="1.5 1.4"/>
<text x="540.1" y="152.2" text-anchor="end" font-size="7.6">gg Q=M</text>
<line x1="543.4" y1="150.9" x2="555.5" y2="150.9" stroke="#9646c8" stroke-width="1.15"/>
<text x="595.5" y="152.2" text-anchor="end" font-size="7.6">gg Q=m<tspan dy="2.4" font-size="5.4">t</tspan></text>
<line x1="599.2" y1="150.9" x2="609.5" y2="150.9" stroke="#9646c8" stroke-width="1.15" stroke-dasharray="1.5 1.4"/>
<text x="540.1" y="165.4" text-anchor="end" font-size="7.6">qq Q=M</text>
<line x1="543.4" y1="161.5" x2="555.5" y2="161.5" stroke="#1c1c1c" stroke-width="1.15"/>
<text x="595.5" y="165.4" text-anchor="end" font-size="7.6">qq Q=m<tspan dy="2.4" font-size="5.4">t</tspan></text>
<line x1="599.2" y1="161.5" x2="609.5" y2="161.5" stroke="#1c1c1c" stroke-width="1.15" stroke-dasharray="1.5 1.4"/>
<path d="M518.6 160.3h1.9M572.3 160.3h1.9" stroke="#333" stroke-width="0.7"/>
<rect x="499.9" y="5.5" width="178.2" height="279.7" fill="none" stroke="#2a2a2a" stroke-width="1"/>
<line x1="499.9" y1="169.4" x2="678.1" y2="169.4" stroke="#2a2a2a" stroke-width="1"/>
<line x1="499.9" y1="208.1" x2="678.1" y2="208.1" stroke="#2a2a2a" stroke-width="1"/>
<line x1="499.9" y1="246.2" x2="678.1" y2="246.2" stroke="#2a2a2a" stroke-width="1"/>
<path d="M499.9 169.4h3.5M678.1 169.4h-3.5M499.9 166.11h2M678.1 166.11h-2M499.9 164.19h2M678.1 164.19h-2M499.9 162.82h2M678.1 162.82h-2M499.9 161.76h2M678.1 161.76h-2M499.9 160.9h2M678.1 160.9h-2M499.9 160.17h2M678.1 160.17h-2M499.9 159.53h2M678.1 159.53h-2M499.9 158.97h2M678.1 158.97h-2M499.9 158.47h3.5M678.1 158.47h-3.5M499.9 155.18h2M678.1 155.18h-2M499.9 153.26h2M678.1 153.26h-2M499.9 151.89h2M678.1 151.89h-2M499.9 150.84h2M678.1 150.84h-2M499.9 149.97h2M678.1 149.97h-2M499.9 149.24h2M678.1 149.24h-2M499.9 148.61h2M678.1 148.61h-2M499.9 148.05h2M678.1 148.05h-2M499.9 147.55h3.5M678.1 147.55h-3.5M499.9 144.26h2M678.1 144.26h-2M499.9 142.33h2M678.1 142.33h-2M499.9 140.97h2M678.1 140.97h-2M499.9 139.91h2M678.1 139.91h-2M499.9 139.04h2M678.1 139.04h-2M499.9 138.31h2M678.1 138.31h-2M499.9 137.68h2M678.1 137.68h-2M499.9 137.12h2M678.1 137.12h-2M499.9 136.62h3.5M678.1 136.62h-3.5M499.9 133.33h2M678.1 133.33h-2M499.9 131.41h2M678.1 131.41h-2M499.9 130.04h2M678.1 130.04h-2M499.9 128.98h2M678.1 128.98h-2M499.9 128.12h2M678.1 128.12h-2M499.9 127.39h2M678.1 127.39h-2M499.9 126.75h2M678.1 126.75h-2M499.9 126.19h2M678.1 126.19h-2M499.9 125.69h3.5M678.1 125.69h-3.5M499.9 122.4h2M678.1 122.4h-2M499.9 120.48h2M678.1 120.48h-2M499.9 119.11h2M678.1 119.11h-2M499.9 118.06h2M678.1 118.06h-2M499.9 117.19h2M678.1 117.19h-2M499.9 116.46h2M678.1 116.46h-2M499.9 115.83h2M678.1 115.83h-2M499.9 115.27h2M678.1 115.27h-2M499.9 114.77h3.5M678.1 114.77h-3.5M499.9 111.48h2M678.1 111.48h-2M499.9 109.55h2M678.1 109.55h-2M499.9 108.19h2M678.1 108.19h-2M499.9 107.13h2M678.1 107.13h-2M499.9 106.26h2M678.1 106.26h-2M499.9 105.53h2M678.1 105.53h-2M499.9 104.9h2M678.1 104.9h-2M499.9 104.34h2M678.1 104.34h-2M499.9 103.84h3.5M678.1 103.84h-3.5M499.9 100.55h2M678.1 100.55h-2M499.9 98.63h2M678.1 98.63h-2M499.9 97.26h2M678.1 97.26h-2M499.9 96.2h2M678.1 96.2h-2M499.9 95.34h2M678.1 95.34h-2M499.9 94.61h2M678.1 94.61h-2M499.9 93.97h2M678.1 93.97h-2M499.9 93.41h2M678.1 93.41h-2M499.9 92.91h3.5M678.1 92.91h-3.5M499.9 89.62h2M678.1 89.62h-2M499.9 87.7h2M678.1 87.7h-2M499.9 86.33h2M678.1 86.33h-2M499.9 85.28h2M678.1 85.28h-2M499.9 84.41h2M678.1 84.41h-2M499.9 83.68h2M678.1 83.68h-2M499.9 83.05h2M678.1 83.05h-2M499.9 82.49h2M678.1 82.49h-2M499.9 81.99h3.5M678.1 81.99h-3.5M499.9 78.7h2M678.1 78.7h-2M499.9 76.77h2M678.1 76.77h-2M499.9 75.41h2M678.1 75.41h-2M499.9 74.35h2M678.1 74.35h-2M499.9 73.48h2M678.1 73.48h-2M499.9 72.75h2M678.1 72.75h-2M499.9 72.12h2M678.1 72.12h-2M499.9 71.56h2M678.1 71.56h-2M499.9 71.06h3.5M678.1 71.06h-3.5M499.9 67.77h2M678.1 67.77h-2M499.9 65.85h2M678.1 65.85h-2M499.9 64.48h2M678.1 64.48h-2M499.9 63.42h2M678.1 63.42h-2M499.9 62.56h2M678.1 62.56h-2M499.9 61.83h2M678.1 61.83h-2M499.9 61.19h2M678.1 61.19h-2M499.9 60.63h2M678.1 60.63h-2M499.9 60.13h3.5M678.1 60.13h-3.5M499.9 56.84h2M678.1 56.84h-2M499.9 54.92h2M678.1 54.92h-2M499.9 53.55h2M678.1 53.55h-2M499.9 52.5h2M678.1 52.5h-2M499.9 51.63h2M678.1 51.63h-2M499.9 50.9h2M678.1 50.9h-2M499.9 50.27h2M678.1 50.27h-2M499.9 49.71h2M678.1 49.71h-2M499.9 49.21h3.5M678.1 49.21h-3.5M499.9 45.92h2M678.1 45.92h-2M499.9 43.99h2M678.1 43.99h-2M499.9 42.63h2M678.1 42.63h-2M499.9 41.57h2M678.1 41.57h-2M499.9 40.7h2M678.1 40.7h-2M499.9 39.97h2M678.1 39.97h-2M499.9 39.34h2M678.1 39.34h-2M499.9 38.78h2M678.1 38.78h-2M499.9 38.28h3.5M678.1 38.28h-3.5M499.9 34.99h2M678.1 34.99h-2M499.9 33.07h2M678.1 33.07h-2M499.9 31.7h2M678.1 31.7h-2M499.9 30.64h2M678.1 30.64h-2M499.9 29.78h2M678.1 29.78h-2M499.9 29.05h2M678.1 29.05h-2M499.9 28.41h2M678.1 28.41h-2M499.9 27.85h2M678.1 27.85h-2M499.9 27.35h3.5M678.1 27.35h-3.5M499.9 24.06h2M678.1 24.06h-2M499.9 22.14h2M678.1 22.14h-2M499.9 20.77h2M678.1 20.77h-2M499.9 19.72h2M678.1 19.72h-2M499.9 18.85h2M678.1 18.85h-2M499.9 18.12h2M678.1 18.12h-2M499.9 17.49h2M678.1 17.49h-2M499.9 16.93h2M678.1 16.93h-2M499.9 16.43h3.5M678.1 16.43h-3.5M499.9 13.14h2M678.1 13.14h-2M499.9 11.21h2M678.1 11.21h-2M499.9 9.85h2M678.1 9.85h-2M499.9 8.79h2M678.1 8.79h-2M499.9 7.92h2M678.1 7.92h-2M499.9 7.19h2M678.1 7.19h-2M499.9 6.56h2M678.1 6.56h-2M499.9 6h2M678.1 6h-2M499.9 5.5h3.5M678.1 5.5h-3.5" stroke="#2a2a2a" stroke-width="0.6" fill="none"/>
<text x="496" y="171.95" text-anchor="end" font-size="6.9">10<tspan dy="-2.4" font-size="5.4">-16</tspan></text>
<text x="496" y="161.02" text-anchor="end" font-size="6.9">10<tspan dy="-2.4" font-size="5.4">-15</tspan></text>
<text x="496" y="150.1" text-anchor="end" font-size="6.9">10<tspan dy="-2.4" font-size="5.4">-14</tspan></text>
<text x="496" y="139.17" text-anchor="end" font-size="6.9">10<tspan dy="-2.4" font-size="5.4">-13</tspan></text>
<text x="496" y="128.24" text-anchor="end" font-size="6.9">10<tspan dy="-2.4" font-size="5.4">-12</tspan></text>
<text x="496" y="117.32" text-anchor="end" font-size="6.9">10<tspan dy="-2.4" font-size="5.4">-11</tspan></text>
<text x="496" y="106.39" text-anchor="end" font-size="6.9">10<tspan dy="-2.4" font-size="5.4">-10</tspan></text>
<text x="496" y="95.46" text-anchor="end" font-size="6.9">10<tspan dy="-2.4" font-size="5.4">-9</tspan></text>
<text x="496" y="84.54" text-anchor="end" font-size="6.9">10<tspan dy="-2.4" font-size="5.4">-8</tspan></text>
<text x="496" y="73.61" text-anchor="end" font-size="6.9">10<tspan dy="-2.4" font-size="5.4">-7</tspan></text>
<text x="496" y="62.68" text-anchor="end" font-size="6.9">10<tspan dy="-2.4" font-size="5.4">-6</tspan></text>
<text x="496" y="51.76" text-anchor="end" font-size="6.9">10<tspan dy="-2.4" font-size="5.4">-5</tspan></text>
<text x="496" y="40.83" text-anchor="end" font-size="6.9">10<tspan dy="-2.4" font-size="5.4">-4</tspan></text>
<text x="496" y="29.9" text-anchor="end" font-size="6.9">10<tspan dy="-2.4" font-size="5.4">-3</tspan></text>
<text x="496" y="18.98" text-anchor="end" font-size="6.9">10<tspan dy="-2.4" font-size="5.4">-2</tspan></text>
<text x="496" y="8.05" text-anchor="end" font-size="6.9">10<tspan dy="-2.4" font-size="5.4">-1</tspan></text>
<path d="M499.9 208.1h3.5M678.1 208.1h-3.5M499.9 206.11h2M678.1 206.11h-2M499.9 204.12h2M678.1 204.12h-2M499.9 202.13h2M678.1 202.13h-2M499.9 200.14h2M678.1 200.14h-2M499.9 198.15h3.5M678.1 198.15h-3.5M499.9 196.16h2M678.1 196.16h-2M499.9 194.17h2M678.1 194.17h-2M499.9 192.18h2M678.1 192.18h-2M499.9 190.19h2M678.1 190.19h-2M499.9 188.2h3.5M678.1 188.2h-3.5M499.9 186.21h2M678.1 186.21h-2M499.9 184.22h2M678.1 184.22h-2M499.9 182.23h2M678.1 182.23h-2M499.9 180.24h2M678.1 180.24h-2M499.9 178.25h3.5M678.1 178.25h-3.5M499.9 176.26h2M678.1 176.26h-2M499.9 174.27h2M678.1 174.27h-2M499.9 172.28h2M678.1 172.28h-2M499.9 170.29h2M678.1 170.29h-2" stroke="#2a2a2a" stroke-width="0.6" fill="none"/>
<text x="495.8" y="208.7" text-anchor="end" font-size="6.9">0</text>
<text x="495.8" y="199.9" text-anchor="end" font-size="6.9">0.5</text>
<text x="495.8" y="189.9" text-anchor="end" font-size="6.9">1</text>
<text x="495.8" y="179.2" text-anchor="end" font-size="6.9">1.5</text>
<path d="M499.9 244.63h2M678.1 244.63h-2M499.9 243.12h2M678.1 243.12h-2M499.9 241.94h2M678.1 241.94h-2M499.9 240.98h2M678.1 240.98h-2M499.9 240.17h2M678.1 240.17h-2M499.9 239.47h2M678.1 239.47h-2M499.9 238.85h2M678.1 238.85h-2M499.9 238.3h3.5M678.1 238.3h-3.5M499.9 234.66h2M678.1 234.66h-2M499.9 232.53h2M678.1 232.53h-2M499.9 231.02h2M678.1 231.02h-2M499.9 229.84h2M678.1 229.84h-2M499.9 228.88h2M678.1 228.88h-2M499.9 228.07h2M678.1 228.07h-2M499.9 227.37h2M678.1 227.37h-2M499.9 226.75h2M678.1 226.75h-2M499.9 226.2h3.5M678.1 226.2h-3.5M499.9 222.56h2M678.1 222.56h-2M499.9 220.43h2M678.1 220.43h-2M499.9 218.92h2M678.1 218.92h-2M499.9 217.74h2M678.1 217.74h-2M499.9 216.78h2M678.1 216.78h-2M499.9 215.97h2M678.1 215.97h-2M499.9 215.27h2M678.1 215.27h-2M499.9 214.65h2M678.1 214.65h-2M499.9 214.1h3.5M678.1 214.1h-3.5M499.9 210.46h2M678.1 210.46h-2M499.9 208.33h2M678.1 208.33h-2" stroke="#2a2a2a" stroke-width="0.6" fill="none"/>
<text x="496" y="240.85" text-anchor="end" font-size="6.9">10<tspan dy="-2.4" font-size="5.4">0</tspan></text>
<text x="496" y="228.75" text-anchor="end" font-size="6.9">10<tspan dy="-2.4" font-size="5.4">1</tspan></text>
<text x="496" y="216.65" text-anchor="end" font-size="6.9">10<tspan dy="-2.4" font-size="5.4">2</tspan></text>
<path d="M499.9 285.23h2M678.1 285.23h-2M499.9 283.08h2M678.1 283.08h-2M499.9 281.55h2M678.1 281.55h-2M499.9 280.37h2M678.1 280.37h-2M499.9 279.41h2M678.1 279.41h-2M499.9 278.59h2M678.1 278.59h-2M499.9 277.88h2M678.1 277.88h-2M499.9 277.26h2M678.1 277.26h-2M499.9 276.7h3.5M678.1 276.7h-3.5M499.9 273.03h2M678.1 273.03h-2M499.9 270.88h2M678.1 270.88h-2M499.9 269.35h2M678.1 269.35h-2M499.9 268.17h2M678.1 268.17h-2M499.9 267.21h2M678.1 267.21h-2M499.9 266.39h2M678.1 266.39h-2M499.9 265.68h2M678.1 265.68h-2M499.9 265.06h2M678.1 265.06h-2M499.9 264.5h3.5M678.1 264.5h-3.5M499.9 260.83h2M678.1 260.83h-2M499.9 258.68h2M678.1 258.68h-2M499.9 257.15h2M678.1 257.15h-2M499.9 255.97h2M678.1 255.97h-2M499.9 255.01h2M678.1 255.01h-2M499.9 254.19h2M678.1 254.19h-2M499.9 253.48h2M678.1 253.48h-2M499.9 252.86h2M678.1 252.86h-2M499.9 252.3h3.5M678.1 252.3h-3.5M499.9 248.63h2M678.1 248.63h-2M499.9 246.48h2M678.1 246.48h-2" stroke="#2a2a2a" stroke-width="0.6" fill="none"/>
<text x="496" y="279.25" text-anchor="end" font-size="6.9">10<tspan dy="-2.4" font-size="5.4">0</tspan></text>
<text x="496" y="267.05" text-anchor="end" font-size="6.9">10<tspan dy="-2.4" font-size="5.4">1</tspan></text>
<text x="496" y="254.85" text-anchor="end" font-size="6.9">10<tspan dy="-2.4" font-size="5.4">2</tspan></text>
<path d="M502.25 169.4v-1.5M502.25 208.1v-1.5M502.25 246.2v-1.5M502.25 285.2v-1.5M505.84 169.4v-1.5M505.84 208.1v-1.5M505.84 246.2v-1.5M505.84 285.2v-1.5M509.42 169.4v-1.5M509.42 208.1v-1.5M509.42 246.2v-1.5M509.42 285.2v-1.5M513.01 169.4v-1.5M513.01 208.1v-1.5M513.01 246.2v-1.5M513.01 285.2v-1.5M516.6 169.4v-1.5M516.6 208.1v-1.5M516.6 246.2v-1.5M516.6 285.2v-1.5M520.19 169.4v-1.5M520.19 208.1v-1.5M520.19 246.2v-1.5M520.19 285.2v-1.5M523.78 169.4v-1.5M523.78 208.1v-1.5M523.78 246.2v-1.5M523.78 285.2v-1.5M527.37 169.4v-1.5M527.37 208.1v-1.5M527.37 246.2v-1.5M527.37 285.2v-1.5M530.96 169.4v-1.5M530.96 208.1v-1.5M530.96 246.2v-1.5M530.96 285.2v-1.5M534.55 169.4v-3M534.55 208.1v-3M534.55 246.2v-3M534.55 285.2v-3M538.14 169.4v-1.5M538.14 208.1v-1.5M538.14 246.2v-1.5M538.14 285.2v-1.5M541.72 169.4v-1.5M541.72 208.1v-1.5M541.72 246.2v-1.5M541.72 285.2v-1.5M545.31 169.4v-1.5M545.31 208.1v-1.5M545.31 246.2v-1.5M545.31 285.2v-1.5M548.9 169.4v-1.5M548.9 208.1v-1.5M548.9 246.2v-1.5M548.9 285.2v-1.5M552.49 169.4v-1.5M552.49 208.1v-1.5M552.49 246.2v-1.5M552.49 285.2v-1.5M556.08 169.4v-1.5M556.08 208.1v-1.5M556.08 246.2v-1.5M556.08 285.2v-1.5M559.67 169.4v-1.5M559.67 208.1v-1.5M559.67 246.2v-1.5M559.67 285.2v-1.5M563.26 169.4v-1.5M563.26 208.1v-1.5M563.26 246.2v-1.5M563.26 285.2v-1.5M566.85 169.4v-1.5M566.85 208.1v-1.5M566.85 246.2v-1.5M566.85 285.2v-1.5M570.43 169.4v-3M570.43 208.1v-3M570.43 246.2v-3M570.43 285.2v-3M574.02 169.4v-1.5M574.02 208.1v-1.5M574.02 246.2v-1.5M574.02 285.2v-1.5M577.61 169.4v-1.5M577.61 208.1v-1.5M577.61 246.2v-1.5M577.61 285.2v-1.5M581.2 169.4v-1.5M581.2 208.1v-1.5M581.2 246.2v-1.5M581.2 285.2v-1.5M584.79 169.4v-1.5M584.79 208.1v-1.5M584.79 246.2v-1.5M584.79 285.2v-1.5M588.38 169.4v-1.5M588.38 208.1v-1.5M588.38 246.2v-1.5M588.38 285.2v-1.5M591.97 169.4v-1.5M591.97 208.1v-1.5M591.97 246.2v-1.5M591.97 285.2v-1.5M595.56 169.4v-1.5M595.56 208.1v-1.5M595.56 246.2v-1.5M595.56 285.2v-1.5M599.15 169.4v-1.5M599.15 208.1v-1.5M599.15 246.2v-1.5M599.15 285.2v-1.5M602.73 169.4v-1.5M602.73 208.1v-1.5M602.73 246.2v-1.5M602.73 285.2v-1.5M606.32 169.4v-3M606.32 208.1v-3M606.32 246.2v-3M606.32 285.2v-3M609.91 169.4v-1.5M609.91 208.1v-1.5M609.91 246.2v-1.5M609.91 285.2v-1.5M613.5 169.4v-1.5M613.5 208.1v-1.5M613.5 246.2v-1.5M613.5 285.2v-1.5M617.09 169.4v-1.5M617.09 208.1v-1.5M617.09 246.2v-1.5M617.09 285.2v-1.5M620.68 169.4v-1.5M620.68 208.1v-1.5M620.68 246.2v-1.5M620.68 285.2v-1.5M624.27 169.4v-1.5M624.27 208.1v-1.5M624.27 246.2v-1.5M624.27 285.2v-1.5M627.86 169.4v-1.5M627.86 208.1v-1.5M627.86 246.2v-1.5M627.86 285.2v-1.5M631.45 169.4v-1.5M631.45 208.1v-1.5M631.45 246.2v-1.5M631.45 285.2v-1.5M635.03 169.4v-1.5M635.03 208.1v-1.5M635.03 246.2v-1.5M635.03 285.2v-1.5M638.62 169.4v-1.5M638.62 208.1v-1.5M638.62 246.2v-1.5M638.62 285.2v-1.5M642.21 169.4v-3M642.21 208.1v-3M642.21 246.2v-3M642.21 285.2v-3M645.8 169.4v-1.5M645.8 208.1v-1.5M645.8 246.2v-1.5M645.8 285.2v-1.5M649.39 169.4v-1.5M649.39 208.1v-1.5M649.39 246.2v-1.5M649.39 285.2v-1.5M652.98 169.4v-1.5M652.98 208.1v-1.5M652.98 246.2v-1.5M652.98 285.2v-1.5M656.57 169.4v-1.5M656.57 208.1v-1.5M656.57 246.2v-1.5M656.57 285.2v-1.5M660.16 169.4v-1.5M660.16 208.1v-1.5M660.16 246.2v-1.5M660.16 285.2v-1.5M663.74 169.4v-1.5M663.74 208.1v-1.5M663.74 246.2v-1.5M663.74 285.2v-1.5M667.33 169.4v-1.5M667.33 208.1v-1.5M667.33 246.2v-1.5M667.33 285.2v-1.5M670.92 169.4v-1.5M670.92 208.1v-1.5M670.92 246.2v-1.5M670.92 285.2v-1.5M674.51 169.4v-1.5M674.51 208.1v-1.5M674.51 246.2v-1.5M674.51 285.2v-1.5M678.1 169.4v-3M678.1 208.1v-3M678.1 246.2v-3M678.1 285.2v-3" stroke="#2a2a2a" stroke-width="0.6" fill="none"/>
<text x="535.05" y="293.9" text-anchor="middle" font-size="7.4">10</text>
<text x="570.93" y="293.9" text-anchor="middle" font-size="7.4">20</text>
<text x="606.82" y="293.9" text-anchor="middle" font-size="7.4">30</text>
<text x="642.71" y="293.9" text-anchor="middle" font-size="7.4">40</text>
<text x="678.6" y="293.9" text-anchor="middle" font-size="7.4">50</text>
<text x="590.5" y="305.8" text-anchor="middle" font-size="10.5">M [TeV]</text>
<text x="503.3" y="17.9" font-size="10.2" textLength="143.6" lengthAdjust="spacingAndGlyphs">dL / dM<tspan dy="-4.4" font-size="8.2">2</tspan><tspan dy="4.4"> comparison at 100 TeV</tspan></text>
<text transform="translate(474.8,92.3) rotate(-90)" text-anchor="middle" font-size="10.2">dL / dM<tspan dy="-4" font-size="7.3">2</tspan></text>
<text x="503.2" y="176.6" font-size="7.3">Ratio Q=M / Q=m<tspan dy="2.3" font-size="5.2">t</tspan></text>
<text x="503.2" y="216.6" font-size="7.4">Ratio over gγ, Q=M</text>
<text x="503.5" y="255.3" font-size="7.45">Ratio over gγ, Q=m<tspan dy="2.3" font-size="5.3">t</tspan></text>
<text x="676.4" y="163.3" text-anchor="end" font-size="8.9">NNPDF2.3</text>
</svg></body></html>
